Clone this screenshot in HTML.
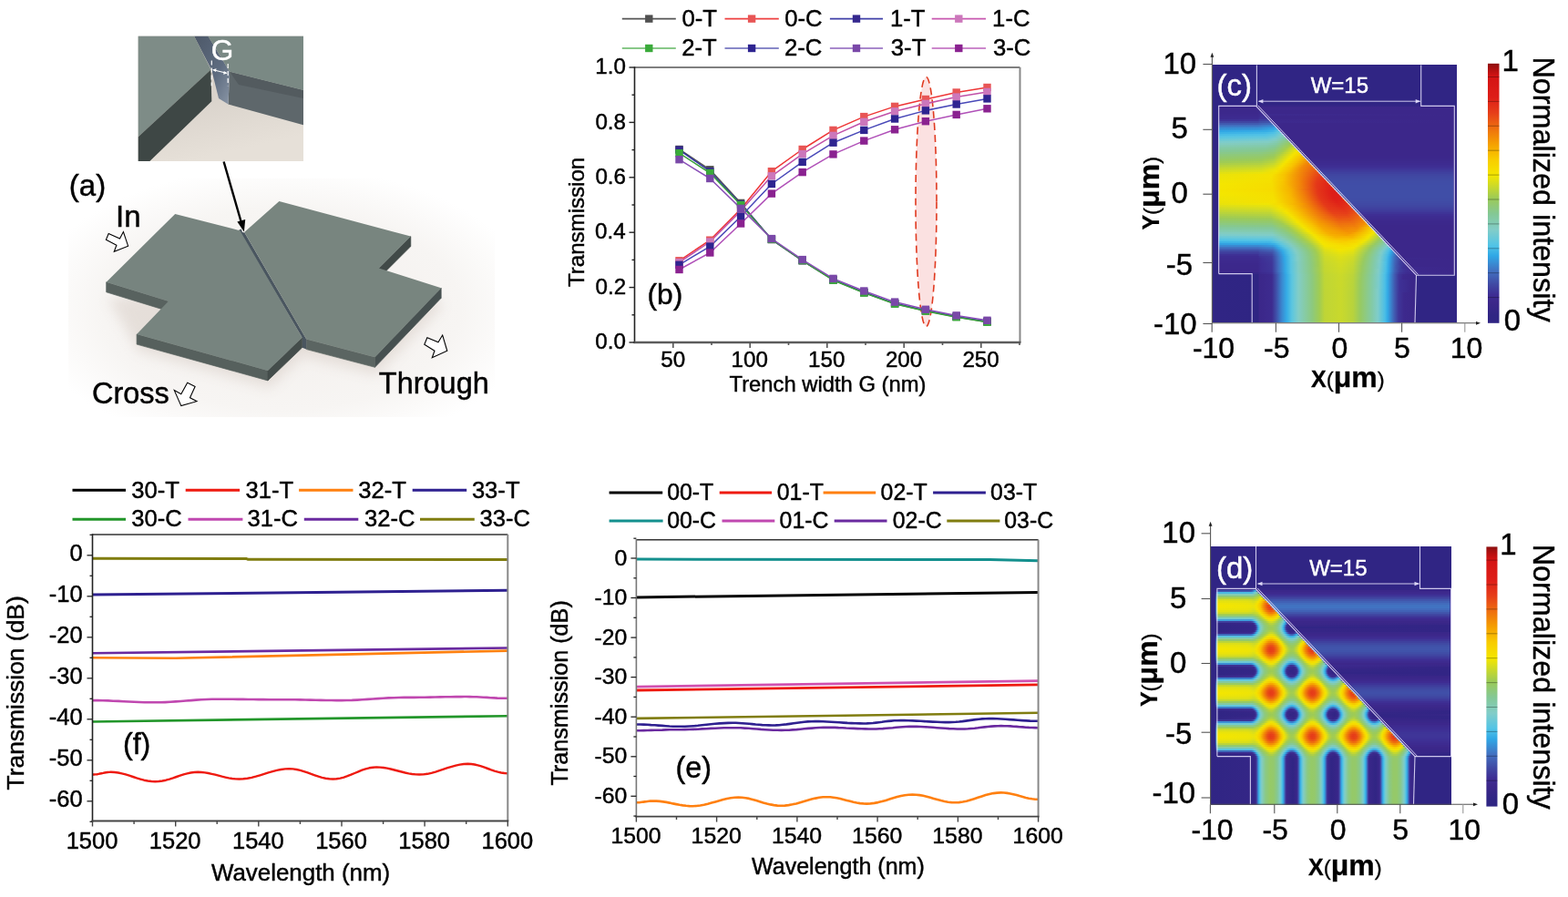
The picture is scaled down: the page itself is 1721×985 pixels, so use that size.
<!DOCTYPE html>
<html><head><meta charset="utf-8"><title>Figure</title>
<style>
html,body{margin:0;padding:0;background:#fff}
#fig{position:relative;width:1721px;height:985px;overflow:hidden;background:#fff;font-family:"Liberation Sans",Arial,sans-serif}
.fm{position:absolute;display:flex;flex-direction:column;overflow:hidden}
.fm i{display:block;flex:none;width:100%}
svg{position:absolute;left:0;top:0}
</style></head><body>
<div id="fig">
<div class="fm" style="left:1330.7px;top:71.4px;width:268px;height:283px"><i style="height:2px;background:#302584"></i><i style="height:2px;background:#302584"></i><i style="height:2px;background:#302584"></i><i style="height:2px;background:#302584"></i><i style="height:2px;background:#302584"></i><i style="height:2px;background:#302584"></i><i style="height:2px;background:#302584"></i><i style="height:2px;background:#302584"></i><i style="height:2px;background:#302584"></i><i style="height:2px;background:#302584"></i><i style="height:2px;background:#302584"></i><i style="height:2px;background:#302584"></i><i style="height:2px;background:#302584"></i><i style="height:2px;background:#302584"></i><i style="height:2px;background:#302584"></i><i style="height:2px;background:#302584"></i><i style="height:2px;background:#302584"></i><i style="height:2px;background:#302584"></i><i style="height:2px;background:#302584"></i><i style="height:2px;background:#302584"></i><i style="height:2px;background:#302584"></i><i style="height:2px;background:#302584"></i><i style="height:2px;background:linear-gradient(90deg,#302584 0px,#302584 6px,#362687 11px,#322585 265px,#302584 267px)"></i><i style="height:2px;background:linear-gradient(90deg,#302584 0px,#302584 6px,#3c278a 7px,#3c278a 264px,#302584 267px)"></i><i style="height:2px;background:linear-gradient(90deg,#302584 0px,#302584 6px,#3c288b 7px,#3c288b 52px,#3c278a 264px,#302584 267px)"></i><i style="height:2px;background:linear-gradient(90deg,#302584 0px,#302584 6px,#3c288b 7px,#3c288b 50px,#3e2d93 52px,#3c278a 56px,#3c278a 264px,#302584 267px)"></i><i style="height:2px;background:linear-gradient(90deg,#302584 0px,#302584 6px,#3c288c 7px,#3c288c 50px,#3e2d93 53px,#3c278a 59px,#3c278a 264px,#302584 267px)"></i><i style="height:2px;background:linear-gradient(90deg,#302584 0px,#302584 6px,#3d298d 7px,#3d298d 50px,#3e2f94 53px,#3d2a8e 57px,#3c278a 264px,#302584 267px)"></i><i style="height:2px;background:linear-gradient(90deg,#302584 0px,#302584 6px,#3d2a8f 7px,#3d2a8f 50px,#3e3196 54px,#3e3095 58px,#3c278a 61px,#3c278a 264px,#302584 267px)"></i><i style="height:2px;background:linear-gradient(90deg,#302584 0px,#302584 6px,#3d2b90 7px,#3d2c91 50px,#3e3497 52px,#3e3397 60px,#3c278a 63px,#3c278a 264px,#302584 267px)"></i><i style="height:2px;background:linear-gradient(90deg,#302584 0px,#302584 6px,#3e3397 7px,#3e3497 50px,#3f3f9d 51px,#3f42a0 61px,#3d298d 63px,#3c278a 264px,#302584 267px)"></i><i style="height:2px;background:linear-gradient(90deg,#302584 0px,#302584 6px,#4045a1 7px,#4046a2 50px,#404fa7 52px,#4154ab 63px,#3d2a8e 65px,#3c278a 264px,#302584 267px)"></i><i style="height:2px;background:linear-gradient(90deg,#302584 0px,#302584 6px,#4159af 7px,#415ab0 50px,#4162b5 53px,#4269bb 65px,#4050aa 66px,#3d2b8f 67px,#3c278a 78px,#3c278a 264px,#302584 267px)"></i><i style="height:2px;background:linear-gradient(90deg,#302584 0px,#302584 6px,#416fbf 7px,#4170c0 50px,#4077c5 54px,#3c83cd 66px,#3a88d0 67px,#3b63b7 68px,#3d2e91 69px,#3c278a 72px,#3c278a 264px,#302584 267px)"></i><i style="height:2px;background:linear-gradient(90deg,#302584 0px,#302584 6px,#3b85ce 7px,#3b87d0 50px,#388fd5 56px,#3599dc 66px,#32a7e5 69px,#3c74c0 70px,#3c278a 71px,#3c278a 264px,#302584 267px)"></i><i style="height:2px;background:linear-gradient(90deg,#302584 0px,#302584 6px,#3695d9 7px,#3597db 50px,#34abe6 67px,#42b7e6 70px,#42a7de 71px,#3860b3 72px,#3c278a 73px,#3c278a 264px,#302584 267px)"></i><i style="height:2px;background:linear-gradient(90deg,#302584 0px,#302584 6px,#31a5e4 7px,#36ade6 59px,#41b6e6 67px,#5ac6e1 72px,#4ab6df 73px,#3869b8 74px,#3c278a 75px,#3c278a 264px,#302584 267px)"></i><i style="height:2px;background:linear-gradient(90deg,#302584 0px,#302584 6px,#3bb1e6 7px,#43b8e6 57px,#4fc1e6 67px,#70cad4 74px,#59bedb 75px,#406fb8 76px,#3c278a 77px,#3c278a 264px,#302584 267px)"></i><i style="height:2px;background:linear-gradient(90deg,#302584 0px,#302584 6px,#48bce6 7px,#50c2e6 58px,#5ec6de 68px,#81cdc8 76px,#67c5d4 77px,#4776b8 78px,#3c278a 79px,#3c278a 264px,#302584 267px)"></i><i style="height:2px;background:linear-gradient(90deg,#302584 0px,#302584 6px,#55c4e4 7px,#5dc6df 59px,#6ac9d7 68px,#82ccc1 75px,#83cbb4 78px,#6ec8c7 79px,#3e3c9a 80px,#3c278a 81px,#3c278a 264px,#302584 267px)"></i><i style="height:2px;background:linear-gradient(90deg,#302584 0px,#302584 6px,#62c7dc 7px,#6bc9d6 60px,#7bcccc 69px,#84c9a0 80px,#628ea2 81px,#3e3e9b 82px,#3c278a 83px,#3c278a 264px,#302584 267px)"></i><i style="height:2px;background:linear-gradient(90deg,#302584 0px,#302584 6px,#6fcad4 7px,#79cbce 60px,#82ccc2 69px,#89c889 82px,#679097 83px,#3e419d 84px,#3c278a 85px,#3c278a 264px,#302584 267px)"></i><i style="height:2px;background:linear-gradient(90deg,#302584 0px,#302584 6px,#7ccccc 7px,#82cdc3 61px,#83cbb0 70px,#91c974 83px,#93c96e 84px,#6c938b 85px,#3f439f 86px,#3c278a 87px,#3c278a 264px,#302584 267px)"></i><i style="height:2px;background:linear-gradient(90deg,#302584 0px,#302584 6px,#82ccc2 7px,#83cbb8 59px,#83caa8 69px,#98ca60 84px,#9fcb54 86px,#759880 87px,#3f46a1 88px,#3c278a 89px,#3c278a 264px,#302584 267px)"></i><i style="height:2px;background:linear-gradient(90deg,#302584 0px,#302584 6px,#83cbb6 7px,#83caad 58px,#84c99c 69px,#a1cc52 84px,#b9d43b 88px,#607894 89px,#3c278a 90px,#3c278a 264px,#302584 267px)"></i><i style="height:2px;background:linear-gradient(90deg,#302584 0px,#302584 6px,#83caaa 7px,#84c9a1 58px,#85c892 68px,#a5cd4f 82px,#cdda28 89px,#add25b 90px,#62788c 91px,#3c278a 92px,#3c278a 264px,#302584 267px)"></i><i style="height:2px;background:linear-gradient(90deg,#302584 0px,#302584 6px,#84c9a0 7px,#84c896 57px,#8ac985 68px,#a3cd50 79px,#e4e110 91px,#bcd645 92px,#657882 93px,#3c278a 94px,#3c278a 264px,#302584 267px)"></i><i style="height:2px;background:linear-gradient(90deg,#302584 0px,#302584 6px,#84c896 7px,#87c88d 54px,#8ec97c 67px,#a5cd4e 77px,#f4e500 92px,#f5e200 93px,#c4d438 94px,#697878 95px,#3c278a 96px,#3c278a 264px,#302584 267px)"></i><i style="height:2px;background:linear-gradient(90deg,#302584 0px,#302584 6px,#88c88b 7px,#8cc981 53px,#92c96f 67px,#a8ce4b 75px,#f4e400 90px,#f6d800 95px,#c8cf2f 96px,#6d796f 97px,#3c278a 98px,#3c278a 264px,#302584 267px)"></i><i style="height:2px;background:linear-gradient(90deg,#302584 0px,#302584 6px,#8cc97f 7px,#90c976 53px,#97ca63 67px,#abcf49 73px,#f4e400 88px,#f8ce00 97px,#9aa466 98px,#3c56ac 99px,#3c278a 100px,#3c278a 264px,#302584 267px)"></i><i style="height:2px;background:linear-gradient(90deg,#302584 0px,#302584 6px,#90c975 7px,#94c96b 53px,#9cca58 67px,#f4e500 86px,#f7bc00 99px,#989e68 100px,#3b59ae 101px,#3c278b 102px,#3c278b 264px,#302584 267px)"></i><i style="height:2px;background:linear-gradient(90deg,#302584 0px,#302584 6px,#94c96b 7px,#98ca61 53px,#a5cd4e 67px,#f4e500 84px,#f7bb00 97px,#f6aa00 101px,#97986a 102px,#3a5db1 103px,#3c288b 104px,#3c288b 264px,#302584 267px)"></i><i style="height:2px;background:linear-gradient(90deg,#302584 0px,#302584 6px,#98ca60 7px,#9dcb57 53px,#b0d144 67px,#f4e500 82px,#f7bf00 94px,#f49603 103px,#949270 104px,#3861b4 105px,#3c298c 106px,#3c298c 264px,#302584 267px)"></i><i style="height:2px;background:linear-gradient(90deg,#302584 0px,#302584 6px,#9ecb56 7px,#a7ce4d 53px,#bad43a 67px,#f4e500 80px,#f7c000 92px,#f18608 105px,#929074 106px,#3d2a8e 107px,#3d2a8e 264px,#302584 267px)"></i><i style="height:2px;background:linear-gradient(90deg,#302584 0px,#302584 6px,#a9ce4b 7px,#b2d142 53px,#c6d82f 67px,#f4e400 78px,#f7c000 90px,#f18608 103px,#f07e0b 106px,#f2af06 107px,#998648 108px,#3d2b90 109px,#3d2b90 264px,#302584 267px)"></i><i style="height:2px;background:linear-gradient(90deg,#302584 0px,#302584 6px,#b4d240 7px,#bed537 53px,#d1db23 67px,#f4e400 76px,#f8c600 87px,#f28907 100px,#ef740e 108px,#f2a808 109px,#998549 110px,#3e2d92 111px,#3e2d92 264px,#302584 266px,#302584 267px)"></i><i style="height:2px;background:linear-gradient(90deg,#302584 0px,#302584 6px,#c0d635 7px,#c9d92c 53px,#dddf18 67px,#f4e300 74px,#f7c200 86px,#f28a07 98px,#ed6910 110px,#f1a009 111px,#9a834a 112px,#3e3095 113px,#3e3095 264px,#302584 266px,#302584 267px)"></i><i style="height:2px;background:linear-gradient(90deg,#302584 0px,#302584 6px,#cbd92a 7px,#d4dc21 53px,#ebe309 68px,#f5de00 74px,#f7c300 84px,#f28d06 96px,#eb5e13 112px,#f1980a 113px,#9b844c 114px,#3f3699 115px,#3f3699 264px,#3a2789 265px,#302584 266px,#302584 267px)"></i><i style="height:2px;background:linear-gradient(90deg,#302584 0px,#302584 6px,#d6dd1f 7px,#dfe015 53px,#f5e200 70px,#f7c000 83px,#f28b07 96px,#e95315 114px,#f0900b 115px,#477ec1 116px,#3f3c9c 117px,#3f3c9c 264px,#3b2789 265px,#302584 266px,#302584 267px)"></i><i style="height:2px;background:linear-gradient(90deg,#302584 0px,#302584 6px,#e1e013 7px,#ebe309 54px,#f5df00 69px,#f7c000 81px,#ef7a0c 100px,#e84817 116px,#9d847f 117px,#4b82c1 118px,#3f419f 119px,#3f419f 264px,#3c278a 265px,#302584 266px,#302584 267px)"></i><i style="height:2px;background:linear-gradient(90deg,#302584 0px,#302584 6px,#eae30a 7px,#f5e100 65px,#f7c200 79px,#f18708 96px,#e64019 117px,#e63e19 118px,#9f807d 119px,#4e85c0 120px,#4045a1 121px,#4045a1 264px,#3c278a 265px,#302584 266px,#302584 267px)"></i><i style="height:2px;background:linear-gradient(90deg,#302584 0px,#302584 6px,#ece408 7px,#f5e100 64px,#f7c500 78px,#f18508 96px,#e63e19 116px,#e43719 120px,#a17e7c 121px,#5087c0 122px,#4048a3 123px,#4048a3 264px,#3c288b 265px,#302584 266px,#302584 267px)"></i><i style="height:2px;background:linear-gradient(90deg,#302584 0px,#302584 6px,#eee406 7px,#f5e000 64px,#f7c400 78px,#f28807 95px,#e63c19 115px,#e33119 122px,#a37b7a 123px,#5289bf 124px,#404aa4 125px,#404aa4 264px,#3c288c 265px,#302584 266px,#302584 267px)"></i><i style="height:2px;background:linear-gradient(90deg,#302584 0px,#302584 6px,#f0e504 7px,#f5e000 63px,#f8c700 77px,#f18808 95px,#e53a19 115px,#e12c18 124px,#9b7c53 125px,#404ca5 126px,#404ca5 264px,#3c288c 265px,#302584 266px,#302584 267px)"></i><i style="height:2px;background:linear-gradient(90deg,#302584 0px,#302584 6px,#f2e502 7px,#f5df00 64px,#f7c200 78px,#f28807 95px,#e53a19 114px,#e12818 125px,#eb680c 126px,#9b7a53 127px,#404da6 128px,#404da6 264px,#3c298c 265px,#302584 266px,#302584 267px)"></i><i style="height:2px;background:linear-gradient(90deg,#302584 0px,#302584 6px,#f4e600 7px,#f5dd00 65px,#f7c200 78px,#f28907 95px,#e53819 114px,#e02418 127px,#ea640c 128px,#9b7853 129px,#404da7 130px,#404da7 264px,#3c298c 265px,#302584 266px,#302584 267px)"></i><i style="height:2px;background:linear-gradient(90deg,#302584 0px,#302584 6px,#f4e500 7px,#f5dd00 65px,#f7ba00 81px,#f0810a 97px,#e43819 114px,#df2118 129px,#ea600c 130px,#9b7753 131px,#404ea7 132px,#404ea7 264px,#3c298c 265px,#302584 266px,#302584 267px)"></i><i style="height:2px;background:linear-gradient(90deg,#302584 0px,#302584 6px,#f4e500 7px,#f6dc00 65px,#f6b600 83px,#f07e0b 98px,#e43819 114px,#de1f18 130px,#de1e18 131px,#e95e0c 132px,#9a7654 133px,#404ea7 134px,#404ea7 264px,#3c298c 265px,#302584 266px,#302584 267px)"></i><i style="height:2px;background:linear-gradient(90deg,#302584 0px,#302584 6px,#f4e400 7px,#f6db00 66px,#f6af00 86px,#ea5a13 106px,#e33319 116px,#de1e18 131px,#de1e18 133px,#a67376 134px,#578cbe 135px,#404ea7 136px,#404ea7 264px,#3c298c 265px,#302584 266px,#302584 267px)"></i><i style="height:2px;background:linear-gradient(90deg,#302584 0px,#302584 6px,#f4e500 7px,#f6dc00 66px,#f6b400 85px,#ef750e 101px,#e43619 115px,#de1e18 130px,#dd1d18 135px,#a67376 136px,#578cbe 137px,#404ea7 138px,#404ea7 264px,#3c298c 265px,#302584 266px,#302584 267px)"></i><i style="height:2px;background:linear-gradient(90deg,#302584 0px,#302584 6px,#f4e600 7px,#f5de00 66px,#f6b600 85px,#f07c0b 100px,#e43819 115px,#de1e18 130px,#dd1d18 137px,#a67376 138px,#578bbe 139px,#404ea7 140px,#404ea7 264px,#3c298c 265px,#302584 266px,#302584 267px)"></i><i style="height:2px;background:linear-gradient(90deg,#302584 0px,#302584 6px,#f3e601 7px,#f5df00 66px,#f7b800 85px,#f07f0a 100px,#e43719 116px,#de1e18 131px,#de1e18 139px,#a67376 140px,#578bbe 141px,#404ea7 142px,#404ea7 264px,#3c298c 265px,#302584 266px,#302584 267px)"></i><i style="height:2px;background:linear-gradient(90deg,#302584 0px,#302584 6px,#f1e503 7px,#f5e000 66px,#f7ba00 85px,#f18309 100px,#e43719 117px,#de1e18 132px,#de1f18 141px,#a57477 142px,#404ea7 143px,#404ea7 264px,#3c298c 265px,#302584 266px,#302584 267px)"></i><i style="height:2px;background:linear-gradient(90deg,#302584 0px,#302584 6px,#efe505 7px,#f5e000 67px,#f7b700 87px,#f07e0b 102px,#e43719 118px,#de1e18 133px,#df2118 142px,#ea620c 143px,#9b7953 144px,#404da6 145px,#404da6 264px,#3c298c 265px,#302584 266px,#302584 267px)"></i><i style="height:2px;background:linear-gradient(90deg,#302584 0px,#302584 6px,#eee407 7px,#f5e000 68px,#f6b600 88px,#f07e0a 103px,#e43819 119px,#de1f18 135px,#e02418 144px,#eb660c 145px,#9b7b53 146px,#404da6 147px,#404da6 264px,#3c298c 265px,#302584 266px,#302584 267px)"></i><i style="height:2px;background:linear-gradient(90deg,#302584 0px,#302584 6px,#ece308 7px,#f5e100 68px,#f6b600 89px,#f07b0c 105px,#e43719 121px,#df2218 136px,#e12818 146px,#eb6b0c 147px,#9b7d53 148px,#404ba5 149px,#404ba5 264px,#3c288c 265px,#302584 266px,#302584 267px)"></i><i style="height:2px;background:linear-gradient(90deg,#302584 0px,#302584 6px,#e8e20c 7px,#f0e504 61px,#f6d900 75px,#f59d01 98px,#e53919 122px,#e02518 138px,#e22d18 148px,#ec700c 149px,#9b7f52 150px,#4049a4 151px,#4049a4 264px,#3c288c 265px,#302584 266px,#302584 267px)"></i><i style="height:2px;background:linear-gradient(90deg,#302584 0px,#302584 6px,#dfdf16 7px,#e6e20e 61px,#f5e000 73px,#f7bf00 88px,#f18608 105px,#e53919 124px,#e12818 139px,#e33319 150px,#ed760c 151px,#4f87c1 152px,#4047a2 153px,#4047a2 264px,#3c288b 265px,#302584 266px,#302584 267px)"></i><i style="height:2px;background:linear-gradient(90deg,#302584 0px,#302584 6px,#d5dc20 7px,#dddf18 62px,#f5e200 75px,#f7c300 88px,#f18808 106px,#e53a19 126px,#e22d18 142px,#e53919 152px,#a0807d 153px,#4c85c1 154px,#4043a0 155px,#4043a0 264px,#3c278a 265px,#302584 266px,#302584 267px)"></i><i style="height:2px;background:linear-gradient(90deg,#302584 0px,#302584 6px,#cbd92a 7px,#d3dc22 63px,#ece408 73px,#f6dc00 81px,#f59d01 102px,#e53b19 128px,#e33219 144px,#e64019 154px,#9e847e 155px,#4882c2 156px,#3f3f9e 157px,#3f3f9e 264px,#3b278a 265px,#302584 266px,#302584 267px)"></i><i style="height:2px;background:linear-gradient(90deg,#302584 0px,#302584 6px,#c1d634 7px,#c9d92c 63px,#e2e013 73px,#f5e300 80px,#f7c300 92px,#f18509 110px,#e63e19 130px,#e43819 146px,#e84b16 156px,#9b887e 157px,#447cc1 158px,#3f3a9b 159px,#3f3a9b 264px,#3a2789 265px,#302584 266px,#302584 267px)"></i><i style="height:2px;background:linear-gradient(90deg,#302584 0px,#302584 6px,#b7d33d 7px,#bed536 63px,#d7dd1d 73px,#f4e400 82px,#f7c300 94px,#f18409 112px,#e74218 132px,#e63d19 147px,#ea5614 158px,#988a7d 159px,#4076bf 160px,#3e3497 161px,#3e3497 264px,#392789 265px,#302584 267px)"></i><i style="height:2px;background:linear-gradient(90deg,#302584 0px,#302584 6px,#add047 7px,#b5d23f 64px,#dbde1a 77px,#f5e200 85px,#f7be00 97px,#f07d0b 116px,#e84817 134px,#e74418 147px,#ec6112 160px,#9a854a 161px,#3e2f94 162px,#3e2f94 264px,#302584 266px,#302584 267px)"></i><i style="height:2px;background:linear-gradient(90deg,#302584 0px,#302584 6px,#a3cd50 7px,#aacf49 64px,#d0db25 77px,#f5e300 87px,#f7bf00 99px,#f07b0c 119px,#e94e16 136px,#e94e16 149px,#ed6910 161px,#f2a508 162px,#998649 163px,#3d2c91 164px,#3d2c91 264px,#302584 266px,#302584 267px)"></i><i style="height:2px;background:linear-gradient(90deg,#302584 0px,#302584 6px,#9aca5b 7px,#9fcb54 64px,#c5d82f 77px,#f4e300 89px,#f7bf00 101px,#ef760d 123px,#ea5514 139px,#eb5c13 153px,#ef740e 163px,#f2ac06 164px,#998748 165px,#3d2b8f 166px,#3d2b8f 264px,#302584 267px)"></i><i style="height:2px;background:linear-gradient(90deg,#302584 0px,#302584 6px,#95ca67 7px,#98ca61 64px,#a7ce4c 72px,#e4e110 87px,#f5e200 92px,#f7c100 103px,#f39105 117px,#eb6012 137px,#eb6012 151px,#f07e0b 165px,#f2b405 166px,#968749 167px,#3d298d 168px,#3d298d 264px,#302584 267px)"></i><i style="height:2px;background:linear-gradient(90deg,#302584 0px,#302584 6px,#90c974 7px,#93c96e 64px,#a2cc51 74px,#dddf18 88px,#f4e500 93px,#f7bf00 106px,#f39603 118px,#ed6811 139px,#ed6c10 154px,#f28907 167px,#eeba08 168px,#8d8451 169px,#3c288c 170px,#3c288c 264px,#302584 267px)"></i><i style="height:2px;background:linear-gradient(90deg,#302584 0px,#302584 6px,#8cc981 7px,#8ec97b 64px,#a0cc53 77px,#e5e10f 92px,#f4e300 96px,#f7c100 108px,#f5a000 117px,#ee710f 139px,#ef750d 155px,#f38f05 166px,#f59f01 169px,#979c6b 170px,#3b5aaf 171px,#3c288b 172px,#3c288b 264px,#302584 267px)"></i><i style="height:2px;background:linear-gradient(90deg,#302584 0px,#302584 6px,#87c88f 7px,#89c887 65px,#a3cd50 81px,#f4e400 98px,#f7c200 110px,#f5a400 118px,#ef790c 140px,#f07d0b 156px,#f39105 164px,#f6b400 171px,#98a268 172px,#3c56ac 173px,#3c278a 174px,#3c278a 264px,#302584 267px)"></i><i style="height:2px;background:linear-gradient(90deg,#302584 0px,#302584 6px,#84c99c 7px,#85c896 65px,#9ecb55 83px,#f3e501 100px,#f7c400 112px,#f5a600 120px,#f0810a 142px,#f28907 159px,#f8c900 173px,#9aa866 174px,#3d52aa 175px,#3c278a 176px,#3c278a 264px,#302584 267px)"></i><i style="height:2px;background:linear-gradient(90deg,#302584 0px,#302584 6px,#83caa8 7px,#84c9a2 65px,#8ec97b 77px,#a0cc53 86px,#f4e400 103px,#f7c100 115px,#f6a800 122px,#f28807 144px,#f39005 158px,#f6d700 175px,#9aab64 176px,#3e4fa7 177px,#3c278a 178px,#3c278a 264px,#302584 267px)"></i><i style="height:2px;background:linear-gradient(90deg,#302584 0px,#302584 6px,#83cbb4 7px,#83caae 65px,#8cc980 79px,#a3cd50 89px,#f3e501 105px,#f7c200 117px,#f6ab00 124px,#f38f05 147px,#f39503 156px,#f6da00 174px,#f5e200 177px,#9aad62 178px,#3c278a 179px,#3c278a 264px,#302584 267px)"></i><i style="height:2px;background:linear-gradient(90deg,#302584 0px,#302584 6px,#82ccc1 7px,#83ccbb 65px,#8bc982 82px,#a6cd4e 92px,#f4e400 108px,#f7bf00 120px,#f5a700 130px,#f49703 151px,#f6b500 161px,#f3e501 176px,#e8e20c 178px,#b4d44e 179px,#61788d 180px,#3c278a 181px,#3c278a 264px,#302584 267px)"></i><i style="height:2px;background:linear-gradient(90deg,#302584 0px,#302584 6px,#7bcccc 7px,#81cdc6 66px,#8ac986 84px,#a3cd50 94px,#f4e300 111px,#f6b100 129px,#f5a100 147px,#f6ac00 155px,#f4e400 173px,#ccda29 180px,#a3cf66 181px,#607897 182px,#3c278a 183px,#3c278a 264px,#302584 267px)"></i><i style="height:2px;background:linear-gradient(90deg,#302584 0px,#302584 6px,#6ec9d5 7px,#74cad1 65px,#83cbb9 74px,#89c889 86px,#a6ce4d 97px,#f4e400 113px,#f6b200 135px,#f6b100 153px,#f4e400 171px,#b1d143 182px,#95cc7d 183px,#5f799f 184px,#3c278a 185px,#3c278a 264px,#302584 267px)"></i><i style="height:2px;background:linear-gradient(90deg,#302584 0px,#302584 6px,#5fc6de 7px,#65c8da 65px,#82ccbf 76px,#8ac986 89px,#a3cd50 99px,#f4e400 115px,#f7be00 135px,#f7be00 153px,#efe405 170px,#98ca60 184px,#8bcb95 185px,#5f7aa9 186px,#3c278a 187px,#3c278a 264px,#302584 267px)"></i><i style="height:2px;background:linear-gradient(90deg,#302584 0px,#302584 6px,#4fc1e6 7px,#55c4e4 64px,#7acbcd 75px,#83cbb1 83px,#8fc977 94px,#a6cd4e 102px,#f4e500 117px,#f8d000 130px,#f8c600 146px,#f7d500 158px,#f1e503 167px,#98ca61 182px,#8dc97f 186px,#81caac 187px,#3e3f9c 188px,#3c278a 189px,#3c278a 264px,#302584 267px)"></i><i style="height:2px;background:linear-gradient(90deg,#302584 0px,#302584 6px,#3db3e6 7px,#43b8e6 63px,#5ac6e1 71px,#82ccc2 82px,#8dc97f 95px,#a8ce4c 105px,#f4e500 119px,#f8cf00 140px,#f6d700 156px,#f1e503 164px,#97ca63 180px,#84c99c 188px,#628ea9 189px,#3e3c99 190px,#3c278a 191px,#3c278a 264px,#302584 267px)"></i><i style="height:2px;background:linear-gradient(90deg,#302584 0px,#302584 6px,#33a0e0 7px,#33a6e4 60px,#3bb1e6 68px,#5ec6df 75px,#82ccc0 85px,#8cc982 97px,#a5cd4e 107px,#f4e501 121px,#f7d600 145px,#f5e100 158px,#e8e20c 163px,#96ca64 178px,#83caaa 188px,#83cbb8 190px,#618db4 191px,#3e3897 192px,#3c278a 193px,#3c278a 264px,#302584 267px)"></i><i style="height:2px;background:linear-gradient(90deg,#302584 0px,#302584 6px,#3a89d1 7px,#3a89d1 50px,#3890d6 57px,#3598db 66px,#34abe6 70px,#59c5e2 77px,#82ccc1 87px,#8dc97d 100px,#a4cd4f 109px,#f3e501 123px,#f6dc00 149px,#f1e503 158px,#99ca5e 175px,#83caaa 186px,#7eccca 191px,#78cbce 192px,#5788bc 193px,#3e3595 194px,#3c278a 195px,#3c278a 264px,#302584 267px)"></i><i style="height:2px;background:linear-gradient(90deg,#302584 0px,#302584 6px,#4171c0 7px,#4171c1 50px,#4078c5 54px,#3c82cc 66px,#33a7e4 72px,#5ac5e1 80px,#82ccc1 89px,#8dc97e 102px,#a5cd4f 111px,#eae30b 123px,#f5e000 137px,#f2e502 155px,#99ca5e 173px,#83caaa 184px,#7fccca 189px,#5bc6e0 194px,#4882c2 195px,#3e3293 196px,#3c278a 197px,#3c278a 264px,#302584 267px)"></i><i style="height:2px;background:linear-gradient(90deg,#302584 0px,#302584 6px,#415bb1 7px,#415bb1 50px,#4162b6 53px,#426cbd 66px,#33aae6 75px,#5dc6df 83px,#82cdc5 90px,#8bc983 103px,#a1cc52 112px,#e0e014 123px,#f4e500 140px,#ece309 154px,#96ca64 172px,#83caa7 182px,#7bcccd 188px,#4ec0e6 194px,#3db3e6 196px,#3d53aa 197px,#3c278a 198px,#3c278a 264px,#302584 267px)"></i><i style="height:2px;background:linear-gradient(90deg,#302584 0px,#302584 6px,#4048a3 7px,#4048a3 50px,#4050a9 52px,#415cb1 66px,#3a88d0 72px,#33abe6 77px,#5bc6e0 84px,#82cdc7 91px,#8cc980 105px,#a0cc53 113px,#d9de1c 123px,#eee406 140px,#e2e112 154px,#95c968 171px,#83caaa 181px,#7fccca 186px,#4cbfe6 193px,#32a8e5 196px,#339fe0 197px,#3c82cc 198px,#3f48a2 199px,#3c278a 200px,#3c278a 264px,#302584 267px)"></i><i style="height:2px;background:linear-gradient(90deg,#302584 0px,#302584 6px,#3f3c9c 7px,#3f3c9c 50px,#4045a1 52px,#404da6 65px,#4075c3 71px,#31a5e4 77px,#56c5e3 84px,#82cdc6 92px,#8cc980 106px,#a1cc52 114px,#d4dc21 123px,#e8e20d 141px,#dcdf19 154px,#97ca62 169px,#83caa9 180px,#80cdc9 185px,#4dc0e6 192px,#32aae6 195px,#3c81cc 199px,#416abb 200px,#3e3f9b 201px,#3c278a 202px,#3c278a 264px,#302584 267px)"></i><i style="height:2px;background:linear-gradient(90deg,#302584 0px,#302584 6px,#3e3195 7px,#3e3195 50px,#3f3b9c 51px,#4044a0 65px,#3f78c5 72px,#31a6e5 78px,#58c5e2 85px,#82cdc3 93px,#8bc983 106px,#a3cd50 115px,#d0db25 123px,#e2e112 141px,#d6dd1f 154px,#97ca62 168px,#83caa8 179px,#7bcccc 185px,#48bce6 192px,#31a4e3 195px,#4166b8 201px,#4155ac 202px,#3e3796 203px,#3c278a 204px,#3c278a 264px,#302584 267px)"></i><i style="height:2px;background:linear-gradient(90deg,#302584 0px,#302584 6px,#3d2c91 7px,#3d2c91 50px,#3e3497 52px,#3f3d9c 65px,#4173c2 72px,#31a9e6 79px,#5cc6e0 86px,#82cdc6 93px,#8cc981 107px,#a0cc53 115px,#ccda29 123px,#dedf17 141px,#d1db24 154px,#98ca61 167px,#83caa6 178px,#7eccca 184px,#4cbfe6 191px,#31a9e6 194px,#4160b4 201px,#4047a2 204px,#3e3293 205px,#3c278a 206px,#3c278a 264px,#302584 267px)"></i><i style="height:2px;background:linear-gradient(90deg,#302584 0px,#302584 6px,#3d2b8f 7px,#3d2b8f 50px,#3e3296 54px,#3f3b9b 65px,#4271c1 72px,#30a8e6 79px,#5bc6e0 86px,#82cdc6 93px,#8bc982 107px,#a4cd4f 116px,#cad92b 123px,#dbde1a 141px,#ceda27 154px,#98ca5f 166px,#83caa8 178px,#7dcccb 184px,#4abde6 191px,#30a7e5 194px,#4267ba 200px,#4047a2 205px,#3c298c 207px,#3c278a 264px,#302584 267px)"></i><i style="height:2px;background:linear-gradient(90deg,#302584 0px,#302584 6px,#3d2a8e 7px,#3d2a8e 50px,#3e3095 54px,#3f399a 65px,#4270c0 72px,#30a7e5 79px,#5bc6e1 86px,#82cdc7 93px,#8bc983 107px,#a3cd50 116px,#c9d92c 123px,#d8dd1c 141px,#cbd92a 154px,#97ca62 166px,#83caaa 178px,#81cdc8 183px,#48bce6 191px,#31a5e4 194px,#4166b8 200px,#4045a1 205px,#3e3194 208px,#3c278a 210px,#3c278a 264px,#302584 267px)"></i><i style="height:2px;background:linear-gradient(90deg,#302584 0px,#302584 6px,#3d298d 7px,#3d298d 50px,#3e2e94 53px,#3f3799 65px,#426fbf 72px,#31a6e5 79px,#5ac6e1 86px,#82ccc2 94px,#8cc97f 108px,#a2cc52 116px,#c7d82e 123px,#d6dd1f 141px,#c8d82d 154px,#98ca60 165px,#83caa6 177px,#80cdc9 183px,#4fc2e6 190px,#31a4e3 194px,#4164b7 200px,#3f43a0 205px,#3e2f93 210px,#3c278a 214px,#3c278a 264px,#302584 267px)"></i><i style="height:2px;background:linear-gradient(90deg,#302584 0px,#302584 6px,#3c288c 7px,#3c288c 50px,#3e2d93 53px,#3f3699 65px,#426fbf 72px,#34abe6 80px,#5ac5e1 86px,#82ccc2 94px,#8cc980 108px,#a1cc52 116px,#c6d82f 123px,#d4dc21 141px,#c6d82f 154px,#97ca62 165px,#83caa8 177px,#7eccca 183px,#4ec1e6 190px,#32a2e2 194px,#4163b6 200px,#3f419f 205px,#3d2d91 212px,#3c278a 218px,#3c278a 264px,#302584 267px)"></i><i style="height:2px;background:linear-gradient(90deg,#302584 0px,#302584 6px,#3c288b 7px,#3c288b 50px,#3e2d93 53px,#3f3698 65px,#426ebf 72px,#34abe6 80px,#59c5e1 86px,#82ccc3 94px,#8cc980 108px,#a0cc53 116px,#c5d730 123px,#d3dc22 141px,#c4d731 154px,#98ca5f 164px,#83caa9 177px,#7dcccb 183px,#4dc0e6 190px,#34abe6 193px,#4159af 201px,#3e3598 208px,#3d2c91 214px,#3c278a 218px,#3c278a 264px,#302584 267px)"></i><i style="height:2px;background:linear-gradient(90deg,#302584 0px,#302584 6px,#3c288b 7px,#3c288b 50px,#3e2d93 53px,#3f3598 65px,#426ebf 72px,#33abe6 80px,#59c5e1 86px,#82ccc3 94px,#8cc981 108px,#a5cd4e 117px,#c4d730 123px,#d1db24 141px,#c2d732 154px,#98ca61 164px,#83caaa 177px,#7ccccb 183px,#4cbfe6 190px,#33aae6 193px,#4158ae 201px,#3e3497 208px,#3d298e 216px,#3c278a 264px,#302584 267px)"></i><i style="height:2px;background:linear-gradient(90deg,#302584 0px,#302584 6px,#3c278b 7px,#3c278b 50px,#3e2d92 53px,#3e3598 65px,#426ebe 72px,#33abe6 80px,#59c5e2 86px,#82ccc3 94px,#8cc981 108px,#a5cd4f 117px,#c4d731 123px,#d0db25 141px,#c1d633 154px,#97ca62 164px,#83caa5 176px,#82cdc8 182px,#4bbfe6 190px,#32aae6 193px,#4161b5 200px,#3f409e 205px,#3e3196 211px,#3d298d 218px,#3c278a 264px,#302584 267px)"></i><i style="height:2px;background:linear-gradient(90deg,#302584 0px,#302584 6px,#3c278a 7px,#3c278a 50px,#3e2d92 53px,#3e3498 65px,#426ebe 72px,#33aae6 80px,#59c5e2 86px,#82cdc3 94px,#8cc981 108px,#a4cd4f 117px,#c3d731 123px,#cfdb26 141px,#c0d635 154px,#97ca63 164px,#83caa6 176px,#81cdc8 182px,#4bbee6 190px,#32a9e6 193px,#4160b4 200px,#3f3f9e 205px,#3e3095 211px,#3d298d 220px,#3c278a 264px,#302584 267px)"></i><i style="height:2px;background:linear-gradient(90deg,#302584 0px,#302584 6px,#362687 11px,#362687 50px,#3c2a8e 53px,#3e3094 65px,#4160b4 71px,#32a8e5 80px,#57c5e3 86px,#82cdc5 94px,#8bc983 108px,#a3cc51 117px,#c1d633 123px,#cdda28 141px,#bed537 154px,#98ca61 163px,#83caa8 176px,#7fccca 182px,#50c2e6 189px,#31a6e4 193px,#415bb1 200px,#3f389a 205px,#3d2b90 213px,#3c278a 264px,#302584 267px)"></i><i style="height:2px;background:linear-gradient(90deg,#302584 0px,#2f2583 50px,#3b2789 51px,#3d2b8f 65px,#4051a9 70px,#3a88d0 76px,#34abe6 81px,#5bc6e0 87px,#82cdc7 94px,#8cc980 109px,#a1cc52 117px,#c0d635 123px,#cbda29 141px,#bcd439 154px,#97ca63 163px,#83c9a5 175px,#7dcccb 182px,#4dc0e6 189px,#32a3e2 193px,#4161b5 199px,#3f3799 204px,#3d2a8e 209px,#3b2789 222px,#302584 223px,#362687 236px,#322585 265px,#302584 267px)"></i><i style="height:2px;background:linear-gradient(90deg,#302584 0px,#2f2583 50px,#3b2789 51px,#3d2b8f 65px,#4051a9 70px,#3a88d0 76px,#34abe6 81px,#5bc6e0 87px,#82cdc7 94px,#8cc980 109px,#a1cc52 117px,#c0d635 123px,#cbd92a 141px,#bbd439 154px,#97ca64 163px,#83caa5 175px,#7ccccc 182px,#4dc0e6 189px,#32a2e2 193px,#4161b5 199px,#3f3799 204px,#3d298e 209px,#3b2789 222px,#302584 223px,#302584 267px)"></i><i style="height:2px;background:linear-gradient(90deg,#302584 0px,#2f2583 50px,#3b2789 51px,#3d2b8f 65px,#4051a9 70px,#3a88d0 76px,#34abe6 81px,#5bc6e0 87px,#82cdc7 94px,#8cc980 109px,#a1cc53 117px,#bfd635 123px,#cbd92a 141px,#bad43a 154px,#96ca65 163px,#83caa6 175px,#7ccccc 182px,#4dc0e6 189px,#32a2e2 193px,#4161b5 199px,#3f3799 204px,#3d298d 209px,#3b2789 222px,#302584 223px,#302584 267px)"></i><i style="height:2px;background:linear-gradient(90deg,#302584 0px,#2f2583 50px,#3b2789 51px,#3d2b8f 65px,#4051a9 70px,#3a88d0 76px,#34abe6 81px,#5bc6e0 87px,#82cdc7 94px,#8cc980 109px,#a1cc53 117px,#bfd635 123px,#cad92b 141px,#bad43a 154px,#98ca60 162px,#83caa6 175px,#7ccccc 182px,#4cbfe6 189px,#33abe6 192px,#4156ad 200px,#3e3196 205px,#3b278a 218px,#3b2789 222px,#302584 223px,#302584 267px)"></i><i style="height:2px;background:linear-gradient(90deg,#302584 0px,#2f2583 50px,#3b2789 51px,#3d2b8f 65px,#4051a9 70px,#3a88d0 76px,#34abe6 81px,#5bc6e0 87px,#82cdc7 94px,#8cc980 109px,#a0cc53 117px,#bfd635 123px,#cad92b 141px,#bad43b 154px,#98ca60 162px,#83caa7 175px,#7bcccc 182px,#4cbfe6 189px,#33abe6 192px,#4156ad 200px,#3e3196 205px,#3b278a 218px,#3b2789 222px,#302584 223px,#302584 267px)"></i><i style="height:2px;background:linear-gradient(90deg,#302584 0px,#2f2583 50px,#3b2789 51px,#3d2b8f 65px,#4051a9 70px,#3a88d0 76px,#34abe6 81px,#5bc6e0 87px,#82cdc7 94px,#8cc980 109px,#a0cc53 117px,#bfd635 123px,#cad92b 141px,#b9d43b 154px,#98ca61 162px,#83caa7 175px,#7bcccc 182px,#4cbfe6 189px,#33aae6 192px,#4156ad 200px,#3e3196 205px,#3b278a 218px,#3b2789 222px,#302584 223px,#302584 267px)"></i><i style="height:2px;background:linear-gradient(90deg,#302584 0px,#2f2583 50px,#3b2789 51px,#3d2b8f 65px,#4051a9 70px,#3a88d0 76px,#34abe6 81px,#5bc6e0 87px,#82cdc7 94px,#8cc980 109px,#a0cc53 117px,#bfd635 123px,#cad92b 141px,#b9d43b 154px,#98ca61 162px,#83caa7 175px,#7bcccc 182px,#4cbfe6 189px,#33aae6 192px,#4156ad 200px,#3e3196 205px,#3b278a 218px,#3b2789 222px,#302584 223px,#302584 267px)"></i><i style="height:2px;background:linear-gradient(90deg,#302584 0px,#2f2583 50px,#3b2789 51px,#3d2b8f 65px,#4051a9 70px,#3a88d0 76px,#34abe6 81px,#5bc6e0 87px,#82cdc7 94px,#8cc980 109px,#a0cc53 117px,#bfd635 123px,#c9d92b 141px,#b9d43b 154px,#98ca61 162px,#83caa7 175px,#7bcccd 182px,#4cbfe6 189px,#33aae6 192px,#4156ad 200px,#3e3196 205px,#3b278a 218px,#3b2789 222px,#302584 223px,#302584 267px)"></i><i style="height:2px;background:linear-gradient(90deg,#302584 0px,#2f2583 50px,#3b2789 51px,#3d2b8f 65px,#4051a9 70px,#3a88d0 76px,#34abe6 81px,#5bc6e0 87px,#82cdc7 94px,#8cc980 109px,#a0cc53 117px,#bfd536 123px,#c9d92c 141px,#b9d33c 154px,#97ca61 162px,#83caa7 175px,#80cdc9 181px,#4bbfe6 189px,#33aae6 192px,#4156ad 200px,#3e3196 205px,#3b278a 218px,#3b2789 222px,#302584 223px,#302584 267px)"></i><i style="height:2px;background:linear-gradient(90deg,#302584 0px,#2f2583 50px,#3b2789 51px,#3d2b8f 65px,#4051a9 70px,#3a88d0 76px,#34abe6 81px,#5bc6e0 87px,#82cdc7 94px,#8cc980 109px,#a0cc53 117px,#bfd536 123px,#c9d92c 141px,#b8d33c 154px,#97ca62 162px,#83caa8 175px,#80cdc9 181px,#4bbfe6 189px,#33aae6 192px,#4156ad 200px,#3e3196 205px,#3b278a 218px,#3b2789 222px,#302584 223px,#302584 267px)"></i><i style="height:2px;background:linear-gradient(90deg,#302584 0px,#2f2583 50px,#3b2789 51px,#3d2b8f 65px,#4051a9 70px,#3a88d0 76px,#34abe6 81px,#5bc6e0 87px,#82cdc7 94px,#8cc980 109px,#a0cc53 117px,#bfd536 123px,#c9d92c 141px,#b8d33c 154px,#97ca62 162px,#83caa8 175px,#80cdc9 181px,#4bbee6 189px,#32aae6 192px,#4160b4 199px,#3f3699 204px,#3d298d 210px,#3b2789 222px,#302584 223px,#302584 267px)"></i><i style="height:2px;background:linear-gradient(90deg,#302584 0px,#2f2583 50px,#3b2789 51px,#3d2b8f 65px,#4051a9 70px,#3a88d0 76px,#34abe6 81px,#5bc6e0 87px,#82cdc7 94px,#8cc980 109px,#a0cc53 117px,#bfd536 123px,#c9d92c 141px,#b8d33c 154px,#97ca62 162px,#83caa8 175px,#80cdc9 181px,#4bbee6 189px,#32aae6 192px,#4160b4 199px,#3f3699 204px,#3d298d 210px,#3b2789 222px,#302584 223px,#302584 267px)"></i><i style="height:2px;background:linear-gradient(90deg,#302584 0px,#2f2583 50px,#3b2789 51px,#3d2b8f 65px,#4051a9 70px,#3a88d0 76px,#34abe6 81px,#5bc6e0 87px,#82cdc7 94px,#8cc980 109px,#a0cc53 117px,#bfd536 123px,#c9d92c 141px,#b8d33c 154px,#97ca62 162px,#83caa8 175px,#80cdc9 181px,#4bbee6 189px,#32aae6 192px,#4160b4 199px,#3f3699 204px,#3d298d 210px,#3b2789 222px,#302584 223px,#302584 267px)"></i><i style="height:2px;background:linear-gradient(90deg,#302584 0px,#2f2583 50px,#3b2789 51px,#3d2b8f 65px,#4051a9 70px,#3a88d0 76px,#34abe6 81px,#5bc6e0 87px,#82cdc7 94px,#8cc980 109px,#a0cc53 117px,#bfd536 123px,#c9d92c 141px,#b8d33c 154px,#97ca62 162px,#83caa8 175px,#80cdc9 181px,#4bbee6 189px,#32aae6 192px,#4160b4 199px,#3f3699 204px,#3d298d 210px,#3b2789 222px,#302584 223px,#302584 267px)"></i><i style="height:2px;background:linear-gradient(90deg,#302584 0px,#2f2583 50px,#3b2789 51px,#3d2b8f 65px,#4051a9 70px,#3a88d0 76px,#34abe6 81px,#5bc6e0 87px,#82cdc7 94px,#8cc980 109px,#a0cc53 117px,#bfd536 123px,#c9d92c 141px,#b8d33c 154px,#97ca62 162px,#83caa8 175px,#80cdc9 181px,#4bbee6 189px,#32aae6 192px,#4160b4 199px,#3f3699 204px,#3d298d 210px,#3b2789 222px,#302584 223px,#302584 267px)"></i><i style="height:2px;background:linear-gradient(90deg,#302584 0px,#2f2583 50px,#3b2789 51px,#3d2b8f 65px,#4051a9 70px,#3a88d0 76px,#34abe6 81px,#5bc6e0 87px,#82cdc7 94px,#8cc980 109px,#a0cc53 117px,#bfd536 123px,#c9d92c 141px,#b8d33c 154px,#97ca62 162px,#83caa8 175px,#80cdc9 181px,#4bbee6 189px,#32aae6 192px,#4160b4 199px,#3f3699 204px,#3d298d 210px,#3b2789 222px,#302584 223px,#302584 267px)"></i><i style="height:2px;background:linear-gradient(90deg,#302584 0px,#2f2583 50px,#3b2789 51px,#3d2b8f 65px,#4051a9 70px,#3a88d0 76px,#34abe6 81px,#5bc6e0 87px,#82cdc7 94px,#8cc980 109px,#a0cc53 117px,#bfd536 123px,#c9d92c 141px,#b8d33c 154px,#97ca62 162px,#83caa8 175px,#80cdc9 181px,#4bbee6 189px,#32aae6 192px,#4160b4 199px,#3f3699 204px,#3d298d 210px,#3b2789 222px,#302584 223px,#302584 267px)"></i><i style="height:2px;background:linear-gradient(90deg,#302584 0px,#2f2583 50px,#3b2789 51px,#3d2b8f 65px,#4051a9 70px,#3a88d0 76px,#34abe6 81px,#5bc6e0 87px,#82cdc7 94px,#8cc980 109px,#a0cc53 117px,#bfd536 123px,#c9d92c 141px,#b8d33c 154px,#97ca62 162px,#83caa8 175px,#80cdc9 181px,#4bbee6 189px,#32aae6 192px,#4160b4 199px,#3f3699 204px,#3d298d 210px,#3b2789 222px,#302584 223px,#302584 267px)"></i><i style="height:2px;background:linear-gradient(90deg,#302584 0px,#2f2583 50px,#3b2789 51px,#3d2b8f 65px,#4051a9 70px,#3a88d0 76px,#34abe6 81px,#5bc6e0 87px,#82cdc7 94px,#8cc980 109px,#a0cc53 117px,#bfd536 123px,#c9d92c 141px,#b8d33c 154px,#97ca62 162px,#83caa8 175px,#80cdc9 181px,#4bbee6 189px,#32aae6 192px,#4160b4 199px,#3f3699 204px,#3d298d 210px,#3b2789 222px,#302584 223px,#302584 267px)"></i><i style="height:2px;background:linear-gradient(90deg,#302584 0px,#2f2583 50px,#3b2789 51px,#3d2b8f 65px,#4051a9 70px,#3a88d0 76px,#34abe6 81px,#5bc6e0 87px,#82cdc7 94px,#8cc980 109px,#a0cc53 117px,#bfd536 123px,#c9d92c 141px,#b8d33c 154px,#97ca62 162px,#83caa8 175px,#80cdc9 181px,#4bbee6 189px,#32aae6 192px,#4160b4 199px,#3f3699 204px,#3d298d 210px,#3b2789 222px,#302584 223px,#302584 267px)"></i><i style="height:2px;background:linear-gradient(90deg,#302584 0px,#2f2583 50px,#3b2789 51px,#3d2b8f 65px,#4051a9 70px,#3a88d0 76px,#34abe6 81px,#5bc6e0 87px,#82cdc7 94px,#8cc980 109px,#a0cc53 117px,#bfd536 123px,#c9d92c 141px,#b8d33c 154px,#97ca62 162px,#83caa8 175px,#80cdc9 181px,#4bbee6 189px,#32aae6 192px,#4160b4 199px,#3f3699 204px,#3d298d 210px,#3b2789 222px,#302584 223px,#302584 267px)"></i><i style="height:2px;background:linear-gradient(90deg,#302584 0px,#2f2583 50px,#3b2789 51px,#3d2b8f 65px,#4051a9 70px,#3a88d0 76px,#34abe6 81px,#5bc6e0 87px,#82cdc7 94px,#8cc980 109px,#a0cc53 117px,#bfd536 123px,#c9d92c 141px,#b8d33c 154px,#97ca62 162px,#83caa8 175px,#80cdc9 181px,#4bbee6 189px,#32aae6 192px,#4160b4 199px,#3f3699 204px,#3d298d 210px,#3b2789 222px,#302584 223px,#302584 267px)"></i><i style="height:2px;background:linear-gradient(90deg,#302584 0px,#2f2583 50px,#3b2789 51px,#3d2b8f 65px,#4051a9 70px,#3a88d0 76px,#34abe6 81px,#5bc6e0 87px,#82cdc7 94px,#8cc980 109px,#a0cc53 117px,#bfd536 123px,#c9d92c 141px,#b8d33c 154px,#97ca62 162px,#83caa8 175px,#80cdc9 181px,#4bbee6 189px,#32aae6 192px,#4160b4 199px,#3f3699 204px,#3d298d 210px,#3b2789 222px,#302584 223px,#302584 267px)"></i><i style="height:2px;background:linear-gradient(90deg,#302584 0px,#2f2583 50px,#3b2789 51px,#3d2b8f 65px,#4051a9 70px,#3a88d0 76px,#34abe6 81px,#5bc6e0 87px,#82cdc7 94px,#8cc980 109px,#a0cc53 117px,#bfd536 123px,#c9d92c 141px,#b8d33c 154px,#97ca62 162px,#83caa8 175px,#80cdc9 181px,#4bbee6 189px,#32aae6 192px,#4160b4 199px,#3f3699 204px,#3d298d 210px,#3b2789 222px,#302584 223px,#302584 267px)"></i><i style="height:2px;background:linear-gradient(90deg,#302584 0px,#2f2583 50px,#3b2789 51px,#3d2b8f 65px,#4051a9 70px,#3a88d0 76px,#34abe6 81px,#5bc6e0 87px,#82cdc7 94px,#8cc980 109px,#a0cc53 117px,#bfd536 123px,#c9d92c 141px,#b8d33c 154px,#97ca62 162px,#83caa8 175px,#80cdc9 181px,#4bbee6 189px,#32aae6 192px,#4160b4 199px,#3f3699 204px,#3d298d 210px,#3b2789 222px,#302584 223px,#302584 267px)"></i><i style="height:2px;background:linear-gradient(90deg,#302584 0px,#2f2583 50px,#3b2789 51px,#3d2b8f 65px,#4051a9 70px,#3a88d0 76px,#34abe6 81px,#5bc6e0 87px,#82cdc7 94px,#8cc980 109px,#a0cc53 117px,#bfd536 123px,#c9d92c 141px,#b8d33c 154px,#97ca62 162px,#83caa8 175px,#80cdc9 181px,#4bbee6 189px,#32aae6 192px,#4160b4 199px,#3f3699 204px,#3d298d 210px,#3b2789 222px,#302584 223px,#302584 267px)"></i><i style="height:1px;background:linear-gradient(90deg,#302584 0px,#2f2583 50px,#3b2789 51px,#3d2b8f 65px,#4051a9 70px,#3a88d0 76px,#34abe6 81px,#5bc6e0 87px,#82cdc7 94px,#8cc980 109px,#a0cc53 117px,#bfd536 123px,#c9d92c 141px,#b8d33c 154px,#97ca62 162px,#83caa8 175px,#80cdc9 181px,#4bbee6 189px,#32aae6 192px,#4160b4 199px,#3f3699 204px,#3d298d 210px,#3b2789 222px,#302584 223px,#302584 267px)"></i></div>
<div class="fm" style="left:1329.2px;top:599.6px;width:264px;height:284px"><i style="height:2px;background:#302584"></i><i style="height:2px;background:#302584"></i><i style="height:2px;background:#302584"></i><i style="height:2px;background:#302584"></i><i style="height:2px;background:#302584"></i><i style="height:2px;background:#302584"></i><i style="height:2px;background:#302584"></i><i style="height:2px;background:#302584"></i><i style="height:2px;background:#302584"></i><i style="height:2px;background:#302584"></i><i style="height:2px;background:#302584"></i><i style="height:2px;background:#302584"></i><i style="height:2px;background:#302584"></i><i style="height:2px;background:#302584"></i><i style="height:2px;background:#302584"></i><i style="height:2px;background:#302584"></i><i style="height:2px;background:#302584"></i><i style="height:2px;background:#302584"></i><i style="height:2px;background:#302584"></i><i style="height:2px;background:#302584"></i><i style="height:2px;background:#302584"></i><i style="height:2px;background:#302584"></i><i style="height:2px;background:#302584"></i><i style="height:2px;background:linear-gradient(90deg,#302584 0px,#372788 45px,#3a3594 47px,#39459e 48px,#37298c 49px,#342686 57px,#322585 263px)"></i><i style="height:2px;background:linear-gradient(90deg,#302584 0px,#302584 5px,#3d2a8f 6px,#4157ae 7px,#4157ae 44px,#3d72c1 46px,#3da7e0 48px,#4bbce4 49px,#5783b8 50px,#3d3997 51px,#3b278a 52px,#3b278a 262px,#342686 263px)"></i><i style="height:2px;background:linear-gradient(90deg,#302584 0px,#302584 5px,#404ea8 6px,#4abae2 7px,#4cbbe3 45px,#71cad2 48px,#83cbb4 50px,#83c9a4 51px,#65909b 52px,#3f46a1 53px,#3d298d 54px,#3d298d 262px,#362687 263px)"></i><i style="height:2px;background:linear-gradient(90deg,#302584 0px,#302584 5px,#4073c2 6px,#83cbb4 7px,#81cbb9 43px,#83cbb3 46px,#8ac986 50px,#9ccb59 53px,#759e84 54px,#3e52ac 55px,#3e2e93 56px,#3e2e93 262px,#382688 263px)"></i><i style="height:2px;background:linear-gradient(90deg,#302584 0px,#302584 5px,#3792d7 6px,#91c973 7px,#8fc979 42px,#8ec97c 46px,#add047 52px,#cdda27 55px,#65a8a4 56px,#3f399a 57px,#3f399a 262px,#3a2789 263px)"></i><i style="height:2px;background:linear-gradient(90deg,#302584 0px,#302584 5px,#34a9e5 6px,#b4d240 7px,#b1d143 41px,#aacf4a 46px,#c7d82e 52px,#eee306 55px,#f5e100 56px,#c9d02d 57px,#7b8b6f 58px,#4047a2 59px,#4047a2 262px,#3c288b 263px)"></i><i style="height:2px;background:linear-gradient(90deg,#302584 0px,#302584 5px,#42b7e6 6px,#dade1b 7px,#d6dd1e 41px,#c8d82d 48px,#d8dd1d 51px,#f5e100 54px,#f7ba00 58px,#e5c110 59px,#999b55 60px,#4155ac 61px,#4155ac 262px,#3d2a8e 263px)"></i><i style="height:2px;background:linear-gradient(90deg,#302584 0px,#302584 5px,#48bce6 6px,#e7e20d 7px,#e4e111 41px,#d6dd1f 47px,#e5e10f 50px,#f5e300 52px,#f7c200 56px,#f18409 60px,#f2a607 61px,#9c985a 62px,#4161b5 63px,#4161b5 262px,#3d2c91 263px)"></i><i style="height:2px;background:linear-gradient(90deg,#302584 0px,#302584 5px,#4cbfe6 6px,#f0e505 7px,#eae30a 42px,#e2e013 47px,#f5e100 51px,#f7c200 55px,#f18209 59px,#ea5714 62px,#f0890b 63px,#9c935d 64px,#426bbc 65px,#426bbc 262px,#3e2d93 263px)"></i><i style="height:2px;background:linear-gradient(90deg,#302584 0px,#302584 5px,#4ec0e6 6px,#f4e600 7px,#eee406 42px,#e9e30c 47px,#f5e200 50px,#f8c900 54px,#f28a07 58px,#e94f16 62px,#e63e19 64px,#ee780c 65px,#619ec5 66px,#4172c1 67px,#4172c1 262px,#3e2f94 263px)"></i><i style="height:2px;background:linear-gradient(90deg,#302584 0px,#302584 5px,#4dc0e6 6px,#f3e601 7px,#ede407 42px,#e7e20d 47px,#f4e300 50px,#f8cb00 54px,#f28c06 58px,#e95115 62px,#e53c19 65px,#e53a19 66px,#b38471 67px,#5fa0c7 68px,#4173c2 69px,#4173c2 262px,#3e2f95 263px)"></i><i style="height:2px;background:linear-gradient(90deg,#302584 0px,#302584 5px,#4bbee6 6px,#ede407 7px,#eae30a 41px,#dedf17 47px,#f4e300 51px,#f8c600 55px,#f18608 59px,#e95215 63px,#e74418 66px,#e84917 68px,#b09072 69px,#599cc9 70px,#426cbd 71px,#426cbd 262px,#3e2d93 263px)"></i><i style="height:2px;background:linear-gradient(90deg,#302584 0px,#302584 5px,#47bbe6 6px,#e3e111 7px,#e0e014 41px,#d2dc22 48px,#f5e000 53px,#f8c800 56px,#f07d0b 61px,#eb5b13 65px,#eb5e13 68px,#ee6e0f 70px,#aca472 71px,#4f95cc 72px,#4162b6 73px,#4162b6 262px,#3d2c91 263px)"></i><i style="height:2px;background:linear-gradient(90deg,#302584 0px,#302584 5px,#3fb4e6 6px,#d1db23 7px,#ceda27 41px,#c1d633 47px,#cfdb26 51px,#f2e303 54px,#f7c300 58px,#f18409 63px,#ef760d 66px,#f1820a 69px,#f5a301 72px,#a3bd73 73px,#4187ca 74px,#4155ac 75px,#4155ac 262px,#3d2a8e 263px)"></i><i style="height:2px;background:linear-gradient(90deg,#302584 0px,#302584 5px,#32a3e2 6px,#a5cd4f 7px,#a3cd53 41px,#9dcb5c 45px,#bed537 52px,#f1e304 56px,#f7c500 60px,#f49e02 64px,#f49902 67px,#f6b600 71px,#f6d600 74px,#65baa5 75px,#4047a2 76px,#4047a2 262px,#3c288b 263px)"></i><i style="height:2px;background:linear-gradient(90deg,#302584 0px,#302584 5px,#3a8ad1 6px,#8ac986 7px,#89c98b 42px,#88c98d 46px,#92c971 49px,#a5cd4f 52px,#c2d633 55px,#eee307 58px,#f7cd00 62px,#f7bb00 66px,#f7d200 71px,#ede307 74px,#dedf17 75px,#a5cf5d 76px,#6183a0 77px,#3f399a 78px,#3f399a 262px,#3a2789 263px)"></i><i style="height:2px;background:linear-gradient(90deg,#302584 0px,#302584 5px,#4166b9 6px,#77cac8 7px,#76cacb 45px,#83c9a3 49px,#9ccb59 54px,#bbd439 57px,#e8e20c 60px,#f6db00 63px,#f6d700 68px,#ebe30a 72px,#98ca60 77px,#89ca99 78px,#5d7db0 79px,#3e2d93 80px,#3e2d93 262px,#382688 263px)"></i><i style="height:2px;background:linear-gradient(90deg,#302584 0px,#302584 5px,#3f419f 6px,#41a1db 7px,#3f9eda 44px,#41b2e4 46px,#5dc5de 48px,#7dcbc2 50px,#94c96b 55px,#a8ce4c 58px,#e6e20e 63px,#efe305 67px,#dfe015 70px,#99ca5e 75px,#83c9a3 79px,#71c9cf 80px,#4071ba 81px,#3d298d 82px,#3d298d 262px,#362687 263px)"></i><i style="height:2px;background:linear-gradient(90deg,#302584 0px,#302584 5px,#39278a 6px,#3f3c9b 7px,#3f3c9b 44px,#4051ab 46px,#398dd4 48px,#3dade3 49px,#51c0e2 50px,#7dccc5 52px,#93c96f 57px,#a4cd4f 60px,#cdda27 64px,#d3dc22 67px,#bfd635 70px,#95c968 74px,#84c99b 77px,#80ccc4 79px,#5ac5e0 81px,#37a3e0 82px,#3f4ca5 83px,#3b2789 84px,#3b2789 262px,#342686 263px)"></i><i style="height:2px;background:linear-gradient(90deg,#302584 0px,#362687 27px,#392789 46px,#3c2a8e 47px,#3f3d9d 48px,#4163b6 49px,#3793d8 50px,#41b6e6 51px,#5cc6e0 52px,#76cbcf 53px,#82ccbd 54px,#8fc978 58px,#a2cc51 62px,#b8d33c 65px,#b5d23f 68px,#93c96f 73px,#84c9a0 76px,#7fccc8 78px,#51c1e4 80px,#38aee6 81px,#3792d7 82px,#4066b9 83px,#3f399a 84px,#3a2789 85px,#382688 262px,#332585 263px)"></i><i style="height:2px;background:linear-gradient(90deg,#302584 0px,#362687 47px,#3a2789 48px,#3e3396 49px,#415bb1 50px,#3791d7 51px,#40b5e6 52px,#5cc6df 53px,#77cbcf 54px,#82ccbd 55px,#8ec97b 59px,#a2cc51 64px,#a7ce4c 67px,#96ca65 71px,#88c88a 74px,#81cdc6 77px,#55c4e4 79px,#3ab0e6 80px,#3793d8 81px,#4161b5 82px,#3f389a 83px,#3b288b 84px,#372687 96px,#322585 263px)"></i><i style="height:2px;background:linear-gradient(90deg,#302584 0px,#342686 47px,#3c288b 49px,#4045a1 50px,#4077c5 51px,#34abe6 52px,#51c3e6 53px,#82cdc5 55px,#8cc980 59px,#9cca57 64px,#9dcb56 68px,#90c976 72px,#83caa6 75px,#7ccccc 77px,#4abee6 79px,#30a7e5 80px,#3d7fca 81px,#404da6 82px,#3d2b90 83px,#312585 87px,#322585 263px)"></i><i style="height:2px;background:linear-gradient(90deg,#302584 0px,#352687 47px,#3d2a8f 49px,#404ca6 50px,#3d80cb 51px,#38aee6 52px,#55c5e4 53px,#82ccc3 55px,#8dc97e 59px,#9ecb56 64px,#9fcb54 68px,#91c974 72px,#83c9a3 75px,#7eccca 77px,#4ec1e6 79px,#33aae6 80px,#3b86cf 81px,#4154ab 82px,#3e2e93 83px,#362687 85px,#362687 91px,#322585 263px)"></i><i style="height:2px;background:linear-gradient(90deg,#302584 0px,#392688 47px,#3d2a8f 48px,#4046a2 49px,#36a5e2 51px,#4cbfe6 52px,#7fccc8 54px,#8cc980 58px,#a9cf4a 64px,#afd045 67px,#94c96a 72px,#85c896 75px,#82ccbf 77px,#76cbcf 78px,#44b9e6 80px,#32a1e1 81px,#3e77c5 82px,#404ba6 83px,#3d2e92 84px,#372687 86px,#322585 263px)"></i><i style="height:2px;background:linear-gradient(90deg,#302584 0px,#352686 6px,#3a288b 13px,#3b2a8e 45px,#3f409f 47px,#4060b4 48px,#3a8ad2 49px,#3bafe5 50px,#54c2e2 51px,#80ccc3 53px,#8ec97a 57px,#a3cd50 61px,#c4d731 65px,#c1d634 68px,#96ca66 73px,#86c894 76px,#82ccbe 78px,#78cbce 79px,#48bce6 81px,#36a7e3 82px,#3f42a0 85px,#3b2a8e 87px,#3c2c90 91px,#3e3798 92px,#404ea8 93px,#3c57ae 94px,#392789 95px,#392789 262px,#332686 263px)"></i><i style="height:2px;background:linear-gradient(90deg,#302584 0px,#302584 5px,#3e3093 6px,#3d6abb 7px,#3e6abb 44px,#3a84ce 46px,#3fb4e6 48px,#6bc9d6 50px,#7ccbc5 51px,#93c96d 56px,#a5cd4e 59px,#dddf18 64px,#e2e112 67px,#cfda26 70px,#9aca5d 74px,#84c9a0 78px,#7eccc7 80px,#58c4e1 82px,#38a6e2 84px,#3f69ba 87px,#415bb1 89px,#3e70bf 91px,#369adc 93px,#3aaee5 94px,#48a8da 95px,#396ab8 96px,#3c278a 97px,#3c278a 262px,#352686 263px)"></i><i style="height:2px;background:linear-gradient(90deg,#302584 0px,#302584 5px,#4155ac 6px,#59c2de 7px,#58c2df 45px,#77caca 48px,#83caac 50px,#95c968 54px,#aacf49 57px,#ede308 62px,#f5de00 67px,#eee306 70px,#c8d82c 73px,#98ca5f 76px,#7dccc8 82px,#50bfe3 85px,#3cb1e5 87px,#3baee4 90px,#49bbe5 92px,#77cbcf 95px,#80ccc2 96px,#6dc7c5 97px,#577aaf 98px,#3d2a8e 99px,#3d2a8e 262px,#362687 263px)"></i><i style="height:2px;background:linear-gradient(90deg,#302584 0px,#302584 5px,#3f79c6 6px,#83caa7 7px,#83caab 42px,#83caae 45px,#88c88b 49px,#a0cc54 53px,#bed536 56px,#ece309 59px,#f6d700 62px,#f7cb00 67px,#f5e100 72px,#dddf18 74px,#a3cd51 77px,#87c891 81px,#81ccc0 84px,#68c8d8 88px,#6fc9d4 91px,#83ccbb 94px,#8ec97a 98px,#8dcb93 99px,#607ba0 100px,#3e2e93 101px,#3e2e93 262px,#382688 263px)"></i><i style="height:2px;background:linear-gradient(90deg,#302584 0px,#302584 5px,#3697da 6px,#94c96a 7px,#93c96d 41px,#90c976 45px,#98ca63 48px,#c5d730 54px,#efe305 57px,#f6b600 63px,#f6aa00 66px,#f7bc00 70px,#f5df00 74px,#eee307 75px,#a2cc52 79px,#85c999 84px,#83cbb5 87px,#83cbb7 90px,#84c9a1 93px,#9bca5c 98px,#bdd538 100px,#b0d357 101px,#687f85 102px,#3f3799 103px,#3f3799 262px,#3a2789 263px)"></i><i style="height:2px;background:linear-gradient(90deg,#302584 0px,#302584 5px,#36ade6 6px,#bdd537 7px,#bad43b 41px,#b2d142 46px,#c3d732 51px,#f1e303 55px,#f7c300 59px,#f39404 63px,#f18708 66px,#f39204 69px,#f5e000 76px,#ece308 77px,#a0cc54 81px,#89c88a 86px,#86c994 89px,#8dc97e 93px,#9aca5c 96px,#b9d43b 98px,#f1e303 101px,#f6dc00 102px,#cdce29 103px,#6184a6 104px,#3f419f 105px,#3f419f 262px,#3c278a 263px)"></i><i style="height:2px;background:linear-gradient(90deg,#302584 0px,#302584 5px,#44b8e6 6px,#dddf18 7px,#dade1b 41px,#cbd92a 48px,#dddf18 51px,#f2e303 53px,#f7c500 57px,#f07f0a 62px,#ed6910 65px,#ed6c10 68px,#f39504 72px,#f7d100 76px,#f3e301 78px,#9fcb55 83px,#90c975 87px,#91c973 91px,#a4cd50 95px,#ede407 99px,#f8cc00 102px,#f6ad00 104px,#9aa675 105px,#4683c4 106px,#4049a3 107px,#4049a3 262px,#3c288b 263px)"></i><i style="height:2px;background:linear-gradient(90deg,#302584 0px,#302584 5px,#49bce6 6px,#e9e30b 7px,#e6e20f 41px,#d8dd1d 47px,#f5e100 52px,#f7bf00 56px,#ec6611 62px,#e95015 65px,#e95315 68px,#f07c0b 72px,#f7c000 76px,#f5e200 79px,#d7dd1e 81px,#9ecb56 85px,#96ca65 89px,#a1cc52 93px,#dfdf16 97px,#f0e404 98px,#f8ca00 101px,#f18508 105px,#ef760d 106px,#a1947b 107px,#4f8ac3 108px,#4050a8 109px,#4050a8 262px,#3d298d 263px)"></i><i style="height:2px;background:linear-gradient(90deg,#302584 0px,#302584 5px,#4cbfe6 6px,#f1e504 7px,#ebe309 42px,#e3e111 47px,#f5e000 51px,#f7c100 55px,#f0800a 59px,#e84b16 63px,#e63e19 66px,#e84917 69px,#f07c0b 73px,#f6b100 76px,#f6da00 79px,#f4e300 80px,#add047 85px,#9cca58 88px,#a0cc53 91px,#cdda28 95px,#efe505 97px,#f8cd00 100px,#f18508 104px,#e94e16 108px,#a5857a 109px,#538dc2 110px,#4154ab 111px,#4154ab 262px,#3d2a8e 263px)"></i><i style="height:2px;background:linear-gradient(90deg,#302584 0px,#302584 5px,#4ec0e6 6px,#f4e600 7px,#eee406 42px,#e9e30b 47px,#f5e200 50px,#f8c900 54px,#f28a07 58px,#e94e16 62px,#e53a19 65px,#e74218 69px,#ef750d 73px,#f7bd00 77px,#f6d700 79px,#eee406 81px,#b4d240 85px,#a0cc53 88px,#a7ce4d 91px,#d4dc21 95px,#f4e500 97px,#f8c800 100px,#f39005 103px,#e95215 107px,#e53b19 110px,#a68178 111px,#548ec2 112px,#4155ac 113px,#4155ac 262px,#3d2a8e 263px)"></i><i style="height:2px;background:linear-gradient(90deg,#302584 0px,#302584 5px,#4dc0e6 6px,#f2e502 7px,#ede407 42px,#e6e20e 47px,#f5df00 51px,#f8cc00 54px,#f28d06 58px,#e95215 62px,#e63d19 65px,#e74518 69px,#ef780c 73px,#f7c000 77px,#f5e200 80px,#b0d144 85px,#9ecb55 88px,#a3cd50 91px,#d0db25 95px,#f2e502 97px,#f8cb00 100px,#f18209 104px,#e84b16 108px,#e53b19 111px,#e53c19 112px,#a68479 113px,#4053aa 114px,#4053aa 262px,#3d298e 263px)"></i><i style="height:2px;background:linear-gradient(90deg,#302584 0px,#302584 5px,#4abee6 6px,#ece308 7px,#e9e30c 41px,#dcdf19 47px,#f4e400 51px,#f8c800 55px,#f28907 59px,#ea5514 63px,#e84717 66px,#e95315 69px,#f18508 73px,#f8cb00 77px,#f0e404 80px,#aed045 84px,#99ca5d 87px,#9aca5b 91px,#b4d240 94px,#f4e400 98px,#f7c500 101px,#f07f0a 105px,#e95015 109px,#e84817 112px,#e84b16 113px,#f1900a 114px,#9c9154 115px,#404ea7 116px,#404ea7 262px,#3d298d 263px)"></i><i style="height:2px;background:linear-gradient(90deg,#302584 0px,#302584 5px,#46bae6 6px,#e1e013 7px,#dedf17 41px,#d0db25 48px,#e4e110 51px,#f5e200 53px,#f7bd00 57px,#ef760d 62px,#eb6012 65px,#ec6312 68px,#f28c06 72px,#f6d600 77px,#ede407 79px,#a6cd4e 83px,#95c969 86px,#92c970 90px,#9fcb55 94px,#f2e302 99px,#f8c600 102px,#ef790c 107px,#ec6112 110px,#ec6212 113px,#ee700f 115px,#f3ae05 116px,#9a9852 117px,#4048a3 118px,#4048a3 262px,#3c288b 263px)"></i><i style="height:2px;background:linear-gradient(90deg,#302584 0px,#302584 5px,#3cb2e6 6px,#cbd929 7px,#c8d82d 41px,#bed537 47px,#cbd92a 51px,#f5e100 55px,#f7ba00 59px,#f28907 63px,#f07c0b 66px,#f18708 69px,#f7b700 73px,#f6db00 76px,#f3e302 77px,#9ccb59 82px,#8cc980 86px,#89c887 90px,#94c96c 94px,#a0cc54 96px,#ece308 100px,#f6d700 102px,#f28c06 108px,#f07c0b 111px,#f18508 114px,#f5a401 117px,#e8cc0e 118px,#7c8b6d 119px,#3f3f9e 120px,#3f3f9e 262px,#3b278a 263px)"></i><i style="height:2px;background:linear-gradient(90deg,#302584 0px,#302584 5px,#339fe0 6px,#9fcc58 7px,#9bcb5e 42px,#99ca62 46px,#c3d732 53px,#ede307 56px,#f7d300 59px,#f5a401 64px,#f59f02 67px,#f7bc00 71px,#f5e200 75px,#d5dc20 77px,#9dcb59 80px,#84c9a2 86px,#83caad 89px,#84c99e 92px,#97ca61 97px,#b4d240 99px,#eee306 102px,#f7c300 106px,#f5a101 110px,#f5a101 113px,#f6d700 119px,#c7d72d 120px,#66818a 121px,#3f3698 122px,#3f3698 262px,#3a2789 263px)"></i><i style="height:2px;background:linear-gradient(90deg,#302584 0px,#302584 5px,#3b84ce 6px,#88c991 7px,#87c996 42px,#86c996 46px,#8ec97a 49px,#a1cc53 52px,#bbd439 55px,#eae30a 58px,#f6d700 61px,#f7c100 66px,#f6dc00 72px,#eae30b 74px,#9ecb57 78px,#83caa6 83px,#7dccc7 86px,#78cbce 90px,#83ccbb 93px,#8dc97f 97px,#a4cd50 100px,#eee207 104px,#f7cd00 108px,#f7c100 112px,#f5e100 118px,#dcdf18 120px,#c9d92c 121px,#97cc72 122px,#4576bd 123px,#3e2d93 124px,#3e2d93 262px,#382688 263px)"></i><i style="height:2px;background:linear-gradient(90deg,#302584 0px,#302584 5px,#4160b4 6px,#70cad3 7px,#6ec9d4 45px,#82cbba 48px,#8ec97b 52px,#9fcb55 55px,#ede308 61px,#f6d800 66px,#efe206 71px,#c3d732 74px,#9fcc55 76px,#83caac 81px,#7bcbca 83px,#54c1e1 86px,#46bae6 89px,#59c3e0 92px,#7eccc5 95px,#99ca5f 101px,#eae30a 106px,#f6da00 110px,#f1e204 116px,#d9de1b 118px,#98ca61 122px,#92c971 123px,#6596a0 124px,#3f429f 125px,#3d2a8e 126px,#3d2a8e 262px,#362687 263px)"></i><i style="height:2px;background:linear-gradient(90deg,#302584 0px,#302584 5px,#3f3a9b 6px,#3c8ed3 7px,#3b8dd3 44px,#3ea3dd 46px,#41b5e6 47px,#67c8d9 49px,#83cbb9 51px,#92c971 55px,#a3cc51 58px,#e0e014 63px,#ede308 66px,#e3e112 69px,#b0d144 73px,#97ca63 75px,#83caaa 79px,#79cbcd 81px,#3fb4e6 84px,#3694d9 86px,#3c7cc8 88px,#3b7fca 90px,#3aace4 93px,#5ac4e0 95px,#7eccc7 97px,#94c96b 102px,#a6ce4d 104px,#dedf17 108px,#ede308 111px,#e5e110 114px,#b5d23f 118px,#99ca5e 120px,#83c9a3 124px,#83cbb8 125px,#5b8cbb 126px,#3e3495 127px,#3c278a 128px,#3c278a 262px,#352686 263px)"></i><i style="height:2px;background:linear-gradient(90deg,#302584 0px,#302584 5px,#382688 6px,#3d3293 7px,#3d3394 44px,#3f42a1 46px,#415ab0 47px,#3aa2de 49px,#49bce5 50px,#7acbcb 52px,#83caa7 54px,#91c972 57px,#a0cc54 60px,#c8d82c 64px,#ceda27 67px,#bad43a 70px,#98ca5f 73px,#84c9a0 77px,#7eccc8 79px,#54c2e3 81px,#3cb2e6 82px,#349bdd 83px,#415ab0 85px,#3f42a0 86px,#3d3092 88px,#3f3a9a 91px,#404ba6 92px,#37a6e2 95px,#46bae6 96px,#75cbd0 98px,#82ccc1 99px,#90c975 103px,#a7ce4d 106px,#ccda29 110px,#cbd929 113px,#a5cd4e 117px,#8ac986 121px,#81ccc3 124px,#5bc6e0 126px,#43b8e6 127px,#3a67ba 128px,#3c298d 129px,#392789 262px,#332686 263px)"></i><i style="height:2px;background:linear-gradient(90deg,#302584 0px,#3b288b 47px,#3e3697 48px,#4157ae 49px,#3b87d0 50px,#3ab0e6 51px,#56c4e2 52px,#82ccc1 54px,#8ec97b 58px,#a8ce4b 63px,#b6d33e 66px,#abcf49 69px,#8cc97f 74px,#7dcccb 78px,#4cbfe6 80px,#36aae4 81px,#3a89d1 82px,#3f399a 84px,#3c298d 85px,#372688 91px,#3d2d91 93px,#4046a2 94px,#3f6ebe 95px,#3599dc 96px,#3db3e6 97px,#57c5e2 98px,#81ccc4 100px,#8fc979 104px,#aed046 109px,#b6d33e 112px,#9ccb58 116px,#88c88a 120px,#80ccc6 123px,#54c3e3 125px,#3ab0e6 126px,#3695d9 127px,#4068ba 128px,#3f42a0 129px,#3b278a 130px,#332585 263px)"></i><i style="height:2px;background:linear-gradient(90deg,#302584 0px,#362687 47px,#3e2e93 49px,#4155ac 50px,#398bd2 51px,#3db3e6 52px,#59c5e1 53px,#74cad1 54px,#82ccbf 55px,#8ec97c 59px,#a0cc53 64px,#a5cd4e 67px,#95ca67 71px,#88c88c 74px,#80cdc8 77px,#52c3e5 79px,#37aee6 80px,#388ed4 81px,#415cb1 82px,#3e3497 83px,#3a2789 84px,#332686 91px,#3c298d 94px,#3f43a0 95px,#4070c0 96px,#339fe0 97px,#42b7e6 98px,#5dc6df 99px,#76cbd0 100px,#82ccc0 101px,#8fc978 105px,#9fcb55 109px,#a6cd4e 112px,#97ca64 116px,#8ac887 119px,#82ccc2 122px,#5ac5e1 124px,#3fb4e6 125px,#349add 126px,#4169bb 127px,#3f3e9d 128px,#3c288c 129px,#362687 134px,#322585 263px)"></i><i style="height:2px;background:linear-gradient(90deg,#302584 0px,#342686 47px,#3c288b 49px,#4044a1 50px,#4076c4 51px,#33abe6 52px,#50c3e6 53px,#82cdc6 55px,#8cc981 59px,#9bca58 64px,#9dcb56 68px,#90c976 72px,#83caa6 75px,#7ccccc 77px,#4abde6 79px,#30a7e5 80px,#3e7ec9 81px,#404ca5 82px,#3d2b8f 83px,#312585 87px,#3a2789 94px,#3e3498 95px,#415fb4 96px,#3793d7 97px,#3ab0e6 98px,#55c5e4 99px,#82cdc6 101px,#8dc97d 105px,#9bca59 109px,#9ecb55 113px,#91c973 117px,#84c9a0 120px,#82cdc8 122px,#52c4e6 124px,#37aee6 125px,#398dd4 126px,#4159af 127px,#3e2f95 128px,#392789 129px,#342686 134px,#322585 263px)"></i><i style="height:2px;background:linear-gradient(90deg,#302584 0px,#352687 47px,#3d2c90 49px,#4051a9 50px,#3b86cf 51px,#3ab0e6 52px,#57c5e3 53px,#72cad2 54px,#82ccc1 55px,#8dc97d 59px,#9fcb54 64px,#a4cd50 67px,#95c968 71px,#87c88e 74px,#80cdc9 77px,#50c2e6 79px,#35ace6 80px,#3a8ad2 81px,#4158ae 82px,#3e3195 83px,#3a2789 84px,#332585 91px,#3c288c 94px,#3f3f9e 95px,#416bbc 96px,#349cde 97px,#40b5e6 98px,#5bc6e0 99px,#74cad1 100px,#82ccc1 101px,#8fc97a 105px,#9dcb56 109px,#a4cd4f 112px,#96ca65 116px,#89c888 119px,#82cdc4 122px,#58c5e2 124px,#3db3e6 125px,#3597db 126px,#4165b8 127px,#3f3a9b 128px,#3b278a 129px,#322585 135px,#322585 263px)"></i><i style="height:2px;background:linear-gradient(90deg,#302584 0px,#3a2789 47px,#3e3093 48px,#404fa8 49px,#38abe4 51px,#51c1e4 52px,#81ccc4 54px,#8dc97d 58px,#add047 64px,#b2d142 67px,#99ca5d 71px,#86c893 75px,#7acbcd 78px,#48bce6 80px,#34a6e3 81px,#4054ab 83px,#3e3496 84px,#3b288b 85px,#392688 92px,#3c2a8e 93px,#3f3e9d 94px,#4165b8 95px,#3793d8 96px,#39b0e6 97px,#53c3e4 98px,#80ccc7 100px,#8ec97c 104px,#abcf49 109px,#b3d241 112px,#9bca5a 116px,#87c88d 120px,#7fccc9 123px,#50c1e5 125px,#36ade6 126px,#388ed4 127px,#4160b4 128px,#3f3a9b 129px,#3c298d 130px,#382688 137px,#322585 263px)"></i><i style="height:2px;background:linear-gradient(90deg,#302584 0px,#302584 5px,#3c2c8f 8px,#3d3092 45px,#3e3a99 46px,#404ea8 47px,#3897da 49px,#42b7e6 50px,#75cbd0 52px,#82ccbe 53px,#90c976 57px,#a7ce4c 61px,#c9d92c 65px,#c6d82f 68px,#9ecb56 72px,#87c88f 76px,#7ccccb 79px,#4ebfe4 81px,#38ade5 82px,#3793d7 83px,#404fa9 85px,#3f3a9a 86px,#3c2b8f 88px,#3e3394 91px,#3f409f 92px,#3c7ec9 94px,#35a0df 95px,#40b6e6 96px,#70cad3 98px,#80ccc4 99px,#8fc978 103px,#a3cc51 106px,#c8d82d 110px,#c7d82e 113px,#a1cc52 117px,#89c88a 121px,#7fccc6 124px,#55c3e2 126px,#3eb3e6 127px,#349cde 128px,#4157ae 130px,#3f3e9d 131px,#3c2c8f 133px,#3d3092 136px,#3f3b9b 137px,#3d68ba 139px,#3c50a7 140px,#392688 141px,#392688 262px,#332686 263px)"></i><i style="height:2px;background:linear-gradient(90deg,#302584 0px,#302584 5px,#3e3597 6px,#3a7fca 7px,#3a7ec9 44px,#3c95d7 46px,#4abbe4 48px,#74cad1 50px,#81ccbf 51px,#95c969 56px,#abcf49 59px,#dbde19 63px,#e9e30b 66px,#dedf17 69px,#abcf49 73px,#90c976 76px,#81ccc2 80px,#5fc7de 82px,#3aaee5 84px,#3c79c5 87px,#3e6dbd 89px,#3c7fca 91px,#38a4e1 93px,#40b5e6 94px,#68c8d8 96px,#7bcccb 97px,#92c96f 102px,#a2cc52 104px,#d9de1c 108px,#e9e30b 111px,#e0e015 114px,#b0d144 118px,#97ca62 120px,#83caa9 124px,#7acbcd 126px,#51c0e3 128px,#3db3e6 129px,#388ed5 131px,#3d71c0 133px,#3d70bf 135px,#398bd2 137px,#3bb0e6 139px,#4dbee4 140px,#50b3da 141px,#4171b8 142px,#3b278a 143px,#3b278a 262px,#342686 263px)"></i><i style="height:2px;background:linear-gradient(90deg,#302584 0px,#302584 5px,#415bb0 6px,#65c8da 7px,#64c7db 45px,#7dcbc1 48px,#97ca62 54px,#b0d144 57px,#e9e30b 61px,#f5de00 64px,#f2e203 70px,#dfdf16 72px,#9ccb5a 76px,#83cbb1 81px,#77cbcf 83px,#4dbde4 86px,#3eb4e6 89px,#51c0e2 92px,#7bcbca 95px,#97ca63 101px,#b2d142 103px,#e5e110 106px,#f5df00 109px,#f5df00 114px,#e3e112 117px,#a0cc55 121px,#83caac 126px,#7acbcb 128px,#50bfe3 131px,#3eb3e6 134px,#4ebee3 137px,#79cbce 140px,#83cbaf 142px,#638f9f 143px,#3f44a0 144px,#3d298d 145px,#3d298d 262px,#362687 263px)"></i><i style="height:2px;background:linear-gradient(90deg,#302584 0px,#302584 5px,#3d7fca 6px,#86c99b 7px,#85c99f 42px,#84c9a3 45px,#8bc982 49px,#9ecb58 52px,#b6d33e 55px,#efe205 59px,#f7c600 66px,#f0e204 73px,#bdd537 76px,#9bca5c 78px,#83caac 83px,#7acbcc 86px,#6fc9d4 89px,#81ccc0 93px,#90c975 98px,#a0cc55 100px,#ebe30a 104px,#f6db00 106px,#f7c600 111px,#f7d600 116px,#f3e202 118px,#d7dd1e 120px,#9ecb57 123px,#83caa7 128px,#7bcbca 131px,#71cad3 135px,#7fccc3 138px,#94c96a 144px,#719b87 145px,#3f50aa 146px,#3e2c92 147px,#3e2c92 262px,#382688 263px)"></i><i style="height:2px;background:linear-gradient(90deg,#302584 0px,#302584 5px,#349bdd 6px,#9acb60 7px,#96ca66 42px,#95c969 46px,#bed536 53px,#f3e202 57px,#f5a501 65px,#f6a800 68px,#f1e203 75px,#9aca5d 80px,#83caa8 86px,#83cbb3 89px,#83c9a4 92px,#96ca66 97px,#afd045 99px,#ebe309 102px,#f6d900 104px,#f5a600 110px,#f5a700 113px,#f5e200 120px,#eae30b 121px,#9dcb59 125px,#83caa5 131px,#83cbb3 134px,#83caa7 137px,#9bca5b 143px,#d2db23 146px,#96b469 147px,#3b61b6 148px,#3e3397 149px,#3e3397 262px,#392789 263px)"></i><i style="height:2px;background:linear-gradient(90deg,#302584 0px,#302584 5px,#3ab0e6 6px,#c5d82f 7px,#c2d633 41px,#b8d33c 46px,#c7d82e 51px,#f4e300 55px,#f7be00 59px,#f28e06 63px,#f0810a 66px,#f28c06 69px,#f5dd00 76px,#f0e305 77px,#a4cd4f 81px,#91c974 84px,#87c88e 88px,#8cc981 92px,#9dcb58 96px,#f4e200 101px,#f6b500 105px,#f28907 109px,#f1810a 112px,#f39204 115px,#f6da00 121px,#f3e202 122px,#9ccb59 127px,#89c888 132px,#87c88d 135px,#95c968 140px,#a6ce4d 142px,#f1e303 146px,#f7d300 148px,#95b170 149px,#3a73c0 150px,#3f3c9c 151px,#3f3c9c 262px,#3b2789 263px)"></i><i style="height:2px;background:linear-gradient(90deg,#302584 0px,#302584 5px,#45b9e6 6px,#dfe015 7px,#dcdf19 41px,#cdda27 48px,#e1e014 51px,#f4e300 53px,#f7c100 57px,#ef7a0c 62px,#ec6411 65px,#ed6711 68px,#f39005 72px,#f6d800 77px,#f5e200 78px,#d6dd1f 80px,#a2cc51 83px,#92c971 87px,#92c96f 91px,#9dcb58 94px,#dedf17 98px,#f0e305 99px,#f8c900 102px,#f07d0b 107px,#ec6511 110px,#ec6611 113px,#f28c06 117px,#f7d600 122px,#eee406 124px,#a6ce4d 128px,#94c96a 131px,#91c974 135px,#9bca5b 139px,#c5d82f 142px,#ece408 144px,#f6d700 146px,#f49d01 150px,#999f77 151px,#4580c3 152px,#4044a0 153px,#4044a0 262px,#3c278a 263px)"></i><i style="height:2px;background:linear-gradient(90deg,#302584 0px,#302584 5px,#4abde6 6px,#eae30a 7px,#e7e20d 41px,#dade1b 47px,#f5e000 52px,#f8ca00 55px,#f28c06 59px,#ea5814 63px,#e84a17 66px,#ea5614 69px,#f28807 73px,#f8cd00 77px,#ede407 80px,#abcf48 84px,#98ca5f 87px,#99ca5d 91px,#b1d143 94px,#f3e402 98px,#f8c700 101px,#f1810a 105px,#e95315 109px,#e84b16 112px,#eb5c13 115px,#f39404 119px,#f7d400 123px,#f1e403 125px,#afd144 129px,#99ca5e 132px,#99ca5e 136px,#add047 139px,#efe405 143px,#f8cb00 146px,#f18608 150px,#ef770d 151px,#f19f09 152px,#9c8d52 153px,#404aa4 154px,#404aa4 262px,#3c288c 263px)"></i><i style="height:2px;background:linear-gradient(90deg,#302584 0px,#302584 5px,#4dc0e6 6px,#f1e503 7px,#ece408 42px,#e5e10f 47px,#f5e000 51px,#f8cc00 54px,#f28e05 58px,#e95315 62px,#e63e19 65px,#e64019 68px,#ed6a10 72px,#f6af00 76px,#f6d900 79px,#f5e200 80px,#afd045 85px,#9dcb56 88px,#a2cc51 91px,#cfdb26 95px,#f1e503 97px,#f8cc00 100px,#f18309 104px,#e84c16 108px,#e63c19 111px,#e74518 114px,#ef750d 118px,#f7bc00 122px,#f6d700 124px,#efe405 126px,#b2d142 130px,#9dcb56 133px,#a0cc53 136px,#bcd538 139px,#ece309 142px,#f6d800 144px,#f7bf00 146px,#eb5a13 152px,#e94f16 153px,#ef860c 154px,#9c8753 155px,#404ea7 156px,#404ea7 262px,#3d298d 263px)"></i><i style="height:2px;background:linear-gradient(90deg,#302584 0px,#302584 5px,#4ec0e6 6px,#f4e600 7px,#eee406 42px,#e9e30b 47px,#f5e200 50px,#f8c900 54px,#f28a07 58px,#e94e16 62px,#e53a19 65px,#e74218 69px,#ef750d 73px,#f7bd00 77px,#f6d700 79px,#eee406 81px,#b4d240 85px,#a1cc53 88px,#a7ce4d 91px,#d4dc21 95px,#f4e500 97px,#f8c800 100px,#f39005 103px,#e95215 107px,#e53b19 110px,#e64019 114px,#ee700f 118px,#f7b800 122px,#f7d400 124px,#f4e600 126px,#b7d33d 130px,#a1cc52 133px,#a5cd4e 136px,#cfdb26 140px,#f1e503 142px,#f8cd00 145px,#f18409 149px,#e84a17 153px,#e53c19 155px,#ee7b0c 156px,#9c8554 157px,#404fa8 158px,#404fa8 262px,#3d298d 263px)"></i><i style="height:2px;background:linear-gradient(90deg,#302584 0px,#302584 5px,#4dc0e6 6px,#f1e503 7px,#ece408 42px,#e5e110 47px,#f5e000 51px,#f8cd00 54px,#f28f05 58px,#e95415 62px,#e63e19 65px,#e64018 68px,#ed6a10 72px,#f6af00 76px,#f6d900 79px,#f5e200 80px,#afd045 85px,#9dcb57 88px,#a2cc52 91px,#cfda26 95px,#f1e503 97px,#f8cc00 100px,#f18409 104px,#e84c16 108px,#e63d19 111px,#e74518 114px,#ef750d 118px,#f7bc00 122px,#f6d700 124px,#efe405 126px,#b2d142 130px,#9dcb56 133px,#a6ce4d 137px,#dade1b 141px,#f5e100 143px,#f7c000 146px,#ef780d 150px,#e74617 154px,#e63c19 157px,#ef800c 158px,#9c8a53 159px,#404da6 160px,#404da6 262px,#3c298c 263px)"></i><i style="height:2px;background:linear-gradient(90deg,#302584 0px,#302584 5px,#4abde6 6px,#eae30a 7px,#e7e20d 41px,#dade1b 47px,#f5e000 52px,#f8cb00 55px,#f28c06 59px,#ea5914 63px,#e84b16 66px,#ea5614 69px,#f28907 73px,#f8cd00 77px,#ede407 80px,#abcf49 84px,#98ca5f 87px,#99ca5d 91px,#b1d143 94px,#f2e402 98px,#f8c700 101px,#f18209 105px,#e95315 109px,#e84b16 112px,#eb5d13 115px,#f39404 119px,#f7d400 123px,#f1e403 125px,#afd045 129px,#99ca5e 132px,#99ca5f 136px,#add047 139px,#efe405 143px,#f8cc00 146px,#f18708 150px,#ea5514 154px,#e84b16 157px,#e95215 159px,#f19709 160px,#9b9052 161px,#4048a3 162px,#4048a3 262px,#3c288b 263px)"></i><i style="height:2px;background:linear-gradient(90deg,#302584 0px,#302584 5px,#45b9e6 6px,#dfe016 7px,#dcdf19 41px,#cdda28 48px,#e0e014 51px,#f4e300 53px,#f7c100 57px,#f07b0c 62px,#ec6511 65px,#ed6811 68px,#f39005 72px,#f8cf00 76px,#f5e200 78px,#d5dc20 80px,#a2cc52 83px,#92c972 87px,#92c970 91px,#9ccb59 94px,#cad92b 97px,#efe305 99px,#f8ca00 102px,#f07e0b 107px,#ec6611 110px,#ec6611 113px,#f28c06 117px,#f7d600 122px,#eee406 124px,#a6cd4e 128px,#94c96b 131px,#91c974 135px,#9aca5c 139px,#b3d241 141px,#ebe309 144px,#f6d700 146px,#f1810a 152px,#ed6711 155px,#ec6511 158px,#f07c0b 161px,#9da576 162px,#3e7ac3 163px,#3f419f 164px,#3f419f 262px,#3c278a 263px)"></i><i style="height:2px;background:linear-gradient(90deg,#302584 0px,#302584 5px,#39afe6 6px,#c4d730 7px,#c1d634 41px,#b7d33d 46px,#c6d82e 51px,#f4e301 55px,#f7bf00 59px,#f38f05 63px,#f18209 66px,#f28d06 69px,#f5dd00 76px,#efe305 77px,#a4cd50 81px,#90c975 84px,#87c88e 88px,#89c888 91px,#9dcb58 96px,#f4e201 101px,#f6b600 105px,#f28a07 109px,#f18209 112px,#f39304 115px,#f6db00 121px,#f3e202 122px,#9ccb5a 127px,#89c889 132px,#87c88e 135px,#95c969 140px,#a6cd4e 142px,#f1e304 146px,#f7c900 149px,#f28c06 154px,#f18209 157px,#f39005 160px,#f6b300 163px,#94b973 164px,#3a6abc 165px,#3f389a 166px,#3f389a 262px,#3a2789 263px)"></i><i style="height:2px;background:linear-gradient(90deg,#302584 0px,#302584 5px,#349add 6px,#99ca62 7px,#95ca67 42px,#94c96b 46px,#bdd537 53px,#f2e202 57px,#f5a600 65px,#f6a900 68px,#f1e204 75px,#99ca5e 80px,#83caa9 86px,#83cbb4 89px,#83caa5 92px,#96ca66 97px,#aed046 99px,#ebe309 102px,#f6d900 104px,#f5a700 110px,#f5a800 113px,#f4e201 120px,#d4dc20 122px,#9ccb59 125px,#83caa6 131px,#83cbb4 134px,#83caa8 137px,#9bca5c 143px,#d1db24 146px,#f2e202 148px,#f6a800 155px,#f5a600 158px,#f5e000 165px,#8fb771 166px,#3e57b0 167px,#3e2f94 168px,#3e2f94 262px,#392688 263px)"></i><i style="height:2px;background:linear-gradient(90deg,#302584 0px,#302584 5px,#3d7eca 6px,#86c99d 7px,#84c9a1 42px,#83c9a5 45px,#8bc983 49px,#9dcb59 52px,#b6d23f 55px,#efe206 59px,#f7c600 66px,#f0e205 73px,#bcd538 76px,#9aca5d 78px,#83caad 83px,#79cbcc 86px,#6ec9d4 89px,#80ccc1 93px,#90c975 98px,#9fcc56 100px,#eae30a 104px,#f6dc00 106px,#f7c700 111px,#f6d700 116px,#f2e202 118px,#d6dd1f 120px,#9ecb58 123px,#83caa8 128px,#7bcbca 131px,#6ec9d4 134px,#7fccc4 138px,#8ec97a 143px,#9ccb5b 145px,#e5e10f 149px,#f5de00 151px,#f7c700 157px,#f5e100 163px,#dbde19 165px,#b4d240 167px,#6e9d8d 168px,#3f49a5 169px,#3d2b90 170px,#3d2b90 262px,#372687 263px)"></i><i style="height:2px;background:linear-gradient(90deg,#302584 0px,#302584 5px,#415ab0 6px,#64c7db 7px,#62c7dc 45px,#7ccbc2 48px,#97ca63 54px,#afd045 57px,#e8e20c 61px,#f5de00 64px,#f1e203 70px,#dedf17 72px,#9bcb5b 76px,#83cbb2 81px,#76cbd0 83px,#4bbde4 86px,#3db2e6 89px,#50bfe3 92px,#7bcbcb 95px,#97ca64 101px,#b1d143 103px,#e4e111 106px,#f5df00 109px,#f5df00 114px,#ede307 116px,#9fcc56 121px,#83caad 126px,#7acbcc 128px,#4fbee3 131px,#3db2e6 134px,#4dbde4 137px,#78cbce 140px,#9dcb59 147px,#ece308 152px,#f6dc00 156px,#efe206 161px,#c7d82e 164px,#98ca61 167px,#8cc981 169px,#6293a7 170px,#3e3d9b 171px,#3c288c 172px,#3c288c 262px,#352687 263px)"></i><i style="height:2px;background:linear-gradient(90deg,#302584 0px,#302584 5px,#3e3597 6px,#3b7cc8 7px,#3b7bc7 44px,#3b93d6 46px,#48bae4 48px,#73cad1 50px,#80ccc0 51px,#94c96a 56px,#aacf4a 59px,#dade1a 63px,#e8e20c 66px,#dddf18 69px,#aacf4a 73px,#90c976 76px,#80ccc3 80px,#4abce5 83px,#3aade4 84px,#3d76c4 87px,#3e6abb 89px,#3c7cc8 91px,#37a3e0 93px,#3fb4e6 94px,#67c8d9 96px,#7bcbcc 97px,#92c970 102px,#a1cc52 104px,#d8dd1d 108px,#e8e20c 111px,#dfe016 114px,#afd045 118px,#97ca63 120px,#83caa9 124px,#79cbce 126px,#50bfe3 128px,#3cb2e6 129px,#398cd3 131px,#3e6fbf 133px,#3e6ebe 135px,#3a89d1 137px,#3bafe5 139px,#61c7dd 141px,#82ccc1 143px,#90c974 147px,#accf48 150px,#dedf17 154px,#e8e20c 157px,#d9de1b 160px,#99ca5f 165px,#83c9a3 169px,#7cccc9 171px,#3666b7 172px,#3b2789 173px,#3b2789 262px,#342686 263px)"></i><i style="height:2px;background:linear-gradient(90deg,#302584 0px,#302584 5px,#3b2b8e 8px,#3d2f91 45px,#3e3898 46px,#404ca7 47px,#3896d9 49px,#40b6e6 50px,#74cad1 52px,#82ccbe 53px,#90c976 57px,#a7ce4d 61px,#c8d82d 65px,#c5d730 68px,#9ecb56 72px,#86c890 76px,#7ccccc 79px,#4dbfe5 81px,#38ace5 82px,#3791d7 83px,#404da7 85px,#3e3999 86px,#3b2a8e 88px,#3e3293 91px,#3f3f9e 92px,#3d7cc8 94px,#349edf 95px,#3fb5e6 96px,#6fcad4 98px,#80ccc5 99px,#8fc978 103px,#a2cc51 106px,#c7d82e 110px,#c6d82e 113px,#a1cc53 117px,#88c88a 121px,#7fccc7 124px,#55c2e2 126px,#3db2e6 127px,#349bdd 128px,#4155ad 130px,#3f3d9c 131px,#3c2b8f 133px,#3d2f92 136px,#3f3a9a 137px,#4050aa 138px,#3695d9 140px,#39afe6 141px,#69c8d8 143px,#7dccca 144px,#8dc97d 148px,#abcf49 152px,#c6d82f 155px,#c8d82d 158px,#a4cd4f 162px,#8ac985 166px,#82ccc2 169px,#5cc6e0 171px,#44b8e6 172px,#398cd3 173px,#3d3e9a 174px,#382688 175px,#382688 262px,#332686 263px)"></i><i style="height:2px;background:linear-gradient(90deg,#302584 0px,#3a2789 47px,#3d2f92 48px,#404da7 49px,#37aae4 51px,#51c1e4 52px,#81ccc5 54px,#8dc97d 58px,#accf48 64px,#b2d142 67px,#99ca5d 71px,#85c893 75px,#82ccbc 77px,#79cbcd 78px,#48bce6 80px,#34a5e3 81px,#4053ab 83px,#3e3395 84px,#372688 86px,#3c2a8e 93px,#3f3d9d 94px,#4164b7 95px,#3792d7 96px,#39afe6 97px,#53c2e4 98px,#80ccc7 100px,#8ec97c 104px,#aacf49 109px,#b2d142 112px,#9aca5b 116px,#87c88d 120px,#7eccc9 123px,#4fc1e5 125px,#36ace6 126px,#398dd4 127px,#415fb3 128px,#3f399a 129px,#3c298d 130px,#382688 137px,#3b288b 138px,#3e3597 139px,#4157ae 140px,#3b85ce 141px,#35a8e4 142px,#4bbee6 143px,#7ccccc 145px,#8cc980 149px,#a8ce4b 154px,#b3d241 157px,#9ccb58 161px,#89c888 165px,#81ccc4 168px,#57c5e2 170px,#3db3e6 171px,#3599dc 172px,#406cbd 173px,#3f43a1 174px,#3c298d 175px,#372687 189px,#322585 263px)"></i><i style="height:2px;background:linear-gradient(90deg,#302584 0px,#352687 47px,#3d2b90 49px,#4050a8 50px,#3b85ce 51px,#3ab0e6 52px,#57c5e3 53px,#72cad2 54px,#82ccc1 55px,#8dc97d 59px,#9fcb55 64px,#a3cd50 67px,#95c968 71px,#87c88e 74px,#80cdc9 77px,#4fc2e6 79px,#35ace6 80px,#3a8ad1 81px,#4157ae 82px,#3e3095 83px,#392789 84px,#332585 91px,#3c288b 94px,#3f3e9d 95px,#426abc 96px,#349bde 97px,#40b5e6 98px,#5bc6e1 99px,#74cad1 100px,#82ccc2 101px,#8ec97a 105px,#9dcb56 109px,#a4cd4f 112px,#96ca65 116px,#89c889 119px,#82cdc4 122px,#57c5e3 124px,#3cb2e6 125px,#3697da 126px,#4165b8 127px,#3f3a9b 128px,#3b278a 129px,#322585 136px,#3a2789 139px,#3e3397 140px,#415db2 141px,#388fd5 142px,#38aee6 143px,#53c3e5 144px,#81cdc7 146px,#8dc97d 150px,#9cca58 154px,#a2cc51 158px,#93c96c 162px,#84c896 165px,#82ccbe 167px,#77cbcf 168px,#44b9e6 170px,#32a1e1 171px,#4074c2 172px,#4045a1 173px,#3d298d 174px,#342686 178px,#322585 263px)"></i><i style="height:2px;background:linear-gradient(90deg,#302584 0px,#342686 47px,#3c288b 49px,#4044a1 50px,#4076c4 51px,#33abe6 52px,#50c3e6 53px,#82cdc6 55px,#8cc981 59px,#9bca58 64px,#9dcb56 68px,#90c976 72px,#83caa6 75px,#7ccccc 77px,#4abde6 79px,#30a7e5 80px,#3e7ec9 81px,#404ca5 82px,#3d2b8f 83px,#312585 87px,#3a2789 94px,#3e3498 95px,#415fb4 96px,#3793d8 97px,#3ab0e6 98px,#55c5e4 99px,#82cdc6 101px,#8dc97d 105px,#9bca59 109px,#9ecb55 113px,#91c973 117px,#84c9a0 120px,#82cdc8 122px,#52c4e6 124px,#37aee6 125px,#398dd4 126px,#4159af 127px,#3e2f95 128px,#392789 129px,#312585 136px,#382688 139px,#3e2c92 140px,#4051a9 141px,#3b85ce 142px,#32aae6 143px,#4dc0e6 144px,#7eccca 146px,#8cc981 150px,#9aca5b 154px,#9fcb55 158px,#92c970 162px,#84c89a 165px,#82ccc2 167px,#73cad1 168px,#5ac5e1 169px,#3fb4e6 170px,#349add 171px,#4267ba 172px,#3f3b9b 173px,#3b278a 174px,#312584 179px,#362687 262px,#322585 263px)"></i><i style="height:2px;background:linear-gradient(90deg,#302584 0px,#362687 47px,#3e2f93 49px,#4156ad 50px,#398cd3 51px,#3db3e6 52px,#5ac5e1 53px,#75cbd0 54px,#82ccbf 55px,#8ec97c 59px,#a0cc53 64px,#a6cd4e 67px,#96ca67 71px,#88c88c 74px,#81cdc8 77px,#52c3e5 79px,#37aee6 80px,#388fd5 81px,#415db2 82px,#3e3497 83px,#3b2789 84px,#332686 91px,#3d298d 94px,#4044a0 95px,#4071c0 96px,#339fe0 97px,#43b7e6 98px,#5dc6df 99px,#76cbd0 100px,#82ccc0 101px,#8fc978 105px,#9fcb54 109px,#a6ce4d 112px,#97ca64 116px,#8ac887 119px,#82ccc2 122px,#5ac5e1 124px,#3fb5e6 125px,#349bdd 126px,#416abc 127px,#3f3f9e 128px,#3c288c 129px,#332585 136px,#3b278a 139px,#3f389a 140px,#4162b6 141px,#3694d8 142px,#3bb1e6 143px,#55c5e4 144px,#82cdc6 146px,#8ec97c 150px,#9dcb56 154px,#a6ce4d 157px,#98ca61 161px,#85c894 165px,#82ccbc 167px,#7acbcd 168px,#47bbe6 170px,#32a4e3 171px,#3f7ac7 172px,#404ba5 173px,#3d2b90 174px,#322585 178px,#322585 263px)"></i><i style="height:2px;background:linear-gradient(90deg,#302584 0px,#3b298c 47px,#3e3798 48px,#4159af 49px,#3a89d1 50px,#3bb1e6 51px,#57c4e2 52px,#72cad2 53px,#82ccc1 54px,#8ec97a 58px,#a9ce4b 63px,#b7d33d 66px,#abcf49 69px,#8dc97f 74px,#7dcccb 78px,#4dbfe5 80px,#36aae5 81px,#3a8ad2 82px,#3f3a9a 84px,#3c2a8d 85px,#372688 91px,#3d2e91 93px,#4047a3 94px,#3f70bf 95px,#349add 96px,#3eb4e6 97px,#58c5e2 98px,#81ccc4 100px,#8fc979 104px,#aed046 109px,#b6d33e 112px,#9dcb58 116px,#89c88a 120px,#80ccc6 123px,#55c3e3 125px,#3bb1e6 126px,#3696da 127px,#406abb 128px,#3f43a0 129px,#3d2c90 130px,#362687 134px,#3c2a8e 138px,#3f3d9d 139px,#4162b6 140px,#388fd5 141px,#37ade6 142px,#50c1e4 143px,#7eccc9 145px,#8dc97d 149px,#accf48 154px,#b7d33e 157px,#9fcb55 161px,#8ac985 165px,#82ccc1 168px,#75cad0 169px,#5cc6e0 170px,#42b7e6 171px,#33a0e0 172px,#404ea7 174px,#3e3194 175px,#382688 177px,#322585 263px)"></i><i style="height:2px;background:linear-gradient(90deg,#302584 0px,#302584 5px,#382688 6px,#3e3494 7px,#3e3494 44px,#3f44a2 46px,#405db2 47px,#3ba4df 49px,#4abce5 50px,#7acbca 52px,#91c972 57px,#a0cc53 60px,#c9d92c 64px,#ceda26 67px,#bbd43a 70px,#99ca5e 73px,#84c99f 77px,#7eccc7 79px,#55c2e2 81px,#3db3e6 82px,#359dde 83px,#415bb1 85px,#3f44a1 86px,#3d3193 88px,#3f3b9b 91px,#404da7 92px,#37a7e2 95px,#47bbe6 96px,#76cbd0 98px,#82ccc0 99px,#91c974 103px,#a7ce4c 106px,#c7d82e 109px,#cfdb26 112px,#bed537 115px,#95c968 119px,#85c999 122px,#81ccc2 124px,#5cc6e0 126px,#44b9e6 127px,#36a4e1 128px,#404aa6 131px,#3e3394 133px,#3e3898 136px,#4046a3 137px,#3c80cb 139px,#35a0df 140px,#40b5e6 141px,#6fc9d4 143px,#80ccc5 144px,#8fc978 148px,#a3cd50 151px,#cbd92a 155px,#cdda28 158px,#b6d33e 161px,#97ca64 164px,#86c893 167px,#82ccbd 169px,#79cbce 170px,#4bbde5 172px,#38abe4 173px,#3e6fbe 175px,#4051aa 176px,#3f3d9d 177px,#3d3193 180px,#3f409f 182px,#3d76c4 184px,#3769bb 185px,#3b2e90 186px,#382688 188px,#382688 262px,#332686 263px)"></i><i style="height:2px;background:linear-gradient(90deg,#302584 0px,#302584 5px,#3f3b9b 6px,#3d91d4 7px,#3c90d4 44px,#3fa5de 46px,#42b7e6 47px,#68c8d8 49px,#83cbb8 51px,#92c970 55px,#a3cd50 58px,#e1e013 63px,#ede307 66px,#e3e111 69px,#b1d143 73px,#97ca62 75px,#83caa9 79px,#7acbcd 81px,#40b5e6 84px,#3696da 86px,#3b7ec9 88px,#3b81cc 90px,#3aade4 93px,#5bc5e0 95px,#7eccc6 97px,#94c96b 102px,#a7ce4c 104px,#dedf16 108px,#ede307 111px,#e6e20f 114px,#b6d33e 118px,#99ca5e 120px,#83c9a3 124px,#7dccc8 126px,#46bae6 129px,#369bdc 131px,#3b80cb 133px,#3b7fca 135px,#39a8e2 138px,#55c2e2 140px,#7bcccb 142px,#98ca60 148px,#dcde19 153px,#ede307 156px,#e8e20d 159px,#bad43a 163px,#9ccb59 165px,#84c99c 169px,#80ccc3 171px,#4bbde5 174px,#3bafe5 175px,#3b83cd 178px,#3c7dc9 180px,#38a4e0 183px,#3db3e6 184px,#63c7db 186px,#6087b4 187px,#3d3997 188px,#3a2789 189px,#3a2789 262px,#342686 263px)"></i><i style="height:2px;background:linear-gradient(90deg,#302584 0px,#302584 5px,#4161b5 6px,#71cad1 7px,#70cad3 45px,#83caaa 49px,#99ca5d 54px,#b6d33e 57px,#ede307 61px,#f6d800 66px,#efe205 71px,#c4d731 74px,#a0cc55 76px,#83caab 81px,#7bcbca 83px,#55c2e1 86px,#47bae5 89px,#5ac4e0 92px,#7fccc4 95px,#99ca5e 101px,#ebe309 106px,#f6d900 110px,#f1e203 116px,#dade1a 118px,#98ca60 122px,#7eccc6 128px,#59c3e0 131px,#47bae5 134px,#57c2e1 137px,#7cccc8 140px,#97ca63 146px,#b3d241 148px,#e7e20d 151px,#f6dc00 154px,#f6db00 159px,#ece308 162px,#9bca5b 167px,#84c9a0 171px,#78cbcf 174px,#51c0e2 177px,#48bbe5 180px,#5fc6de 183px,#82ccbf 186px,#85c99b 188px,#668f96 189px,#3e439e 190px,#3c278b 191px,#3c278b 262px,#352686 263px)"></i><i style="height:2px;background:linear-gradient(90deg,#302584 0px,#302584 5px,#3b85ce 6px,#88c98f 7px,#87c994 42px,#86c995 46px,#8fc979 49px,#a1cc53 52px,#bcd538 55px,#ebe30a 58px,#f6d600 61px,#f7c000 66px,#f6db00 72px,#eae30a 74px,#9fcb56 78px,#83caa5 83px,#7eccc6 86px,#79cbcd 90px,#83ccba 93px,#92c96f 98px,#a4cd4f 100px,#eee206 104px,#f7c700 109px,#f7c300 113px,#f5e000 118px,#dddf17 120px,#a2cc51 123px,#84c9a1 128px,#7fccc4 131px,#78cbce 135px,#82ccbd 138px,#91c974 143px,#a0cc54 145px,#ece309 149px,#f6da00 151px,#f7c100 156px,#f7cb00 160px,#f0e204 164px,#bcd439 167px,#9aca5d 169px,#83caab 174px,#7ccbc8 177px,#79cbcc 181px,#83cbb5 184px,#95c969 189px,#9dcb59 190px,#607999 191px,#3d2a8e 192px,#3d2a8e 262px,#362687 263px)"></i><i style="height:2px;background:linear-gradient(90deg,#302584 0px,#302584 5px,#339fe0 6px,#a0cc57 7px,#9ccb5d 42px,#99ca60 46px,#c3d731 53px,#eee307 56px,#f7d200 59px,#f5a301 64px,#f49e02 67px,#f7bb00 71px,#f5e100 75px,#eae30a 76px,#9ecb58 80px,#84c9a1 86px,#83caac 89px,#84c99d 92px,#98ca61 97px,#b5d23f 99px,#efe306 102px,#f6b600 107px,#f49d02 111px,#f5a600 114px,#f5df00 120px,#eee307 121px,#a1cc53 125px,#86c994 130px,#83caaa 133px,#83caa7 136px,#91c972 141px,#9fcc56 143px,#ece309 147px,#f6d800 149px,#f5a101 155px,#f59f01 158px,#f7c000 162px,#f1e204 166px,#a5cd4e 170px,#8fc979 173px,#83c9a4 177px,#83caac 180px,#85c999 183px,#9ccb5b 188px,#d2dc22 191px,#bdd746 192px,#697a7b 193px,#3d2c91 194px,#3d2c91 262px,#372688 263px)"></i><i style="height:2px;background:linear-gradient(90deg,#302584 0px,#302584 5px,#3cb2e6 6px,#ccda28 7px,#c9d92c 41px,#bed536 47px,#cbd929 51px,#efe305 54px,#f8c700 58px,#f28907 63px,#f07b0c 66px,#f18608 69px,#f6b600 73px,#f6da00 76px,#f3e202 77px,#9dcb59 82px,#8cc97f 86px,#8ac887 90px,#94c96b 94px,#a1cc53 96px,#ece308 100px,#f6d700 102px,#f28b06 108px,#f07b0b 111px,#f18409 114px,#f6b200 118px,#f6d800 121px,#ebe309 123px,#a0cc55 127px,#8dc97d 131px,#89c888 135px,#93c96e 139px,#9ecb57 141px,#f4e200 146px,#f7c400 149px,#f28e06 153px,#f07c0b 156px,#f18209 159px,#f6ad00 163px,#f5de00 167px,#eee306 168px,#a3cd50 172px,#8ec97b 176px,#89c888 180px,#92c971 184px,#a7ce4d 187px,#f1e303 191px,#f7d300 193px,#d1c824 194px,#84835f 195px,#3e2e93 196px,#3e2e93 262px,#382688 263px)"></i><i style="height:2px;background:linear-gradient(90deg,#302584 0px,#302584 5px,#46bae6 6px,#e2e013 7px,#dedf16 41px,#d0db25 48px,#f5e200 53px,#f7bd00 57px,#ef750d 62px,#eb5f12 65px,#ec6212 68px,#f28b07 72px,#f7d600 77px,#eee406 79px,#a6ce4d 83px,#95c968 86px,#92c96f 90px,#a0cc54 94px,#f2e302 99px,#f8c600 102px,#ef790c 107px,#ec6012 110px,#ec6112 113px,#f18708 117px,#f7d300 122px,#f1e303 124px,#9fcb56 129px,#92c970 133px,#95c968 137px,#a8ce4b 140px,#efe405 144px,#f8ca00 147px,#f07c0b 152px,#ec6212 155px,#eb6012 158px,#f18309 162px,#f7d100 167px,#f4e300 169px,#a1cc52 174px,#93c96f 178px,#95c969 182px,#a4cd4f 185px,#ebe30a 189px,#f6d800 191px,#f49d01 195px,#ecb50b 196px,#99884b 197px,#3e3196 198px,#3e3196 262px,#392688 263px)"></i><i style="height:2px;background:linear-gradient(90deg,#302584 0px,#302584 5px,#4abee6 6px,#ece408 7px,#e9e30b 41px,#dcdf19 47px,#f4e400 51px,#f8c800 55px,#f28907 59px,#ea5514 63px,#e74717 66px,#e95315 69px,#f18508 73px,#f8cb00 77px,#f0e404 80px,#afd045 84px,#99ca5c 87px,#9aca5b 91px,#b4d240 94px,#f4e400 98px,#f7c400 101px,#f07e0b 105px,#e94f16 109px,#e84717 112px,#ea5914 115px,#f39105 119px,#f7d300 123px,#f3e401 125px,#a6ce4d 130px,#99ca5e 133px,#9dcb57 137px,#bfd536 140px,#f1e403 143px,#f8c900 146px,#f18309 150px,#e95215 154px,#e74717 157px,#ea5614 160px,#f28c06 164px,#f8d000 168px,#f5e200 170px,#aacf4a 175px,#99ca5e 178px,#9cca58 182px,#bad43a 185px,#ede407 188px,#f8cd00 191px,#f18808 195px,#ed6a10 197px,#f0990a 198px,#9b824c 199px,#3e3497 200px,#3e3497 262px,#392789 263px)"></i><i style="height:2px;background:linear-gradient(90deg,#302584 0px,#302584 5px,#4dc0e6 6px,#f2e502 7px,#ede407 42px,#e6e20e 47px,#f5df00 51px,#f8cc00 54px,#f28d06 58px,#e95215 62px,#e63c19 65px,#e74518 69px,#ef780c 73px,#f7c000 77px,#f5e100 80px,#dade1b 82px,#a7ce4c 86px,#9dcb56 89px,#abcf49 92px,#e1e014 96px,#f2e502 97px,#f8ca00 100px,#f18209 104px,#e84a17 108px,#e53b19 111px,#e74318 114px,#ee730e 118px,#f7bb00 122px,#f7d600 124px,#f1e503 126px,#b4d240 130px,#9fcb55 133px,#a2cc52 136px,#ccda29 140px,#ede407 142px,#f8ce00 145px,#f18708 149px,#e84d16 153px,#e53c19 156px,#e64118 159px,#ee6f0f 163px,#f6b500 167px,#f7d300 169px,#f4e500 171px,#b7d33d 175px,#9fcb54 178px,#a0cc53 181px,#bad43a 184px,#f4e300 188px,#f7c300 191px,#f28c06 194px,#e95015 198px,#e74717 199px,#bd8442 200px,#467bbf 201px,#3f3598 202px,#3f3598 262px,#3a2789 263px)"></i><i style="height:2px;background:linear-gradient(90deg,#302584 0px,#302584 5px,#4ec0e6 6px,#f4e600 7px,#eee406 42px,#e9e30b 47px,#f5e200 50px,#f8c900 54px,#f28a07 58px,#e94e16 62px,#e53a19 65px,#e74218 69px,#ef750d 73px,#f7bd00 77px,#f6d700 79px,#eee406 81px,#b4d240 85px,#a0cc53 88px,#a6ce4d 91px,#d4dc21 95px,#f4e500 97px,#f8c800 100px,#f39005 103px,#e95215 107px,#e53b19 110px,#e64019 114px,#ee700f 118px,#f7b800 122px,#f7d400 124px,#f4e600 126px,#b7d33d 130px,#a1cc52 133px,#a5cd4f 136px,#cfdb26 140px,#f1e503 142px,#f8cd00 145px,#f18409 149px,#e84a17 153px,#e53a19 156px,#e74518 160px,#f07c0b 164px,#f6b200 167px,#f6db00 170px,#f4e400 171px,#b0d144 176px,#a0cc53 179px,#a9cf4a 182px,#dade1b 186px,#f5e200 188px,#f7c100 191px,#ef780d 195px,#e74318 199px,#e53a19 201px,#997d7f 202px,#467bbf 203px,#3f3598 204px,#3f3598 262px,#3a2789 263px)"></i><i style="height:2px;background:linear-gradient(90deg,#302584 0px,#302584 5px,#4cbfe6 6px,#f0e504 7px,#ebe309 42px,#e3e111 47px,#f5e000 51px,#f7c100 55px,#f0800a 59px,#e84b16 63px,#e63e19 66px,#e84917 69px,#f07c0b 73px,#f6b100 76px,#f6da00 79px,#f4e300 80px,#add047 85px,#9cca58 88px,#a0cc53 91px,#bed537 94px,#efe405 97px,#f8cd00 100px,#f18608 104px,#e94e16 108px,#e63e19 111px,#e74717 114px,#ef770d 118px,#f7be00 122px,#f5e100 125px,#ede408 126px,#b0d144 130px,#9cca57 133px,#a5cd4f 137px,#d8dd1d 141px,#f5e200 143px,#f7c100 146px,#ef7a0c 150px,#e84817 154px,#e63e19 157px,#e84d16 160px,#f18309 164px,#f8cb00 168px,#f2e502 171px,#b3d241 175px,#9dcb57 178px,#a2cc51 182px,#d3dc22 186px,#f4e500 188px,#f8c700 191px,#f39005 194px,#ea5415 198px,#e63f19 201px,#e63f19 203px,#99827f 204px,#4277bf 205px,#3e3397 206px,#3e3397 262px,#392789 263px)"></i><i style="height:2px;background:linear-gradient(90deg,#302584 0px,#302584 5px,#49bce6 6px,#e9e20c 7px,#e5e20f 41px,#d7dd1d 47px,#f5e200 52px,#f7c000 56px,#ec6611 62px,#e95015 65px,#e95315 68px,#f07d0b 72px,#f7c000 76px,#f5e200 79px,#a8ce4c 84px,#97ca62 87px,#98ca60 91px,#add047 94px,#f0e404 98px,#f8ca00 101px,#f18508 105px,#ea5714 109px,#e94f16 112px,#eb6012 115px,#f49803 119px,#f8cc00 122px,#efe405 125px,#abcf48 129px,#98ca61 132px,#97ca61 136px,#a9ce4b 139px,#ece309 143px,#f6d800 145px,#f6ac00 148px,#ec6212 153px,#e94f16 156px,#ea5614 159px,#f18309 163px,#f8c700 167px,#f2e402 170px,#a3cd50 175px,#96ca65 179px,#9dcb57 183px,#c2d732 186px,#f4e300 189px,#f7c300 192px,#ee710e 197px,#ea5415 200px,#e95015 203px,#eb5b13 205px,#968f7b 206px,#3b70be 207px,#3e3095 208px,#3e3095 262px,#392688 263px)"></i><i style="height:2px;background:linear-gradient(90deg,#302584 0px,#302584 5px,#44b8e6 6px,#dddf18 7px,#d9de1b 41px,#cad92b 48px,#dcdf19 51px,#f1e403 53px,#f7c500 57px,#f07f0a 62px,#ed6a10 65px,#ed6d0f 68px,#f39503 72px,#f7d200 76px,#f3e302 78px,#9ecb56 83px,#90c975 87px,#91c974 91px,#a3cd50 95px,#ece408 99px,#f6d700 101px,#f18309 107px,#ed6b10 110px,#ed6b10 113px,#f39105 117px,#f6d800 122px,#f5e100 123px,#d6dd1f 125px,#a1cc52 128px,#91c974 132px,#90c975 136px,#a0cc54 140px,#f4e300 145px,#f7c300 148px,#f07b0c 153px,#ed6910 156px,#ee6f0f 159px,#f49b02 163px,#f7d500 167px,#eee306 169px,#a5cd4e 173px,#93c96d 176px,#8fc978 180px,#97ca62 184px,#a9ce4b 186px,#f1e303 190px,#f8c800 193px,#f07e0b 198px,#ed6910 201px,#ee6d0f 204px,#f28907 207px,#93a273 208px,#3964b8 209px,#3e2d92 210px,#3e2d92 262px,#382688 263px)"></i><i style="height:2px;background:linear-gradient(90deg,#302584 0px,#302584 5px,#35ace6 6px,#bcd439 7px,#b9d33c 41px,#b1d143 46px,#c2d633 51px,#f1e304 55px,#f7c400 59px,#f39503 63px,#f18808 66px,#f39304 69px,#f5e000 76px,#ece308 77px,#a0cc55 81px,#88c88a 86px,#86c995 89px,#8dc97f 93px,#9aca5d 96px,#b8d33c 98px,#f0e304 101px,#f7bb00 105px,#f39005 109px,#f18808 112px,#f5a301 116px,#f5dd00 121px,#efe305 122px,#a3cd50 126px,#8cc980 130px,#86c995 134px,#8cc981 138px,#a1cc53 142px,#ede307 146px,#f7cc00 149px,#f39204 154px,#f18808 157px,#f49603 160px,#f6db00 166px,#f2e202 167px,#9bcb5b 172px,#87c88d 177px,#86c994 180px,#8ec97b 184px,#9ecb57 187px,#e9e30b 191px,#f5e200 192px,#f6b600 196px,#f28d06 200px,#f28907 203px,#f6a800 207px,#f7c300 209px,#6cad94 210px,#3d2b90 211px,#3d2b90 262px,#372687 263px)"></i><i style="height:2px;background:linear-gradient(90deg,#302584 0px,#302584 5px,#3696da 6px,#94c96b 7px,#93c96e 41px,#8fc977 45px,#97ca64 48px,#c4d731 54px,#efe306 57px,#f7b700 63px,#f6aa00 66px,#f7bd00 70px,#f5df00 74px,#ede307 75px,#a1cc53 79px,#85c99a 84px,#83cbb6 87px,#83cbb8 90px,#84c9a2 93px,#9aca5d 98px,#d0db24 101px,#f2e203 103px,#f6ad00 110px,#f6ae00 113px,#f0e204 120px,#99ca5f 125px,#83c9a3 130px,#83cbb9 133px,#83cbb5 136px,#88c88b 140px,#a3cc51 144px,#efe206 148px,#f7c600 152px,#f6ab00 156px,#f6b100 159px,#f3e201 165px,#d4dc21 167px,#9ccb5a 170px,#84c9a0 175px,#83cbb8 178px,#83cbb7 181px,#84c99d 184px,#9fcc56 189px,#ebe309 193px,#f6d900 195px,#f6ac00 201px,#f6af00 204px,#f5e000 210px,#bad542 211px,#617991 212px,#3d298d 213px,#3d298d 262px,#362687 263px)"></i><i style="height:2px;background:linear-gradient(90deg,#302584 0px,#302584 5px,#3f78c5 6px,#83caa9 7px,#83caad 42px,#83cbaf 45px,#88c98c 49px,#9fcb55 53px,#bdd537 56px,#ebe309 59px,#f6d800 62px,#f7cc00 67px,#f5e200 72px,#dcdf19 74px,#a2cc51 77px,#83c9a4 82px,#7acbcb 85px,#66c8d9 89px,#7dccc7 93px,#88c88b 97px,#9bcb5b 100px,#e3e111 104px,#f5df00 106px,#f7cb00 112px,#f5e000 117px,#e1e013 119px,#9aca5d 123px,#83cbaf 128px,#75cbd0 131px,#66c8d9 134px,#7bcbc9 138px,#84c9a2 141px,#98ca60 145px,#b8d33c 147px,#ede307 150px,#f7d600 153px,#f7cc00 158px,#f1e203 163px,#d4dc20 165px,#9dcb59 168px,#83caab 173px,#78cbce 176px,#66c8d9 179px,#71cad2 182px,#83cbb6 185px,#96ca65 190px,#b2d142 192px,#eae30a 195px,#f6dc00 197px,#f7cb00 202px,#f4e201 208px,#dade1b 210px,#b3d241 212px,#8eca85 213px,#5f7aa7 214px,#3c278a 215px,#3c278a 262px,#352686 263px)"></i><i style="height:2px;background:linear-gradient(90deg,#302584 0px,#302584 5px,#4154ab 6px,#57c1df 7px,#56c1df 45px,#77cacb 48px,#83caad 50px,#95c969 54px,#a9cf4a 57px,#ece308 62px,#f5df00 67px,#eee307 70px,#c7d82d 73px,#98ca60 76px,#7cccc8 82px,#4fbee3 85px,#3cb0e5 87px,#3bade4 90px,#47bbe5 92px,#76cbd0 95px,#83cbb1 97px,#9ccb59 102px,#eae30a 107px,#f5de00 111px,#efe205 115px,#dbde19 117px,#9bca5b 121px,#83cbb3 126px,#73cad1 128px,#46bae6 131px,#3aace4 133px,#3cb1e5 136px,#60c7dd 139px,#7dccc7 141px,#99ca5e 147px,#e7e20e 152px,#f5e000 155px,#f1e204 160px,#e0e015 162px,#9ecb57 166px,#83caae 171px,#78cbce 173px,#49bce5 176px,#3bade4 178px,#3bafe5 181px,#4cbde4 183px,#7bcbcb 186px,#97ca63 192px,#c4d730 195px,#ede307 198px,#f5df00 203px,#ede307 206px,#c5d82f 209px,#97ca62 212px,#8cc981 214px,#7ccab7 215px,#4a76b6 216px,#3a2789 217px,#3a2789 262px,#342686 263px)"></i><i style="height:2px;background:linear-gradient(90deg,#302584 0px,#302584 5px,#3d2f92 6px,#3e68b9 7px,#3e67b9 44px,#3a82cc 46px,#3fb2e5 48px,#6ac8d7 50px,#7ccbc6 51px,#93c96e 56px,#a5cd4f 59px,#dcdf19 64px,#e1e013 67px,#ceda27 70px,#99ca5d 74px,#84c9a1 78px,#7eccc7 80px,#57c3e1 82px,#42b7e6 83px,#37a5e1 84px,#3f66b9 87px,#4159b0 89px,#3e6dbd 91px,#3599db 93px,#3aade4 94px,#60c7dd 96px,#82ccc1 98px,#90c974 102px,#abcf49 105px,#dade1b 109px,#e2e013 112px,#d1db24 115px,#95ca67 120px,#83cbaf 124px,#80ccc3 125px,#5dc6df 127px,#39abe4 129px,#3e6bbc 132px,#4159b0 134px,#3f68ba 136px,#38a7e2 139px,#5ac5e0 141px,#7fccc5 143px,#94c96a 148px,#b6d33e 151px,#d8dd1d 154px,#e2e112 157px,#d4dc21 160px,#97ca63 165px,#83caa9 169px,#79cbce 171px,#4ebfe4 173px,#3bb0e6 174px,#369ddd 175px,#4061b5 178px,#415ab1 180px,#3d75c3 182px,#37a2e0 184px,#3eb4e6 185px,#69c8d8 187px,#7cccca 188px,#93c96e 193px,#a2cc51 195px,#d6dd1f 199px,#e2e112 202px,#d6dd1f 205px,#99ca5f 210px,#83c9a3 214px,#7cccc9 216px,#4ebce2 217px,#385baf 218px,#392688 219px,#392688 262px,#332686 263px)"></i><i style="height:2px;background:linear-gradient(90deg,#302584 0px,#342686 6px,#3a288b 13px,#3b298d 45px,#3f3f9e 47px,#415eb2 48px,#3baee4 50px,#53c1e2 51px,#80ccc3 53px,#8ec97a 57px,#a2cc51 61px,#c3d731 65px,#c0d634 68px,#96ca66 73px,#85c895 76px,#82ccbe 78px,#77cbcf 79px,#47bbe6 81px,#36a6e2 82px,#3f419f 85px,#3b2a8d 87px,#3c2b8f 91px,#3e3697 92px,#404da7 93px,#3695d9 95px,#39b0e6 96px,#52c1e3 97px,#7eccc9 99px,#8ec97c 103px,#aacf4a 107px,#c2d732 110px,#c2d633 113px,#9ecb57 117px,#87c88f 121px,#7ccccb 124px,#4ebfe4 126px,#38ade5 127px,#3791d6 128px,#4049a5 130px,#3e3596 131px,#3a288b 133px,#3b2a8e 136px,#3f44a2 138px,#37a9e4 141px,#4abde6 142px,#7acbcd 144px,#91c972 149px,#a6ce4d 152px,#c1d634 155px,#c3d732 158px,#a0cc53 162px,#89c889 166px,#80ccc6 169px,#56c3e2 171px,#3db3e6 172px,#349bdd 173px,#4052ab 175px,#3f3999 176px,#3b298c 178px,#3d2f91 182px,#3f3d9c 183px,#3c7fca 185px,#35a2e0 186px,#43b8e6 187px,#73cad1 189px,#82ccc2 190px,#90c976 194px,#a3cd50 197px,#c4d731 201px,#c0d635 204px,#95c968 209px,#85c897 212px,#82ccc1 214px,#5dc6df 216px,#44b9e6 217px,#35a3e1 218px,#426dbe 219px,#3a2789 220px,#322585 263px)"></i><i style="height:2px;background:linear-gradient(90deg,#302584 0px,#382688 47px,#3c2a8e 48px,#4044a1 49px,#35a4e1 51px,#4cbfe6 52px,#7fccc8 54px,#8cc980 58px,#a9ce4b 64px,#aed045 67px,#94c96b 72px,#85c896 75px,#82ccbf 77px,#76cbd0 78px,#43b8e6 80px,#32a1e1 81px,#3f76c4 82px,#404aa5 83px,#3d2d91 84px,#352686 87px,#3b288b 93px,#3e3698 94px,#415bb1 95px,#398bd2 96px,#35abe5 97px,#4fc0e5 98px,#7eccca 100px,#8dc97e 104px,#a7ce4c 109px,#afd045 112px,#99ca5d 116px,#86c890 120px,#7ccccc 123px,#4bbee6 125px,#34a8e4 126px,#3b85ce 127px,#4156ad 128px,#3e3496 129px,#3b278a 130px,#372687 137px,#3e3093 139px,#404fa8 140px,#33a4e3 142px,#47bbe6 143px,#79cbce 145px,#83caa8 147px,#90c975 150px,#abcf48 155px,#add047 158px,#92c96f 163px,#84c99f 166px,#80ccc7 168px,#53c3e4 170px,#39afe6 171px,#3792d7 172px,#4163b6 173px,#3f3b9c 174px,#3c298d 175px,#362687 182px,#3d2a8f 184px,#4044a1 185px,#406ebe 186px,#349bdd 187px,#3fb4e6 188px,#59c5e2 189px,#82ccc3 191px,#8fc979 195px,#aacf4a 200px,#aed046 203px,#94c96c 208px,#84c899 211px,#82ccc2 213px,#74cad1 214px,#5bc6e1 215px,#41b6e6 216px,#349dde 217px,#3f71c0 218px,#4046a2 219px,#3d2b8f 220px,#362687 223px,#322585 263px)"></i><i style="height:2px;background:linear-gradient(90deg,#302584 0px,#352686 47px,#3c298d 49px,#3f44a1 50px,#38a5e1 52px,#4cbee4 53px,#7bcbc9 55px,#8dc97d 60px,#9ccb5b 65px,#97ca63 69px,#89c889 73px,#82ccbf 76px,#77cbcf 77px,#46bae6 79px,#35a3e1 80px,#404ba6 82px,#3d2b90 83px,#322585 87px,#3a278a 94px,#3e3698 95px,#415db2 96px,#388ed4 97px,#38aee5 98px,#51c0e3 99px,#7cccc8 101px,#8bc983 105px,#99ca60 109px,#9bcb5d 113px,#8fc979 117px,#83caa6 120px,#7bcbca 122px,#4ebfe4 124px,#37abe4 125px,#3a88d0 126px,#4158ae 127px,#3e3395 128px,#3a2789 129px,#322585 136px,#392688 139px,#3d2e92 140px,#4050a9 141px,#36a6e3 143px,#49bde6 144px,#79cbcd 146px,#83caaa 148px,#8ec97b 151px,#9bcb5d 155px,#99ca60 159px,#8cc981 163px,#7eccc5 167px,#56c3e2 169px,#3cb2e6 170px,#3695d9 171px,#4166b8 172px,#3f3b9b 173px,#3b288b 174px,#322585 181px,#3c2a8e 185px,#4044a1 186px,#349ddf 188px,#42b7e6 189px,#5cc6e0 190px,#73cad1 191px,#80ccc2 192px,#8dc97e 196px,#9aca5e 200px,#9aca5e 204px,#8dc97d 208px,#81ccc1 212px,#75cad0 213px,#43b8e6 215px,#349fe0 216px,#4047a3 218px,#3d2a8e 219px,#332685 225px,#312584 263px)"></i><i style="height:2px;background:linear-gradient(90deg,#302584 0px,#342686 47px,#3a2789 49px,#3f3799 50px,#4162b6 51px,#3598db 52px,#42b6e6 53px,#5cc6e0 54px,#74cad1 55px,#82ccc3 56px,#8ac986 60px,#96ca66 65px,#93c96d 69px,#85c894 73px,#81cdc8 76px,#56c5e4 78px,#3db2e6 79px,#359adc 80px,#4269bb 81px,#3f3e9d 82px,#3c278b 83px,#302584 90px,#392688 94px,#3d2c91 95px,#404fa8 96px,#31a6e5 98px,#47bbe6 99px,#77cbcf 101px,#82ccc1 102px,#8cc981 106px,#95ca67 110px,#94c96c 114px,#87c88f 118px,#82cdc3 121px,#5dc6df 123px,#44b8e6 124px,#32a2e2 125px,#3f78c5 126px,#404aa4 127px,#3d2b8f 128px,#312585 132px,#382688 139px,#3c298c 140px,#4043a0 141px,#426fbf 142px,#339edf 143px,#40b5e6 144px,#59c5e2 145px,#82cdc7 147px,#8bc984 151px,#95c968 155px,#94c96a 159px,#88c88b 163px,#7acbcd 167px,#4cbfe6 169px,#32aae6 170px,#3a88d1 171px,#4157ad 172px,#3e2f95 173px,#392789 174px,#312584 181px,#3b278a 185px,#3f389a 186px,#4161b5 187px,#3792d7 188px,#38afe6 189px,#52c4e6 190px,#7eccca 192px,#89c888 196px,#95c969 200px,#95c969 204px,#8ac887 208px,#7fccca 212px,#53c4e5 214px,#3ab0e6 215px,#3695d9 216px,#4164b7 217px,#3f3a9b 218px,#3c278a 219px,#302584 225px,#302584 263px)"></i><i style="height:2px;background:linear-gradient(90deg,#302584 0px,#342686 47px,#3a2789 49px,#3f3799 50px,#4162b6 51px,#3598db 52px,#42b6e6 53px,#5cc6e0 54px,#74cad1 55px,#82ccc3 56px,#8ac986 60px,#96ca66 65px,#93c96d 69px,#85c894 73px,#81cdc8 76px,#56c5e4 78px,#3db2e6 79px,#359adc 80px,#4269bb 81px,#3f3e9d 82px,#3c278b 83px,#302584 90px,#392688 94px,#3d2c91 95px,#404fa8 96px,#31a6e5 98px,#47bbe6 99px,#77cbcf 101px,#82ccc1 102px,#8cc981 106px,#95ca67 110px,#94c96c 114px,#87c88f 118px,#82cdc3 121px,#5dc6df 123px,#44b8e6 124px,#32a2e2 125px,#3f78c5 126px,#404aa4 127px,#3d2b8f 128px,#312585 132px,#382688 139px,#3c298c 140px,#4043a0 141px,#426fbf 142px,#339edf 143px,#40b5e6 144px,#59c5e2 145px,#82cdc7 147px,#8bc984 151px,#95c968 155px,#94c96a 159px,#88c88b 163px,#7acbcd 167px,#4cbfe6 169px,#32aae6 170px,#3a88d1 171px,#4157ad 172px,#3e2f95 173px,#392789 174px,#312584 181px,#3b278a 185px,#3f389a 186px,#4161b5 187px,#3792d7 188px,#38afe6 189px,#52c4e6 190px,#7eccca 192px,#89c888 196px,#95c969 200px,#95c969 204px,#8ac887 208px,#7fccca 212px,#53c4e5 214px,#3ab0e6 215px,#3695d9 216px,#4164b7 217px,#3f3a9b 218px,#3c278a 219px,#302584 225px,#302584 263px)"></i><i style="height:2px;background:linear-gradient(90deg,#302584 0px,#342686 47px,#3a2789 49px,#3f3799 50px,#4162b6 51px,#3598db 52px,#42b6e6 53px,#5cc6e0 54px,#74cad1 55px,#82ccc3 56px,#8ac986 60px,#96ca66 65px,#93c96d 69px,#85c894 73px,#81cdc8 76px,#56c5e4 78px,#3db2e6 79px,#359adc 80px,#4269bb 81px,#3f3e9d 82px,#3c278b 83px,#302584 90px,#392688 94px,#3d2c91 95px,#404fa8 96px,#31a6e5 98px,#47bbe6 99px,#77cbcf 101px,#82ccc1 102px,#8cc981 106px,#95ca67 110px,#94c96c 114px,#87c88f 118px,#82cdc3 121px,#5dc6df 123px,#44b8e6 124px,#32a2e2 125px,#3f78c5 126px,#404aa4 127px,#3d2b8f 128px,#312585 132px,#382688 139px,#3c298c 140px,#4043a0 141px,#426fbf 142px,#339edf 143px,#40b5e6 144px,#59c5e2 145px,#82cdc7 147px,#8bc984 151px,#95c968 155px,#94c96a 159px,#88c88b 163px,#7acbcd 167px,#4cbfe6 169px,#32aae6 170px,#3a88d1 171px,#4157ad 172px,#3e2f95 173px,#392789 174px,#312584 181px,#3b278a 185px,#3f389a 186px,#4161b5 187px,#3792d7 188px,#38afe6 189px,#52c4e6 190px,#7eccca 192px,#89c888 196px,#95c969 200px,#95c969 204px,#8ac887 208px,#7fccca 212px,#53c4e5 214px,#3ab0e6 215px,#3695d9 216px,#4164b7 217px,#3f3a9b 218px,#3c278a 219px,#302584 225px,#302584 263px)"></i><i style="height:2px;background:linear-gradient(90deg,#302584 0px,#342686 47px,#3a2789 49px,#3f3799 50px,#4162b6 51px,#3598db 52px,#42b6e6 53px,#5cc6e0 54px,#74cad1 55px,#82ccc3 56px,#8ac986 60px,#96ca66 65px,#93c96d 69px,#85c894 73px,#81cdc8 76px,#56c5e4 78px,#3db2e6 79px,#359adc 80px,#4269bb 81px,#3f3e9d 82px,#3c278b 83px,#302584 90px,#392688 94px,#3d2c91 95px,#404fa8 96px,#31a6e5 98px,#47bbe6 99px,#77cbcf 101px,#82ccc1 102px,#8cc981 106px,#95ca67 110px,#94c96c 114px,#87c88f 118px,#82cdc3 121px,#5dc6df 123px,#44b8e6 124px,#32a2e2 125px,#3f78c5 126px,#404aa4 127px,#3d2b8f 128px,#312585 132px,#382688 139px,#3c298c 140px,#4043a0 141px,#426fbf 142px,#339edf 143px,#40b5e6 144px,#59c5e2 145px,#82cdc7 147px,#8bc984 151px,#95c968 155px,#94c96a 159px,#88c88b 163px,#7acbcd 167px,#4cbfe6 169px,#32aae6 170px,#3a88d1 171px,#4157ad 172px,#3e2f95 173px,#392789 174px,#312584 181px,#3b278a 185px,#3f389a 186px,#4161b5 187px,#3792d7 188px,#38afe6 189px,#52c4e6 190px,#7eccca 192px,#89c888 196px,#95c969 200px,#95c969 204px,#8ac887 208px,#7fccca 212px,#53c4e5 214px,#3ab0e6 215px,#3695d9 216px,#4164b7 217px,#3f3a9b 218px,#3c278a 219px,#302584 225px,#302584 263px)"></i><i style="height:2px;background:linear-gradient(90deg,#302584 0px,#342686 47px,#3a2789 49px,#3f3799 50px,#4162b6 51px,#3598db 52px,#42b6e6 53px,#5cc6e0 54px,#74cad1 55px,#82ccc3 56px,#8ac986 60px,#96ca66 65px,#93c96d 69px,#85c894 73px,#81cdc8 76px,#56c5e4 78px,#3db2e6 79px,#359adc 80px,#4269bb 81px,#3f3e9d 82px,#3c278b 83px,#302584 90px,#392688 94px,#3d2c91 95px,#404fa8 96px,#31a6e5 98px,#47bbe6 99px,#77cbcf 101px,#82ccc1 102px,#8cc981 106px,#95ca67 110px,#94c96c 114px,#87c88f 118px,#82cdc3 121px,#5dc6df 123px,#44b8e6 124px,#32a2e2 125px,#3f78c5 126px,#404aa4 127px,#3d2b8f 128px,#312585 132px,#382688 139px,#3c298c 140px,#4043a0 141px,#426fbf 142px,#339edf 143px,#40b5e6 144px,#59c5e2 145px,#82cdc7 147px,#8bc984 151px,#95c968 155px,#94c96a 159px,#88c88b 163px,#7acbcd 167px,#4cbfe6 169px,#32aae6 170px,#3a88d1 171px,#4157ad 172px,#3e2f95 173px,#392789 174px,#312584 181px,#3b278a 185px,#3f389a 186px,#4161b5 187px,#3792d7 188px,#38afe6 189px,#52c4e6 190px,#7eccca 192px,#89c888 196px,#95c969 200px,#95c969 204px,#8ac887 208px,#7fccca 212px,#53c4e5 214px,#3ab0e6 215px,#3695d9 216px,#4164b7 217px,#3f3a9b 218px,#3c278a 219px,#302584 225px,#302584 263px)"></i><i style="height:2px;background:linear-gradient(90deg,#302584 0px,#342686 47px,#3a2789 49px,#3f3799 50px,#4162b6 51px,#3598db 52px,#42b6e6 53px,#5cc6e0 54px,#74cad1 55px,#82ccc3 56px,#8ac986 60px,#96ca66 65px,#93c96d 69px,#85c894 73px,#81cdc8 76px,#56c5e4 78px,#3db2e6 79px,#359adc 80px,#4269bb 81px,#3f3e9d 82px,#3c278b 83px,#302584 90px,#392688 94px,#3d2c91 95px,#404fa8 96px,#31a6e5 98px,#47bbe6 99px,#77cbcf 101px,#82ccc1 102px,#8cc981 106px,#95ca67 110px,#94c96c 114px,#87c88f 118px,#82cdc3 121px,#5dc6df 123px,#44b8e6 124px,#32a2e2 125px,#3f78c5 126px,#404aa4 127px,#3d2b8f 128px,#312585 132px,#382688 139px,#3c298c 140px,#4043a0 141px,#426fbf 142px,#339edf 143px,#40b5e6 144px,#59c5e2 145px,#82cdc7 147px,#8bc984 151px,#95c968 155px,#94c96a 159px,#88c88b 163px,#7acbcd 167px,#4cbfe6 169px,#32aae6 170px,#3a88d1 171px,#4157ad 172px,#3e2f95 173px,#392789 174px,#312584 181px,#3b278a 185px,#3f389a 186px,#4161b5 187px,#3792d7 188px,#38afe6 189px,#52c4e6 190px,#7eccca 192px,#89c888 196px,#95c969 200px,#95c969 204px,#8ac887 208px,#7fccca 212px,#53c4e5 214px,#3ab0e6 215px,#3695d9 216px,#4164b7 217px,#3f3a9b 218px,#3c278a 219px,#302584 225px,#302584 263px)"></i><i style="height:2px;background:linear-gradient(90deg,#302584 0px,#342686 47px,#3a2789 49px,#3f3799 50px,#4162b6 51px,#3598db 52px,#42b6e6 53px,#5cc6e0 54px,#74cad1 55px,#82ccc3 56px,#8ac986 60px,#96ca66 65px,#93c96d 69px,#85c894 73px,#81cdc8 76px,#56c5e4 78px,#3db2e6 79px,#359adc 80px,#4269bb 81px,#3f3e9d 82px,#3c278b 83px,#302584 90px,#392688 94px,#3d2c91 95px,#404fa8 96px,#31a6e5 98px,#47bbe6 99px,#77cbcf 101px,#82ccc1 102px,#8cc981 106px,#95ca67 110px,#94c96c 114px,#87c88f 118px,#82cdc3 121px,#5dc6df 123px,#44b8e6 124px,#32a2e2 125px,#3f78c5 126px,#404aa4 127px,#3d2b8f 128px,#312585 132px,#382688 139px,#3c298c 140px,#4043a0 141px,#426fbf 142px,#339edf 143px,#40b5e6 144px,#59c5e2 145px,#82cdc7 147px,#8bc984 151px,#95c968 155px,#94c96a 159px,#88c88b 163px,#7acbcd 167px,#4cbfe6 169px,#32aae6 170px,#3a88d1 171px,#4157ad 172px,#3e2f95 173px,#392789 174px,#312584 181px,#3b278a 185px,#3f389a 186px,#4161b5 187px,#3792d7 188px,#38afe6 189px,#52c4e6 190px,#7eccca 192px,#89c888 196px,#95c969 200px,#95c969 204px,#8ac887 208px,#7fccca 212px,#53c4e5 214px,#3ab0e6 215px,#3695d9 216px,#4164b7 217px,#3f3a9b 218px,#3c278a 219px,#302584 225px,#302584 263px)"></i><i style="height:2px;background:linear-gradient(90deg,#302584 0px,#342686 47px,#3a2789 49px,#3f3799 50px,#4162b6 51px,#3598db 52px,#42b6e6 53px,#5cc6e0 54px,#74cad1 55px,#82ccc3 56px,#8ac986 60px,#96ca66 65px,#93c96d 69px,#85c894 73px,#81cdc8 76px,#56c5e4 78px,#3db2e6 79px,#359adc 80px,#4269bb 81px,#3f3e9d 82px,#3c278b 83px,#302584 90px,#392688 94px,#3d2c91 95px,#404fa8 96px,#31a6e5 98px,#47bbe6 99px,#77cbcf 101px,#82ccc1 102px,#8cc981 106px,#95ca67 110px,#94c96c 114px,#87c88f 118px,#82cdc3 121px,#5dc6df 123px,#44b8e6 124px,#32a2e2 125px,#3f78c5 126px,#404aa4 127px,#3d2b8f 128px,#312585 132px,#382688 139px,#3c298c 140px,#4043a0 141px,#426fbf 142px,#339edf 143px,#40b5e6 144px,#59c5e2 145px,#82cdc7 147px,#8bc984 151px,#95c968 155px,#94c96a 159px,#88c88b 163px,#7acbcd 167px,#4cbfe6 169px,#32aae6 170px,#3a88d1 171px,#4157ad 172px,#3e2f95 173px,#392789 174px,#312584 181px,#3b278a 185px,#3f389a 186px,#4161b5 187px,#3792d7 188px,#38afe6 189px,#52c4e6 190px,#7eccca 192px,#89c888 196px,#95c969 200px,#95c969 204px,#8ac887 208px,#7fccca 212px,#53c4e5 214px,#3ab0e6 215px,#3695d9 216px,#4164b7 217px,#3f3a9b 218px,#3c278a 219px,#302584 225px,#302584 263px)"></i><i style="height:2px;background:linear-gradient(90deg,#302584 0px,#342686 47px,#3a2789 49px,#3f3799 50px,#4162b6 51px,#3598db 52px,#42b6e6 53px,#5cc6e0 54px,#74cad1 55px,#82ccc3 56px,#8ac986 60px,#96ca66 65px,#93c96d 69px,#85c894 73px,#81cdc8 76px,#56c5e4 78px,#3db2e6 79px,#359adc 80px,#4269bb 81px,#3f3e9d 82px,#3c278b 83px,#302584 90px,#392688 94px,#3d2c91 95px,#404fa8 96px,#31a6e5 98px,#47bbe6 99px,#77cbcf 101px,#82ccc1 102px,#8cc981 106px,#95ca67 110px,#94c96c 114px,#87c88f 118px,#82cdc3 121px,#5dc6df 123px,#44b8e6 124px,#32a2e2 125px,#3f78c5 126px,#404aa4 127px,#3d2b8f 128px,#312585 132px,#382688 139px,#3c298c 140px,#4043a0 141px,#426fbf 142px,#339edf 143px,#40b5e6 144px,#59c5e2 145px,#82cdc7 147px,#8bc984 151px,#95c968 155px,#94c96a 159px,#88c88b 163px,#7acbcd 167px,#4cbfe6 169px,#32aae6 170px,#3a88d1 171px,#4157ad 172px,#3e2f95 173px,#392789 174px,#312584 181px,#3b278a 185px,#3f389a 186px,#4161b5 187px,#3792d7 188px,#38afe6 189px,#52c4e6 190px,#7eccca 192px,#89c888 196px,#95c969 200px,#95c969 204px,#8ac887 208px,#7fccca 212px,#53c4e5 214px,#3ab0e6 215px,#3695d9 216px,#4164b7 217px,#3f3a9b 218px,#3c278a 219px,#302584 225px,#302584 263px)"></i><i style="height:2px;background:linear-gradient(90deg,#302584 0px,#342686 47px,#3a2789 49px,#3f3799 50px,#4162b6 51px,#3598db 52px,#42b6e6 53px,#5cc6e0 54px,#74cad1 55px,#82ccc3 56px,#8ac986 60px,#96ca66 65px,#93c96d 69px,#85c894 73px,#81cdc8 76px,#56c5e4 78px,#3db2e6 79px,#359adc 80px,#4269bb 81px,#3f3e9d 82px,#3c278b 83px,#302584 90px,#392688 94px,#3d2c91 95px,#404fa8 96px,#31a6e5 98px,#47bbe6 99px,#77cbcf 101px,#82ccc1 102px,#8cc981 106px,#95ca67 110px,#94c96c 114px,#87c88f 118px,#82cdc3 121px,#5dc6df 123px,#44b8e6 124px,#32a2e2 125px,#3f78c5 126px,#404aa4 127px,#3d2b8f 128px,#312585 132px,#382688 139px,#3c298c 140px,#4043a0 141px,#426fbf 142px,#339edf 143px,#40b5e6 144px,#59c5e2 145px,#82cdc7 147px,#8bc984 151px,#95c968 155px,#94c96a 159px,#88c88b 163px,#7acbcd 167px,#4cbfe6 169px,#32aae6 170px,#3a88d1 171px,#4157ad 172px,#3e2f95 173px,#392789 174px,#312584 181px,#3b278a 185px,#3f389a 186px,#4161b5 187px,#3792d7 188px,#38afe6 189px,#52c4e6 190px,#7eccca 192px,#89c888 196px,#95c969 200px,#95c969 204px,#8ac887 208px,#7fccca 212px,#53c4e5 214px,#3ab0e6 215px,#3695d9 216px,#4164b7 217px,#3f3a9b 218px,#3c278a 219px,#302584 225px,#302584 263px)"></i><i style="height:2px;background:linear-gradient(90deg,#302584 0px,#342686 47px,#3a2789 49px,#3f3799 50px,#4162b6 51px,#3598db 52px,#42b6e6 53px,#5cc6e0 54px,#74cad1 55px,#82ccc3 56px,#8ac986 60px,#96ca66 65px,#93c96d 69px,#85c894 73px,#81cdc8 76px,#56c5e4 78px,#3db2e6 79px,#359adc 80px,#4269bb 81px,#3f3e9d 82px,#3c278b 83px,#302584 90px,#392688 94px,#3d2c91 95px,#404fa8 96px,#31a6e5 98px,#47bbe6 99px,#77cbcf 101px,#82ccc1 102px,#8cc981 106px,#95ca67 110px,#94c96c 114px,#87c88f 118px,#82cdc3 121px,#5dc6df 123px,#44b8e6 124px,#32a2e2 125px,#3f78c5 126px,#404aa4 127px,#3d2b8f 128px,#312585 132px,#382688 139px,#3c298c 140px,#4043a0 141px,#426fbf 142px,#339edf 143px,#40b5e6 144px,#59c5e2 145px,#82cdc7 147px,#8bc984 151px,#95c968 155px,#94c96a 159px,#88c88b 163px,#7acbcd 167px,#4cbfe6 169px,#32aae6 170px,#3a88d1 171px,#4157ad 172px,#3e2f95 173px,#392789 174px,#312584 181px,#3b278a 185px,#3f389a 186px,#4161b5 187px,#3792d7 188px,#38afe6 189px,#52c4e6 190px,#7eccca 192px,#89c888 196px,#95c969 200px,#95c969 204px,#8ac887 208px,#7fccca 212px,#53c4e5 214px,#3ab0e6 215px,#3695d9 216px,#4164b7 217px,#3f3a9b 218px,#3c278a 219px,#302584 225px,#302584 263px)"></i><i style="height:2px;background:linear-gradient(90deg,#302584 0px,#342686 47px,#3a2789 49px,#3f3799 50px,#4162b6 51px,#3598db 52px,#42b6e6 53px,#5cc6e0 54px,#74cad1 55px,#82ccc3 56px,#8ac986 60px,#96ca66 65px,#93c96d 69px,#85c894 73px,#81cdc8 76px,#56c5e4 78px,#3db2e6 79px,#359adc 80px,#4269bb 81px,#3f3e9d 82px,#3c278b 83px,#302584 90px,#392688 94px,#3d2c91 95px,#404fa8 96px,#31a6e5 98px,#47bbe6 99px,#77cbcf 101px,#82ccc1 102px,#8cc981 106px,#95ca67 110px,#94c96c 114px,#87c88f 118px,#82cdc3 121px,#5dc6df 123px,#44b8e6 124px,#32a2e2 125px,#3f78c5 126px,#404aa4 127px,#3d2b8f 128px,#312585 132px,#382688 139px,#3c298c 140px,#4043a0 141px,#426fbf 142px,#339edf 143px,#40b5e6 144px,#59c5e2 145px,#82cdc7 147px,#8bc984 151px,#95c968 155px,#94c96a 159px,#88c88b 163px,#7acbcd 167px,#4cbfe6 169px,#32aae6 170px,#3a88d1 171px,#4157ad 172px,#3e2f95 173px,#392789 174px,#312584 181px,#3b278a 185px,#3f389a 186px,#4161b5 187px,#3792d7 188px,#38afe6 189px,#52c4e6 190px,#7eccca 192px,#89c888 196px,#95c969 200px,#95c969 204px,#8ac887 208px,#7fccca 212px,#53c4e5 214px,#3ab0e6 215px,#3695d9 216px,#4164b7 217px,#3f3a9b 218px,#3c278a 219px,#302584 225px,#302584 263px)"></i><i style="height:2px;background:linear-gradient(90deg,#302584 0px,#342686 47px,#3a2789 49px,#3f3799 50px,#4162b6 51px,#3598db 52px,#42b6e6 53px,#5cc6e0 54px,#74cad1 55px,#82ccc3 56px,#8ac986 60px,#96ca66 65px,#93c96d 69px,#85c894 73px,#81cdc8 76px,#56c5e4 78px,#3db2e6 79px,#359adc 80px,#4269bb 81px,#3f3e9d 82px,#3c278b 83px,#302584 90px,#392688 94px,#3d2c91 95px,#404fa8 96px,#31a6e5 98px,#47bbe6 99px,#77cbcf 101px,#82ccc1 102px,#8cc981 106px,#95ca67 110px,#94c96c 114px,#87c88f 118px,#82cdc3 121px,#5dc6df 123px,#44b8e6 124px,#32a2e2 125px,#3f78c5 126px,#404aa4 127px,#3d2b8f 128px,#312585 132px,#382688 139px,#3c298c 140px,#4043a0 141px,#426fbf 142px,#339edf 143px,#40b5e6 144px,#59c5e2 145px,#82cdc7 147px,#8bc984 151px,#95c968 155px,#94c96a 159px,#88c88b 163px,#7acbcd 167px,#4cbfe6 169px,#32aae6 170px,#3a88d1 171px,#4157ad 172px,#3e2f95 173px,#392789 174px,#312584 181px,#3b278a 185px,#3f389a 186px,#4161b5 187px,#3792d7 188px,#38afe6 189px,#52c4e6 190px,#7eccca 192px,#89c888 196px,#95c969 200px,#95c969 204px,#8ac887 208px,#7fccca 212px,#53c4e5 214px,#3ab0e6 215px,#3695d9 216px,#4164b7 217px,#3f3a9b 218px,#3c278a 219px,#302584 225px,#302584 263px)"></i><i style="height:2px;background:linear-gradient(90deg,#302584 0px,#342686 47px,#3a2789 49px,#3f3799 50px,#4162b6 51px,#3598db 52px,#42b6e6 53px,#5cc6e0 54px,#74cad1 55px,#82ccc3 56px,#8ac986 60px,#96ca66 65px,#93c96d 69px,#85c894 73px,#81cdc8 76px,#56c5e4 78px,#3db2e6 79px,#359adc 80px,#4269bb 81px,#3f3e9d 82px,#3c278b 83px,#302584 90px,#392688 94px,#3d2c91 95px,#404fa8 96px,#31a6e5 98px,#47bbe6 99px,#77cbcf 101px,#82ccc1 102px,#8cc981 106px,#95ca67 110px,#94c96c 114px,#87c88f 118px,#82cdc3 121px,#5dc6df 123px,#44b8e6 124px,#32a2e2 125px,#3f78c5 126px,#404aa4 127px,#3d2b8f 128px,#312585 132px,#382688 139px,#3c298c 140px,#4043a0 141px,#426fbf 142px,#339edf 143px,#40b5e6 144px,#59c5e2 145px,#82cdc7 147px,#8bc984 151px,#95c968 155px,#94c96a 159px,#88c88b 163px,#7acbcd 167px,#4cbfe6 169px,#32aae6 170px,#3a88d1 171px,#4157ad 172px,#3e2f95 173px,#392789 174px,#312584 181px,#3b278a 185px,#3f389a 186px,#4161b5 187px,#3792d7 188px,#38afe6 189px,#52c4e6 190px,#7eccca 192px,#89c888 196px,#95c969 200px,#95c969 204px,#8ac887 208px,#7fccca 212px,#53c4e5 214px,#3ab0e6 215px,#3695d9 216px,#4164b7 217px,#3f3a9b 218px,#3c278a 219px,#302584 225px,#302584 263px)"></i><i style="height:2px;background:linear-gradient(90deg,#302584 0px,#342686 47px,#3a2789 49px,#3f3799 50px,#4162b6 51px,#3598db 52px,#42b6e6 53px,#5cc6e0 54px,#74cad1 55px,#82ccc3 56px,#8ac986 60px,#96ca66 65px,#93c96d 69px,#85c894 73px,#81cdc8 76px,#56c5e4 78px,#3db2e6 79px,#359adc 80px,#4269bb 81px,#3f3e9d 82px,#3c278b 83px,#302584 90px,#392688 94px,#3d2c91 95px,#404fa8 96px,#31a6e5 98px,#47bbe6 99px,#77cbcf 101px,#82ccc1 102px,#8cc981 106px,#95ca67 110px,#94c96c 114px,#87c88f 118px,#82cdc3 121px,#5dc6df 123px,#44b8e6 124px,#32a2e2 125px,#3f78c5 126px,#404aa4 127px,#3d2b8f 128px,#312585 132px,#382688 139px,#3c298c 140px,#4043a0 141px,#426fbf 142px,#339edf 143px,#40b5e6 144px,#59c5e2 145px,#82cdc7 147px,#8bc984 151px,#95c968 155px,#94c96a 159px,#88c88b 163px,#7acbcd 167px,#4cbfe6 169px,#32aae6 170px,#3a88d1 171px,#4157ad 172px,#3e2f95 173px,#392789 174px,#312584 181px,#3b278a 185px,#3f389a 186px,#4161b5 187px,#3792d7 188px,#38afe6 189px,#52c4e6 190px,#7eccca 192px,#89c888 196px,#95c969 200px,#95c969 204px,#8ac887 208px,#7fccca 212px,#53c4e5 214px,#3ab0e6 215px,#3695d9 216px,#4164b7 217px,#3f3a9b 218px,#3c278a 219px,#302584 225px,#302584 263px)"></i><i style="height:2px;background:linear-gradient(90deg,#302584 0px,#342686 47px,#3a2789 49px,#3f3799 50px,#4162b6 51px,#3598db 52px,#42b6e6 53px,#5cc6e0 54px,#74cad1 55px,#82ccc3 56px,#8ac986 60px,#96ca66 65px,#93c96d 69px,#85c894 73px,#81cdc8 76px,#56c5e4 78px,#3db2e6 79px,#359adc 80px,#4269bb 81px,#3f3e9d 82px,#3c278b 83px,#302584 90px,#392688 94px,#3d2c91 95px,#404fa8 96px,#31a6e5 98px,#47bbe6 99px,#77cbcf 101px,#82ccc1 102px,#8cc981 106px,#95ca67 110px,#94c96c 114px,#87c88f 118px,#82cdc3 121px,#5dc6df 123px,#44b8e6 124px,#32a2e2 125px,#3f78c5 126px,#404aa4 127px,#3d2b8f 128px,#312585 132px,#382688 139px,#3c298c 140px,#4043a0 141px,#426fbf 142px,#339edf 143px,#40b5e6 144px,#59c5e2 145px,#82cdc7 147px,#8bc984 151px,#95c968 155px,#94c96a 159px,#88c88b 163px,#7acbcd 167px,#4cbfe6 169px,#32aae6 170px,#3a88d1 171px,#4157ad 172px,#3e2f95 173px,#392789 174px,#312584 181px,#3b278a 185px,#3f389a 186px,#4161b5 187px,#3792d7 188px,#38afe6 189px,#52c4e6 190px,#7eccca 192px,#89c888 196px,#95c969 200px,#95c969 204px,#8ac887 208px,#7fccca 212px,#53c4e5 214px,#3ab0e6 215px,#3695d9 216px,#4164b7 217px,#3f3a9b 218px,#3c278a 219px,#302584 225px,#302584 263px)"></i><i style="height:2px;background:linear-gradient(90deg,#302584 0px,#342686 47px,#3a2789 49px,#3f3799 50px,#4162b6 51px,#3598db 52px,#42b6e6 53px,#5cc6e0 54px,#74cad1 55px,#82ccc3 56px,#8ac986 60px,#96ca66 65px,#93c96d 69px,#85c894 73px,#81cdc8 76px,#56c5e4 78px,#3db2e6 79px,#359adc 80px,#4269bb 81px,#3f3e9d 82px,#3c278b 83px,#302584 90px,#392688 94px,#3d2c91 95px,#404fa8 96px,#31a6e5 98px,#47bbe6 99px,#77cbcf 101px,#82ccc1 102px,#8cc981 106px,#95ca67 110px,#94c96c 114px,#87c88f 118px,#82cdc3 121px,#5dc6df 123px,#44b8e6 124px,#32a2e2 125px,#3f78c5 126px,#404aa4 127px,#3d2b8f 128px,#312585 132px,#382688 139px,#3c298c 140px,#4043a0 141px,#426fbf 142px,#339edf 143px,#40b5e6 144px,#59c5e2 145px,#82cdc7 147px,#8bc984 151px,#95c968 155px,#94c96a 159px,#88c88b 163px,#7acbcd 167px,#4cbfe6 169px,#32aae6 170px,#3a88d1 171px,#4157ad 172px,#3e2f95 173px,#392789 174px,#312584 181px,#3b278a 185px,#3f389a 186px,#4161b5 187px,#3792d7 188px,#38afe6 189px,#52c4e6 190px,#7eccca 192px,#89c888 196px,#95c969 200px,#95c969 204px,#8ac887 208px,#7fccca 212px,#53c4e5 214px,#3ab0e6 215px,#3695d9 216px,#4164b7 217px,#3f3a9b 218px,#3c278a 219px,#302584 225px,#302584 263px)"></i><i style="height:2px;background:linear-gradient(90deg,#302584 0px,#342686 47px,#3a2789 49px,#3f3799 50px,#4162b6 51px,#3598db 52px,#42b6e6 53px,#5cc6e0 54px,#74cad1 55px,#82ccc3 56px,#8ac986 60px,#96ca66 65px,#93c96d 69px,#85c894 73px,#81cdc8 76px,#56c5e4 78px,#3db2e6 79px,#359adc 80px,#4269bb 81px,#3f3e9d 82px,#3c278b 83px,#302584 90px,#392688 94px,#3d2c91 95px,#404fa8 96px,#31a6e5 98px,#47bbe6 99px,#77cbcf 101px,#82ccc1 102px,#8cc981 106px,#95ca67 110px,#94c96c 114px,#87c88f 118px,#82cdc3 121px,#5dc6df 123px,#44b8e6 124px,#32a2e2 125px,#3f78c5 126px,#404aa4 127px,#3d2b8f 128px,#312585 132px,#382688 139px,#3c298c 140px,#4043a0 141px,#426fbf 142px,#339edf 143px,#40b5e6 144px,#59c5e2 145px,#82cdc7 147px,#8bc984 151px,#95c968 155px,#94c96a 159px,#88c88b 163px,#7acbcd 167px,#4cbfe6 169px,#32aae6 170px,#3a88d1 171px,#4157ad 172px,#3e2f95 173px,#392789 174px,#312584 181px,#3b278a 185px,#3f389a 186px,#4161b5 187px,#3792d7 188px,#38afe6 189px,#52c4e6 190px,#7eccca 192px,#89c888 196px,#95c969 200px,#95c969 204px,#8ac887 208px,#7fccca 212px,#53c4e5 214px,#3ab0e6 215px,#3695d9 216px,#4164b7 217px,#3f3a9b 218px,#3c278a 219px,#302584 225px,#302584 263px)"></i><i style="height:2px;background:linear-gradient(90deg,#302584 0px,#342686 47px,#3a2789 49px,#3f3799 50px,#4162b6 51px,#3598db 52px,#42b6e6 53px,#5cc6e0 54px,#74cad1 55px,#82ccc3 56px,#8ac986 60px,#96ca66 65px,#93c96d 69px,#85c894 73px,#81cdc8 76px,#56c5e4 78px,#3db2e6 79px,#359adc 80px,#4269bb 81px,#3f3e9d 82px,#3c278b 83px,#302584 90px,#392688 94px,#3d2c91 95px,#404fa8 96px,#31a6e5 98px,#47bbe6 99px,#77cbcf 101px,#82ccc1 102px,#8cc981 106px,#95ca67 110px,#94c96c 114px,#87c88f 118px,#82cdc3 121px,#5dc6df 123px,#44b8e6 124px,#32a2e2 125px,#3f78c5 126px,#404aa4 127px,#3d2b8f 128px,#312585 132px,#382688 139px,#3c298c 140px,#4043a0 141px,#426fbf 142px,#339edf 143px,#40b5e6 144px,#59c5e2 145px,#82cdc7 147px,#8bc984 151px,#95c968 155px,#94c96a 159px,#88c88b 163px,#7acbcd 167px,#4cbfe6 169px,#32aae6 170px,#3a88d1 171px,#4157ad 172px,#3e2f95 173px,#392789 174px,#312584 181px,#3b278a 185px,#3f389a 186px,#4161b5 187px,#3792d7 188px,#38afe6 189px,#52c4e6 190px,#7eccca 192px,#89c888 196px,#95c969 200px,#95c969 204px,#8ac887 208px,#7fccca 212px,#53c4e5 214px,#3ab0e6 215px,#3695d9 216px,#4164b7 217px,#3f3a9b 218px,#3c278a 219px,#302584 225px,#302584 263px)"></i><i style="height:2px;background:linear-gradient(90deg,#302584 0px,#342686 47px,#3a2789 49px,#3f3799 50px,#4162b6 51px,#3598db 52px,#42b6e6 53px,#5cc6e0 54px,#74cad1 55px,#82ccc3 56px,#8ac986 60px,#96ca66 65px,#93c96d 69px,#85c894 73px,#81cdc8 76px,#56c5e4 78px,#3db2e6 79px,#359adc 80px,#4269bb 81px,#3f3e9d 82px,#3c278b 83px,#302584 90px,#392688 94px,#3d2c91 95px,#404fa8 96px,#31a6e5 98px,#47bbe6 99px,#77cbcf 101px,#82ccc1 102px,#8cc981 106px,#95ca67 110px,#94c96c 114px,#87c88f 118px,#82cdc3 121px,#5dc6df 123px,#44b8e6 124px,#32a2e2 125px,#3f78c5 126px,#404aa4 127px,#3d2b8f 128px,#312585 132px,#382688 139px,#3c298c 140px,#4043a0 141px,#426fbf 142px,#339edf 143px,#40b5e6 144px,#59c5e2 145px,#82cdc7 147px,#8bc984 151px,#95c968 155px,#94c96a 159px,#88c88b 163px,#7acbcd 167px,#4cbfe6 169px,#32aae6 170px,#3a88d1 171px,#4157ad 172px,#3e2f95 173px,#392789 174px,#312584 181px,#3b278a 185px,#3f389a 186px,#4161b5 187px,#3792d7 188px,#38afe6 189px,#52c4e6 190px,#7eccca 192px,#89c888 196px,#95c969 200px,#95c969 204px,#8ac887 208px,#7fccca 212px,#53c4e5 214px,#3ab0e6 215px,#3695d9 216px,#4164b7 217px,#3f3a9b 218px,#3c278a 219px,#302584 225px,#302584 263px)"></i><i style="height:2px;background:linear-gradient(90deg,#302584 0px,#342686 47px,#3a2789 49px,#3f3799 50px,#4162b6 51px,#3598db 52px,#42b6e6 53px,#5cc6e0 54px,#74cad1 55px,#82ccc3 56px,#8ac986 60px,#96ca66 65px,#93c96d 69px,#85c894 73px,#81cdc8 76px,#56c5e4 78px,#3db2e6 79px,#359adc 80px,#4269bb 81px,#3f3e9d 82px,#3c278b 83px,#302584 90px,#392688 94px,#3d2c91 95px,#404fa8 96px,#31a6e5 98px,#47bbe6 99px,#77cbcf 101px,#82ccc1 102px,#8cc981 106px,#95ca67 110px,#94c96c 114px,#87c88f 118px,#82cdc3 121px,#5dc6df 123px,#44b8e6 124px,#32a2e2 125px,#3f78c5 126px,#404aa4 127px,#3d2b8f 128px,#312585 132px,#382688 139px,#3c298c 140px,#4043a0 141px,#426fbf 142px,#339edf 143px,#40b5e6 144px,#59c5e2 145px,#82cdc7 147px,#8bc984 151px,#95c968 155px,#94c96a 159px,#88c88b 163px,#7acbcd 167px,#4cbfe6 169px,#32aae6 170px,#3a88d1 171px,#4157ad 172px,#3e2f95 173px,#392789 174px,#312584 181px,#3b278a 185px,#3f389a 186px,#4161b5 187px,#3792d7 188px,#38afe6 189px,#52c4e6 190px,#7eccca 192px,#89c888 196px,#95c969 200px,#95c969 204px,#8ac887 208px,#7fccca 212px,#53c4e5 214px,#3ab0e6 215px,#3695d9 216px,#4164b7 217px,#3f3a9b 218px,#3c278a 219px,#302584 225px,#302584 263px)"></i><i style="height:2px;background:linear-gradient(90deg,#302584 0px,#342686 47px,#3a2789 49px,#3f3799 50px,#4162b6 51px,#3598db 52px,#42b6e6 53px,#5cc6e0 54px,#74cad1 55px,#82ccc3 56px,#8ac986 60px,#96ca66 65px,#93c96d 69px,#85c894 73px,#81cdc8 76px,#56c5e4 78px,#3db2e6 79px,#359adc 80px,#4269bb 81px,#3f3e9d 82px,#3c278b 83px,#302584 90px,#392688 94px,#3d2c91 95px,#404fa8 96px,#31a6e5 98px,#47bbe6 99px,#77cbcf 101px,#82ccc1 102px,#8cc981 106px,#95ca67 110px,#94c96c 114px,#87c88f 118px,#82cdc3 121px,#5dc6df 123px,#44b8e6 124px,#32a2e2 125px,#3f78c5 126px,#404aa4 127px,#3d2b8f 128px,#312585 132px,#382688 139px,#3c298c 140px,#4043a0 141px,#426fbf 142px,#339edf 143px,#40b5e6 144px,#59c5e2 145px,#82cdc7 147px,#8bc984 151px,#95c968 155px,#94c96a 159px,#88c88b 163px,#7acbcd 167px,#4cbfe6 169px,#32aae6 170px,#3a88d1 171px,#4157ad 172px,#3e2f95 173px,#392789 174px,#312584 181px,#3b278a 185px,#3f389a 186px,#4161b5 187px,#3792d7 188px,#38afe6 189px,#52c4e6 190px,#7eccca 192px,#89c888 196px,#95c969 200px,#95c969 204px,#8ac887 208px,#7fccca 212px,#53c4e5 214px,#3ab0e6 215px,#3695d9 216px,#4164b7 217px,#3f3a9b 218px,#3c278a 219px,#302584 225px,#302584 263px)"></i><i style="height:2px;background:linear-gradient(90deg,#302584 0px,#342686 47px,#3a2789 49px,#3f3799 50px,#4162b6 51px,#3598db 52px,#42b6e6 53px,#5cc6e0 54px,#74cad1 55px,#82ccc3 56px,#8ac986 60px,#96ca66 65px,#93c96d 69px,#85c894 73px,#81cdc8 76px,#56c5e4 78px,#3db2e6 79px,#359adc 80px,#4269bb 81px,#3f3e9d 82px,#3c278b 83px,#302584 90px,#392688 94px,#3d2c91 95px,#404fa8 96px,#31a6e5 98px,#47bbe6 99px,#77cbcf 101px,#82ccc1 102px,#8cc981 106px,#95ca67 110px,#94c96c 114px,#87c88f 118px,#82cdc3 121px,#5dc6df 123px,#44b8e6 124px,#32a2e2 125px,#3f78c5 126px,#404aa4 127px,#3d2b8f 128px,#312585 132px,#382688 139px,#3c298c 140px,#4043a0 141px,#426fbf 142px,#339edf 143px,#40b5e6 144px,#59c5e2 145px,#82cdc7 147px,#8bc984 151px,#95c968 155px,#94c96a 159px,#88c88b 163px,#7acbcd 167px,#4cbfe6 169px,#32aae6 170px,#3a88d1 171px,#4157ad 172px,#3e2f95 173px,#392789 174px,#312584 181px,#3b278a 185px,#3f389a 186px,#4161b5 187px,#3792d7 188px,#38afe6 189px,#52c4e6 190px,#7eccca 192px,#89c888 196px,#95c969 200px,#95c969 204px,#8ac887 208px,#7fccca 212px,#53c4e5 214px,#3ab0e6 215px,#3695d9 216px,#4164b7 217px,#3f3a9b 218px,#3c278a 219px,#302584 225px,#302584 263px)"></i><i style="height:2px;background:linear-gradient(90deg,#302584 0px,#342686 47px,#3a2789 49px,#3f3799 50px,#4162b6 51px,#3598db 52px,#42b6e6 53px,#5cc6e0 54px,#74cad1 55px,#82ccc3 56px,#8ac986 60px,#96ca66 65px,#93c96d 69px,#85c894 73px,#81cdc8 76px,#56c5e4 78px,#3db2e6 79px,#359adc 80px,#4269bb 81px,#3f3e9d 82px,#3c278b 83px,#302584 90px,#392688 94px,#3d2c91 95px,#404fa8 96px,#31a6e5 98px,#47bbe6 99px,#77cbcf 101px,#82ccc1 102px,#8cc981 106px,#95ca67 110px,#94c96c 114px,#87c88f 118px,#82cdc3 121px,#5dc6df 123px,#44b8e6 124px,#32a2e2 125px,#3f78c5 126px,#404aa4 127px,#3d2b8f 128px,#312585 132px,#382688 139px,#3c298c 140px,#4043a0 141px,#426fbf 142px,#339edf 143px,#40b5e6 144px,#59c5e2 145px,#82cdc7 147px,#8bc984 151px,#95c968 155px,#94c96a 159px,#88c88b 163px,#7acbcd 167px,#4cbfe6 169px,#32aae6 170px,#3a88d1 171px,#4157ad 172px,#3e2f95 173px,#392789 174px,#312584 181px,#3b278a 185px,#3f389a 186px,#4161b5 187px,#3792d7 188px,#38afe6 189px,#52c4e6 190px,#7eccca 192px,#89c888 196px,#95c969 200px,#95c969 204px,#8ac887 208px,#7fccca 212px,#53c4e5 214px,#3ab0e6 215px,#3695d9 216px,#4164b7 217px,#3f3a9b 218px,#3c278a 219px,#302584 225px,#302584 263px)"></i><i style="height:2px;background:linear-gradient(90deg,#302584 0px,#342686 47px,#3a2789 49px,#3f3799 50px,#4162b6 51px,#3598db 52px,#42b6e6 53px,#5cc6e0 54px,#74cad1 55px,#82ccc3 56px,#8ac986 60px,#96ca66 65px,#93c96d 69px,#85c894 73px,#81cdc8 76px,#56c5e4 78px,#3db2e6 79px,#359adc 80px,#4269bb 81px,#3f3e9d 82px,#3c278b 83px,#302584 90px,#392688 94px,#3d2c91 95px,#404fa8 96px,#31a6e5 98px,#47bbe6 99px,#77cbcf 101px,#82ccc1 102px,#8cc981 106px,#95ca67 110px,#94c96c 114px,#87c88f 118px,#82cdc3 121px,#5dc6df 123px,#44b8e6 124px,#32a2e2 125px,#3f78c5 126px,#404aa4 127px,#3d2b8f 128px,#312585 132px,#382688 139px,#3c298c 140px,#4043a0 141px,#426fbf 142px,#339edf 143px,#40b5e6 144px,#59c5e2 145px,#82cdc7 147px,#8bc984 151px,#95c968 155px,#94c96a 159px,#88c88b 163px,#7acbcd 167px,#4cbfe6 169px,#32aae6 170px,#3a88d1 171px,#4157ad 172px,#3e2f95 173px,#392789 174px,#312584 181px,#3b278a 185px,#3f389a 186px,#4161b5 187px,#3792d7 188px,#38afe6 189px,#52c4e6 190px,#7eccca 192px,#89c888 196px,#95c969 200px,#95c969 204px,#8ac887 208px,#7fccca 212px,#53c4e5 214px,#3ab0e6 215px,#3695d9 216px,#4164b7 217px,#3f3a9b 218px,#3c278a 219px,#302584 225px,#302584 263px)"></i><i style="height:2px;background:linear-gradient(90deg,#302584 0px,#342686 47px,#3a2789 49px,#3f3799 50px,#4162b6 51px,#3598db 52px,#42b6e6 53px,#5cc6e0 54px,#74cad1 55px,#82ccc3 56px,#8ac986 60px,#96ca66 65px,#93c96d 69px,#85c894 73px,#81cdc8 76px,#56c5e4 78px,#3db2e6 79px,#359adc 80px,#4269bb 81px,#3f3e9d 82px,#3c278b 83px,#302584 90px,#392688 94px,#3d2c91 95px,#404fa8 96px,#31a6e5 98px,#47bbe6 99px,#77cbcf 101px,#82ccc1 102px,#8cc981 106px,#95ca67 110px,#94c96c 114px,#87c88f 118px,#82cdc3 121px,#5dc6df 123px,#44b8e6 124px,#32a2e2 125px,#3f78c5 126px,#404aa4 127px,#3d2b8f 128px,#312585 132px,#382688 139px,#3c298c 140px,#4043a0 141px,#426fbf 142px,#339edf 143px,#40b5e6 144px,#59c5e2 145px,#82cdc7 147px,#8bc984 151px,#95c968 155px,#94c96a 159px,#88c88b 163px,#7acbcd 167px,#4cbfe6 169px,#32aae6 170px,#3a88d1 171px,#4157ad 172px,#3e2f95 173px,#392789 174px,#312584 181px,#3b278a 185px,#3f389a 186px,#4161b5 187px,#3792d7 188px,#38afe6 189px,#52c4e6 190px,#7eccca 192px,#89c888 196px,#95c969 200px,#95c969 204px,#8ac887 208px,#7fccca 212px,#53c4e5 214px,#3ab0e6 215px,#3695d9 216px,#4164b7 217px,#3f3a9b 218px,#3c278a 219px,#302584 225px,#302584 263px)"></i></div>
<svg width="1721" height="985" viewBox="0 0 1721 985" font-family="'Liberation Sans',Arial,sans-serif">
<defs><linearGradient id="cbgrad" x1="0" y1="0" x2="0" y2="1"><stop offset="0.000" stop-color="rgb(140,16,16)"/><stop offset="0.025" stop-color="rgb(180,16,16)"/><stop offset="0.050" stop-color="rgb(212,20,20)"/><stop offset="0.130" stop-color="rgb(222,30,24)"/><stop offset="0.190" stop-color="rgb(230,62,25)"/><stop offset="0.250" stop-color="rgb(238,112,15)"/><stop offset="0.310" stop-color="rgb(245,160,0)"/><stop offset="0.370" stop-color="rgb(248,205,0)"/><stop offset="0.430" stop-color="rgb(244,230,0)"/><stop offset="0.470" stop-color="rgb(205,218,40)"/><stop offset="0.520" stop-color="rgb(155,202,88)"/><stop offset="0.580" stop-color="rgb(132,200,150)"/><stop offset="0.640" stop-color="rgb(130,205,200)"/><stop offset="0.700" stop-color="rgb(82,196,230)"/><stop offset="0.740" stop-color="rgb(48,168,230)"/><stop offset="0.800" stop-color="rgb(66,112,192)"/><stop offset="0.850" stop-color="rgb(64,74,164)"/><stop offset="0.890" stop-color="rgb(62,46,148)"/><stop offset="0.920" stop-color="rgb(60,39,138)"/><stop offset="0.970" stop-color="rgb(48,37,132)"/><stop offset="1.000" stop-color="rgb(47,37,131)"/></linearGradient></defs>
<defs><radialGradient id="abg" cx="0.5" cy="0.55" r="0.6"><stop offset="0" stop-color="#f2eeeb"/><stop offset="0.7" stop-color="#f7f5f3"/><stop offset="1" stop-color="#ffffff"/></radialGradient><filter id="ablur" x="-20%" y="-20%" width="140%" height="140%"><feGaussianBlur stdDeviation="7"/></filter><linearGradient id="insfloor" x1="0" y1="0" x2="0.3" y2="1"><stop offset="0" stop-color="#c9c2bb"/><stop offset="1" stop-color="#e6e0d8"/></linearGradient><linearGradient id="insgap" x1="0" y1="0" x2="1" y2="1"><stop offset="0" stop-color="#4d5868"/><stop offset="0.6" stop-color="#5e6c80"/><stop offset="1" stop-color="#8a96a6"/></linearGradient></defs>
<rect x="75" y="196" width="468" height="262" fill="url(#abg)"/>
<polygon points="116.7,322 150.1,380 293.9,420 331.6,384 337.5,387 411.5,406 484.2,330 470,318 300,300" fill="#d2c6be" opacity="0.45" filter="url(#ablur)" transform="translate(2,6)"/>
<polygon points="450.8,259.6 415.9,294.4 415.9,305.4 450.8,270.6" fill="#414a48" stroke="#414a48" stroke-width="0.7" stroke-linejoin="round"/>
<polygon points="484.2,316.2 411.5,392.3 411.5,403.3 484.2,327.2" fill="#465050" stroke="#465050" stroke-width="0.7" stroke-linejoin="round"/>
<polygon points="336.3,372.6 411.5,392.3 411.5,403.3 336.3,383.6" fill="#5b6562" stroke="#5b6562" stroke-width="0.7" stroke-linejoin="round"/>
<polygon points="262,252.8 267,250.5 268.2,254.9 336.3,372.6 336.3,383.6 331.6,381.8 331.6,370.8" fill="#4a5660" />
<polygon points="264.2,249.5 267.2,249.5 268.6,255.5 266,255" fill="#f4f2f0" />
<polygon points="268.2,254.9 306.4,221 450.8,259.6 415.9,294.4 484.2,316.2 411.5,392.3 336.3,372.6" fill="#78857f" />
<polygon points="116.7,309.8 184.9,330.7 184.9,341.7 116.7,320.8" fill="#58625f" stroke="#58625f" stroke-width="0.7" stroke-linejoin="round"/>
<polygon points="150.1,367.1 293.9,406.9 293.9,417.9 150.1,378.1" fill="#56605d" stroke="#56605d" stroke-width="0.7" stroke-linejoin="round"/>
<polygon points="293.9,406.9 331.6,370.8 331.6,381.8 293.9,417.9" fill="#444d4b" stroke="#444d4b" stroke-width="0.7" stroke-linejoin="round"/>
<polygon points="192.2,234.9 263.4,253.2 331.6,370.8 293.9,406.9 150.1,367.1 184.9,330.7 116.7,309.8" fill="#77847f" />
<g>
<rect x="151.7" y="39.7" width="181.3" height="137.3" fill="url(#insfloor)"/>
<polygon points="252.1,78.7 333,99 333,137.2 250.5,114.5" fill="#5e676b" />
<polygon points="252.1,78.7 333,99 333,108 262,93" fill="#535b5f" />
<polygon points="213.1,39.7 228.5,39.7 252.1,78.7 250.5,114.5 240,108 232.3,77" fill="url(#insgap)" />
<polygon points="228.5,39.7 333,39.7 333,99 252.1,78.7" fill="#7a8984" />
<polygon points="151.7,39.7 213.1,39.7 231.5,76.5 151.7,150.2" fill="#7e8c87" />
<polygon points="231.5,76.5 232.3,111.2 164.4,177 151.7,177 151.7,150.2" fill="#3e4745" />
</g>
<text x="231.8" y="65.8" font-size="31.5" fill="#ffffff" stroke="#ffffff" stroke-width="0.45" >G</text>
<line x1="232.3" y1="66.6" x2="232.3" y2="94.2" stroke="#ffffff" stroke-width="1.2" stroke-dasharray="5,3"/>
<line x1="250.2" y1="70" x2="250.2" y2="94.2" stroke="#ffffff" stroke-width="1.2" stroke-dasharray="5,3"/>
<line x1="234" y1="76.8" x2="248.6" y2="80.2" stroke="#ffffff" stroke-width="1.1" />
<polygon points="233,76.5 237.5,75.2 236.9,79" fill="#ffffff" />
<polygon points="249.6,80.5 245.2,81.7 245.8,78" fill="#ffffff" />
<line x1="245.6" y1="177.5" x2="265.2" y2="245.5" stroke="#000" stroke-width="2.4" />
<polygon points="267.9,254.5 260.4,243.6 269.2,241.1" fill="#000" />
<polygon points="119.2,256.5 131.5,262.1 135.4,254.6 140.6,270.2 125.3,276.2 127.9,269.3 116.4,263.2" fill="#ffffff" stroke="#000" stroke-width="1.1" stroke-linejoin="miter"/>
<polygon points="205.7,420.3 214.1,424.6 208.5,436.7 216,440.7 198.8,445.6 191.3,428.6 198.8,432.7" fill="#ffffff" stroke="#000" stroke-width="1.1" stroke-linejoin="miter"/>
<polygon points="468.9,370.7 481,375.8 485.7,368 490.8,385.3 474.3,392.7 477,385.3 465.8,378.3" fill="#ffffff" stroke="#000" stroke-width="1.1" stroke-linejoin="miter"/>
<text x="75.8" y="214.5" font-size="33" fill="#000" stroke="#000" stroke-width="0.45" >(a)</text>
<text x="127" y="249.2" font-size="33" fill="#000" stroke="#000" stroke-width="0.45" >In</text>
<text x="101" y="442.9" font-size="32.5" fill="#000" stroke="#000" stroke-width="0.45" >Cross</text>
<text x="415.8" y="432.1" font-size="32.5" fill="#000" stroke="#000" stroke-width="0.45" >Through</text>
<ellipse cx="1016.5" cy="221.5" rx="11.5" ry="137" fill="#fbe1e1" stroke="#e03a20" stroke-width="1.6" stroke-dasharray="8,5"/>
<polyline points="745.5,164 779.3,186.3 813.1,222.9 846.9,263.1 880.7,286.3 914.5,307.4 948.3,321.3 982.1,333.4 1015.9,341.3 1049.7,347.9 1083.5,353.4" fill="none" stroke="#555555" stroke-width="1.5" stroke-linejoin="round" />
<polyline points="745.5,286.3 779.3,263.7 813.1,229.5 846.9,188.2 880.7,164 914.5,142.9 948.3,128.1 982.1,116.9 1015.9,109 1049.7,101.5 1083.5,96" fill="none" stroke="#ee3535" stroke-width="1.5" stroke-linejoin="round" />
<polyline points="745.5,164.6 779.3,188.2 813.1,224.1 846.9,262.8 880.7,286 914.5,307.1 948.3,321 982.1,333.1 1015.9,341 1049.7,347.6 1083.5,353" fill="none" stroke="#3535a0" stroke-width="1.5" stroke-linejoin="round" />
<polyline points="745.5,288.1 779.3,265.5 813.1,231.6 846.9,193.3 880.7,169.1 914.5,148.9 948.3,133.8 982.1,122.3 1015.9,113.9 1049.7,106.6 1083.5,100.9" fill="none" stroke="#c050a8" stroke-width="1.5" stroke-linejoin="round" />
<polyline points="745.5,168.2 779.3,190 813.1,225 846.9,262.8 880.7,286 914.5,307.7 948.3,321.6 982.1,333.7 1015.9,341.6 1049.7,348.2 1083.5,353.7" fill="none" stroke="#3aa03a" stroke-width="1.5" stroke-linejoin="round" />
<polyline points="745.5,290.8 779.3,270.6 813.1,237.7 846.9,202 880.7,177.9 914.5,156.7 948.3,142.9 982.1,130.5 1015.9,121.4 1049.7,114.5 1083.5,108.4" fill="none" stroke="#4848b8" stroke-width="1.5" stroke-linejoin="round" />
<polyline points="745.5,175.2 779.3,196 813.1,228.9 846.9,262.1 880.7,285.1 914.5,305.9 948.3,319.5 982.1,331.6 1015.9,339.8 1049.7,346.4 1083.5,351.8" fill="none" stroke="#8a50b8" stroke-width="1.5" stroke-linejoin="round" />
<polyline points="745.5,296 779.3,277.5 813.1,245.5 846.9,212.6 880.7,189.1 914.5,169.4 948.3,154.6 982.1,142.3 1015.9,133.2 1049.7,125.9 1083.5,119.3" fill="none" stroke="#b050b8" stroke-width="1.5" stroke-linejoin="round" />
<rect x="741.3" y="159.8" width="8.4" height="8.4" fill="#505050"/>
<rect x="775.1" y="182.1" width="8.4" height="8.4" fill="#505050"/>
<rect x="808.9" y="218.7" width="8.4" height="8.4" fill="#505050"/>
<rect x="842.7" y="258.9" width="8.4" height="8.4" fill="#505050"/>
<rect x="876.5" y="282.1" width="8.4" height="8.4" fill="#505050"/>
<rect x="910.3" y="303.2" width="8.4" height="8.4" fill="#505050"/>
<rect x="944.1" y="317.1" width="8.4" height="8.4" fill="#505050"/>
<rect x="977.9" y="329.2" width="8.4" height="8.4" fill="#505050"/>
<rect x="1011.7" y="337.1" width="8.4" height="8.4" fill="#505050"/>
<rect x="1045.5" y="343.7" width="8.4" height="8.4" fill="#505050"/>
<rect x="1079.3" y="349.2" width="8.4" height="8.4" fill="#505050"/>
<rect x="741.3" y="282.1" width="8.4" height="8.4" fill="#e85555"/>
<rect x="775.1" y="259.5" width="8.4" height="8.4" fill="#e85555"/>
<rect x="808.9" y="225.3" width="8.4" height="8.4" fill="#e85555"/>
<rect x="842.7" y="184" width="8.4" height="8.4" fill="#e85555"/>
<rect x="876.5" y="159.8" width="8.4" height="8.4" fill="#e85555"/>
<rect x="910.3" y="138.7" width="8.4" height="8.4" fill="#e85555"/>
<rect x="944.1" y="123.9" width="8.4" height="8.4" fill="#e85555"/>
<rect x="977.9" y="112.7" width="8.4" height="8.4" fill="#e85555"/>
<rect x="1011.7" y="104.8" width="8.4" height="8.4" fill="#e85555"/>
<rect x="1045.5" y="97.3" width="8.4" height="8.4" fill="#e85555"/>
<rect x="1079.3" y="91.8" width="8.4" height="8.4" fill="#e85555"/>
<rect x="741.3" y="160.4" width="8.4" height="8.4" fill="#35288e"/>
<rect x="775.1" y="184" width="8.4" height="8.4" fill="#35288e"/>
<rect x="808.9" y="219.9" width="8.4" height="8.4" fill="#35288e"/>
<rect x="842.7" y="258.6" width="8.4" height="8.4" fill="#35288e"/>
<rect x="876.5" y="281.8" width="8.4" height="8.4" fill="#35288e"/>
<rect x="910.3" y="302.9" width="8.4" height="8.4" fill="#35288e"/>
<rect x="944.1" y="316.8" width="8.4" height="8.4" fill="#35288e"/>
<rect x="977.9" y="328.9" width="8.4" height="8.4" fill="#35288e"/>
<rect x="1011.7" y="336.8" width="8.4" height="8.4" fill="#35288e"/>
<rect x="1045.5" y="343.4" width="8.4" height="8.4" fill="#35288e"/>
<rect x="1079.3" y="348.8" width="8.4" height="8.4" fill="#35288e"/>
<rect x="741.3" y="283.9" width="8.4" height="8.4" fill="#cc77bb"/>
<rect x="775.1" y="261.3" width="8.4" height="8.4" fill="#cc77bb"/>
<rect x="808.9" y="227.4" width="8.4" height="8.4" fill="#cc77bb"/>
<rect x="842.7" y="189.1" width="8.4" height="8.4" fill="#cc77bb"/>
<rect x="876.5" y="164.9" width="8.4" height="8.4" fill="#cc77bb"/>
<rect x="910.3" y="144.7" width="8.4" height="8.4" fill="#cc77bb"/>
<rect x="944.1" y="129.6" width="8.4" height="8.4" fill="#cc77bb"/>
<rect x="977.9" y="118.1" width="8.4" height="8.4" fill="#cc77bb"/>
<rect x="1011.7" y="109.7" width="8.4" height="8.4" fill="#cc77bb"/>
<rect x="1045.5" y="102.4" width="8.4" height="8.4" fill="#cc77bb"/>
<rect x="1079.3" y="96.7" width="8.4" height="8.4" fill="#cc77bb"/>
<rect x="741.3" y="164" width="8.4" height="8.4" fill="#3aaa3a"/>
<rect x="775.1" y="185.8" width="8.4" height="8.4" fill="#3aaa3a"/>
<rect x="808.9" y="220.8" width="8.4" height="8.4" fill="#3aaa3a"/>
<rect x="842.7" y="258.6" width="8.4" height="8.4" fill="#3aaa3a"/>
<rect x="876.5" y="281.8" width="8.4" height="8.4" fill="#3aaa3a"/>
<rect x="910.3" y="303.5" width="8.4" height="8.4" fill="#3aaa3a"/>
<rect x="944.1" y="317.4" width="8.4" height="8.4" fill="#3aaa3a"/>
<rect x="977.9" y="329.5" width="8.4" height="8.4" fill="#3aaa3a"/>
<rect x="1011.7" y="337.4" width="8.4" height="8.4" fill="#3aaa3a"/>
<rect x="1045.5" y="344" width="8.4" height="8.4" fill="#3aaa3a"/>
<rect x="1079.3" y="349.5" width="8.4" height="8.4" fill="#3aaa3a"/>
<rect x="741.3" y="286.6" width="8.4" height="8.4" fill="#2e2490"/>
<rect x="775.1" y="266.4" width="8.4" height="8.4" fill="#2e2490"/>
<rect x="808.9" y="233.5" width="8.4" height="8.4" fill="#2e2490"/>
<rect x="842.7" y="197.8" width="8.4" height="8.4" fill="#2e2490"/>
<rect x="876.5" y="173.7" width="8.4" height="8.4" fill="#2e2490"/>
<rect x="910.3" y="152.5" width="8.4" height="8.4" fill="#2e2490"/>
<rect x="944.1" y="138.7" width="8.4" height="8.4" fill="#2e2490"/>
<rect x="977.9" y="126.3" width="8.4" height="8.4" fill="#2e2490"/>
<rect x="1011.7" y="117.2" width="8.4" height="8.4" fill="#2e2490"/>
<rect x="1045.5" y="110.3" width="8.4" height="8.4" fill="#2e2490"/>
<rect x="1079.3" y="104.2" width="8.4" height="8.4" fill="#2e2490"/>
<rect x="741.3" y="171" width="8.4" height="8.4" fill="#7a48a8"/>
<rect x="775.1" y="191.8" width="8.4" height="8.4" fill="#7a48a8"/>
<rect x="808.9" y="224.7" width="8.4" height="8.4" fill="#7a48a8"/>
<rect x="842.7" y="257.9" width="8.4" height="8.4" fill="#7a48a8"/>
<rect x="876.5" y="280.9" width="8.4" height="8.4" fill="#7a48a8"/>
<rect x="910.3" y="301.7" width="8.4" height="8.4" fill="#7a48a8"/>
<rect x="944.1" y="315.3" width="8.4" height="8.4" fill="#7a48a8"/>
<rect x="977.9" y="327.4" width="8.4" height="8.4" fill="#7a48a8"/>
<rect x="1011.7" y="335.6" width="8.4" height="8.4" fill="#7a48a8"/>
<rect x="1045.5" y="342.2" width="8.4" height="8.4" fill="#7a48a8"/>
<rect x="1079.3" y="347.6" width="8.4" height="8.4" fill="#7a48a8"/>
<rect x="741.3" y="291.8" width="8.4" height="8.4" fill="#8a2290"/>
<rect x="775.1" y="273.3" width="8.4" height="8.4" fill="#8a2290"/>
<rect x="808.9" y="241.3" width="8.4" height="8.4" fill="#8a2290"/>
<rect x="842.7" y="208.4" width="8.4" height="8.4" fill="#8a2290"/>
<rect x="876.5" y="184.9" width="8.4" height="8.4" fill="#8a2290"/>
<rect x="910.3" y="165.2" width="8.4" height="8.4" fill="#8a2290"/>
<rect x="944.1" y="150.4" width="8.4" height="8.4" fill="#8a2290"/>
<rect x="977.9" y="138.1" width="8.4" height="8.4" fill="#8a2290"/>
<rect x="1011.7" y="129" width="8.4" height="8.4" fill="#8a2290"/>
<rect x="1045.5" y="121.7" width="8.4" height="8.4" fill="#8a2290"/>
<rect x="1079.3" y="115.1" width="8.4" height="8.4" fill="#8a2290"/>
<line x1="696.5" y1="74" x2="1119.5" y2="74" stroke="#555" stroke-width="1.6" />
<line x1="1119.5" y1="74" x2="1119.5" y2="376" stroke="#888" stroke-width="2" />
<line x1="696.5" y1="73.2" x2="696.5" y2="377" stroke="#222" stroke-width="1.6" />
<line x1="695.5" y1="376" x2="1120.5" y2="376" stroke="#5c5c5c" stroke-width="2.6" />
<line x1="690.5" y1="376" x2="696.5" y2="376" stroke="#222" stroke-width="1.4" />
<text x="653.3" y="383.2" font-size="24.2" fill="#000" stroke="#000" stroke-width="0.45" >0.0</text>
<line x1="693.5" y1="345.8" x2="696.5" y2="345.8" stroke="#222" stroke-width="1.4" />
<line x1="690.5" y1="315.6" x2="696.5" y2="315.6" stroke="#222" stroke-width="1.4" />
<text x="653.6" y="322.8" font-size="24.2" fill="#000" stroke="#000" stroke-width="0.45" >0.2</text>
<line x1="693.5" y1="285.4" x2="696.5" y2="285.4" stroke="#222" stroke-width="1.4" />
<line x1="690.5" y1="255.2" x2="696.5" y2="255.2" stroke="#222" stroke-width="1.4" />
<text x="653" y="262.4" font-size="24.2" fill="#000" stroke="#000" stroke-width="0.45" >0.4</text>
<line x1="693.5" y1="225" x2="696.5" y2="225" stroke="#222" stroke-width="1.4" />
<line x1="690.5" y1="194.8" x2="696.5" y2="194.8" stroke="#222" stroke-width="1.4" />
<text x="653.4" y="202" font-size="24.2" fill="#000" stroke="#000" stroke-width="0.45" >0.6</text>
<line x1="693.5" y1="164.6" x2="696.5" y2="164.6" stroke="#222" stroke-width="1.4" />
<line x1="690.5" y1="134.4" x2="696.5" y2="134.4" stroke="#222" stroke-width="1.4" />
<text x="653.4" y="141.6" font-size="24.2" fill="#000" stroke="#000" stroke-width="0.45" >0.8</text>
<line x1="693.5" y1="104.2" x2="696.5" y2="104.2" stroke="#222" stroke-width="1.4" />
<line x1="690.5" y1="74" x2="696.5" y2="74" stroke="#222" stroke-width="1.4" />
<text x="653.3" y="81.2" font-size="24.2" fill="#000" stroke="#000" stroke-width="0.45" >1.0</text>
<line x1="738.8" y1="376" x2="738.8" y2="382" stroke="#555" stroke-width="1.6" />
<text x="725.3" y="402.9" font-size="24.2" fill="#000" stroke="#000" stroke-width="0.45" >50</text>
<line x1="781" y1="376" x2="781" y2="379" stroke="#555" stroke-width="1.6" />
<line x1="823.2" y1="376" x2="823.2" y2="382" stroke="#555" stroke-width="1.6" />
<text x="802.6" y="402.9" font-size="24.2" fill="#000" stroke="#000" stroke-width="0.45" >100</text>
<line x1="865.5" y1="376" x2="865.5" y2="379" stroke="#555" stroke-width="1.6" />
<line x1="907.8" y1="376" x2="907.8" y2="382" stroke="#555" stroke-width="1.6" />
<text x="887.1" y="402.9" font-size="24.2" fill="#000" stroke="#000" stroke-width="0.45" >150</text>
<line x1="950" y1="376" x2="950" y2="379" stroke="#555" stroke-width="1.6" />
<line x1="992.2" y1="376" x2="992.2" y2="382" stroke="#555" stroke-width="1.6" />
<text x="971.9" y="402.9" font-size="24.2" fill="#000" stroke="#000" stroke-width="0.45" >200</text>
<line x1="1034.5" y1="376" x2="1034.5" y2="379" stroke="#555" stroke-width="1.6" />
<line x1="1076.8" y1="376" x2="1076.8" y2="382" stroke="#555" stroke-width="1.6" />
<text x="1056.4" y="402.9" font-size="24.2" fill="#000" stroke="#000" stroke-width="0.45" >250</text>
<line x1="1119" y1="376" x2="1119" y2="379" stroke="#555" stroke-width="1.6" />
<text x="800.5" y="429.9" font-size="23.8" fill="#000" stroke="#000" stroke-width="0.45" >Trench width G (nm)</text>
<text x="641.5" y="315.1" font-size="24.1" fill="#000" stroke="#000" stroke-width="0.45" transform="rotate(-90 641.5 315.1)">Transmission</text>
<text x="710.4" y="333.6" font-size="31.8" fill="#000" stroke="#000" stroke-width="0.45" >(b)</text>
<line x1="682.8" y1="20.6" x2="741.8" y2="20.6" stroke="#555" stroke-width="1.6" />
<rect x="708.1" y="16.4" width="8.4" height="8.4" fill="#505050"/>
<text x="748.5" y="28.7" font-size="25.7" fill="#000" stroke="#000" stroke-width="0.45" >0-T</text>
<line x1="795.5" y1="20.6" x2="854.8" y2="20.6" stroke="#ee4040" stroke-width="1.6" />
<rect x="820.9" y="16.4" width="8.4" height="8.4" fill="#e85555"/>
<text x="861.2" y="28.7" font-size="25.7" fill="#000" stroke="#000" stroke-width="0.45" >0-C</text>
<line x1="910.9" y1="20.6" x2="969" y2="20.6" stroke="#4040a8" stroke-width="1.6" />
<rect x="935.8" y="16.4" width="8.4" height="8.4" fill="#35288e"/>
<text x="976.9" y="28.5" font-size="25.7" fill="#000" stroke="#000" stroke-width="0.45" >1-T</text>
<line x1="1022.7" y1="20.6" x2="1082" y2="20.6" stroke="#c858b0" stroke-width="1.6" />
<rect x="1048.1" y="16.4" width="8.4" height="8.4" fill="#cc77bb"/>
<text x="1089.1" y="28.7" font-size="25.7" fill="#000" stroke="#000" stroke-width="0.45" >1-C</text>
<line x1="682.8" y1="53" x2="741.8" y2="53" stroke="#88c888" stroke-width="2.2" />
<rect x="708.1" y="48.8" width="8.4" height="8.4" fill="#3aaa3a"/>
<text x="748.2" y="61.1" font-size="25.7" fill="#000" stroke="#000" stroke-width="0.45" >2-T</text>
<line x1="795.5" y1="53" x2="854.8" y2="53" stroke="#8888c8" stroke-width="2.2" />
<rect x="820.9" y="48.8" width="8.4" height="8.4" fill="#2e2490"/>
<text x="860.9" y="61.1" font-size="25.7" fill="#000" stroke="#000" stroke-width="0.45" >2-C</text>
<line x1="910.9" y1="53" x2="969" y2="53" stroke="#a888cc" stroke-width="2.2" />
<rect x="935.8" y="48.8" width="8.4" height="8.4" fill="#7a48a8"/>
<text x="977.8" y="61.1" font-size="25.7" fill="#000" stroke="#000" stroke-width="0.45" >3-T</text>
<line x1="1022.7" y1="53" x2="1082" y2="53" stroke="#cc88cc" stroke-width="2.2" />
<rect x="1048.1" y="48.8" width="8.4" height="8.4" fill="#8a2290"/>
<text x="1090" y="61.1" font-size="25.7" fill="#000" stroke="#000" stroke-width="0.45" >3-C</text>
<polyline points="1379.4,71.4 1379.4,116.4" fill="none" stroke="rgba(235,230,255,0.85)" stroke-width="1.1" />
<polyline points="1337.7,300.6 1337.7,116.4 1378.5,116.4 1554.5,302.2 1596.3,302.2 1596.3,116.4 1559.7,116.4 1559.7,71.4" fill="none" stroke="rgba(235,230,255,0.85)" stroke-width="1.1" />
<polyline points="1380.7,115.8 1556.7,301.6" fill="none" stroke="rgba(235,230,255,0.85)" stroke-width="1.0" />
<polyline points="1337.7,300.6 1374.2,300.6 1374.2,354.5" fill="none" stroke="rgba(235,230,255,0.85)" stroke-width="1.1" />
<polyline points="1554.5,302.2 1553,354.5" fill="none" stroke="rgba(235,230,255,0.85)" stroke-width="1.1" />
<line x1="1381.4" y1="111.2" x2="1558.7" y2="111.2" stroke="rgba(235,230,255,0.85)" stroke-width="1.0" />
<polygon points="1380.9,111.2 1386.4,109 1386.4,113.4" fill="rgba(235,230,255,0.85)"/>
<polygon points="1559.2,111.2 1553.7,109 1553.7,113.4" fill="rgba(235,230,255,0.85)"/>
<text x="1438.7" y="102.4" font-size="24" fill="#ffffff" stroke="#ffffff" stroke-width="0.45" >W=15</text>
<text x="1335.6" y="105.3" font-size="33" fill="#ffffff" stroke="#ffffff" stroke-width="0.45" >(c)</text>
<line x1="1330.4" y1="354.8" x2="1330.4" y2="61.7" stroke="#555" stroke-width="1.1" />
<polygon points="1330.4,57.7 1328.5,62.7 1332.3,62.7" fill="#222"/>
<line x1="1330.4" y1="354.8" x2="1621" y2="354.8" stroke="#555" stroke-width="1.1" />
<polygon points="1625,354.8 1620,352.9 1620,356.7" fill="#222"/>
<line x1="1320.4" y1="70.5" x2="1330.4" y2="70.5" stroke="#555" stroke-width="1.1" />
<text x="1276.5" y="80.5" font-size="33" fill="#000" stroke="#000" stroke-width="0.45" >10</text>
<line x1="1320.4" y1="142.3" x2="1330.4" y2="142.3" stroke="#555" stroke-width="1.1" />
<text x="1285.6" y="152.1" font-size="33" fill="#000" stroke="#000" stroke-width="0.45" >5</text>
<line x1="1320.4" y1="213.2" x2="1330.4" y2="213.2" stroke="#555" stroke-width="1.1" />
<text x="1285.6" y="223" font-size="33" fill="#000" stroke="#000" stroke-width="0.45" >0</text>
<line x1="1320.4" y1="288.5" x2="1330.4" y2="288.5" stroke="#555" stroke-width="1.1" />
<text x="1279.7" y="302.1" font-size="33" fill="#000" stroke="#000" stroke-width="0.45" >-5</text>
<line x1="1320.4" y1="355.5" x2="1330.4" y2="355.5" stroke="#555" stroke-width="1.1" />
<text x="1265.9" y="367.4" font-size="33" fill="#000" stroke="#000" stroke-width="0.45" >-10</text>
<line x1="1330.2" y1="354.8" x2="1330.2" y2="364.8" stroke="#555" stroke-width="1.1" />
<text x="1308.9" y="392.9" font-size="32" fill="#000" stroke="#000" stroke-width="0.45" >-10</text>
<line x1="1400.4" y1="354.8" x2="1400.4" y2="364.8" stroke="#555" stroke-width="1.1" />
<text x="1387" y="392.6" font-size="32" fill="#000" stroke="#000" stroke-width="0.45" >-5</text>
<line x1="1469.5" y1="354.8" x2="1469.5" y2="364.8" stroke="#555" stroke-width="1.1" />
<text x="1461.5" y="392.9" font-size="32" fill="#000" stroke="#000" stroke-width="0.45" >0</text>
<line x1="1538.6" y1="354.8" x2="1538.6" y2="364.8" stroke="#555" stroke-width="1.1" />
<text x="1530.1" y="392.6" font-size="32" fill="#000" stroke="#000" stroke-width="0.45" >5</text>
<line x1="1607.8" y1="354.8" x2="1607.8" y2="364.8" stroke="#999" stroke-width="1.1" />
<text x="1591.8" y="392.9" font-size="32" fill="#000" stroke="#000" stroke-width="0.45" >10</text>
<text x="1439" y="425.4" font-size="25" font-weight="bold" stroke="#000" stroke-width="0.3">X<tspan font-weight="normal" font-size="24">(</tspan><tspan font-size="32">μm</tspan><tspan font-weight="normal" font-size="24">)</tspan></text>
<text x="1272.4" y="252.6" font-size="25" font-weight="bold" stroke="#000" stroke-width="0.3" transform="rotate(-90 1272.4 252.6)">Y<tspan font-weight="normal" font-size="24">(</tspan><tspan font-size="32">μm</tspan><tspan font-weight="normal" font-size="24">)</tspan></text>
<rect x="1633" y="69.8" width="12.5" height="285" fill="url(#cbgrad)"/>
<line x1="1633" y1="84.5" x2="1645.5" y2="84.5" stroke="rgba(0,0,0,0.35)" stroke-width="0.9" />
<line x1="1633" y1="111.4" x2="1645.5" y2="111.4" stroke="rgba(0,0,0,0.35)" stroke-width="0.9" />
<line x1="1633" y1="138.3" x2="1645.5" y2="138.3" stroke="rgba(0,0,0,0.35)" stroke-width="0.9" />
<line x1="1633" y1="165.2" x2="1645.5" y2="165.2" stroke="rgba(0,0,0,0.35)" stroke-width="0.9" />
<line x1="1633" y1="192.1" x2="1645.5" y2="192.1" stroke="rgba(0,0,0,0.35)" stroke-width="0.9" />
<line x1="1633" y1="219" x2="1645.5" y2="219" stroke="rgba(0,0,0,0.35)" stroke-width="0.9" />
<line x1="1633" y1="245.9" x2="1645.5" y2="245.9" stroke="rgba(0,0,0,0.35)" stroke-width="0.9" />
<line x1="1633" y1="272.8" x2="1645.5" y2="272.8" stroke="rgba(0,0,0,0.35)" stroke-width="0.9" />
<line x1="1633" y1="299.7" x2="1645.5" y2="299.7" stroke="rgba(0,0,0,0.35)" stroke-width="0.9" />
<line x1="1633" y1="326.6" x2="1645.5" y2="326.6" stroke="rgba(0,0,0,0.35)" stroke-width="0.9" />
<text x="1648.5" y="77.8" font-size="33" fill="#000" stroke="#000" stroke-width="0.45" >1</text>
<text x="1650.8" y="363.2" font-size="33" fill="#000" stroke="#000" stroke-width="0.45" >0</text>
<text x="1682.8" y="62.5" font-size="32.35" fill="#000" stroke="#000" stroke-width="0.45" transform="rotate(90 1682.8 62.5)">Normalized intensity</text>
<polyline points="1378.5,599.6 1378.5,646.4" fill="none" stroke="rgba(235,230,255,0.85)" stroke-width="1.1" />
<polyline points="1335.9,830.6 1335.9,646.4 1377.9,646.4 1553,830.6 1592.6,830.6 1592.6,646.4 1558.5,646.4 1558.5,599.6" fill="none" stroke="rgba(235,230,255,0.85)" stroke-width="1.1" />
<polyline points="1380.1,645.8 1555.2,830" fill="none" stroke="rgba(235,230,255,0.85)" stroke-width="1.0" />
<polyline points="1335.9,830.6 1372.4,830.6 1372.4,883.3" fill="none" stroke="rgba(235,230,255,0.85)" stroke-width="1.1" />
<polyline points="1553,830.6 1551.5,883.3" fill="none" stroke="rgba(235,230,255,0.85)" stroke-width="1.1" />
<line x1="1380.5" y1="641" x2="1557.5" y2="641" stroke="rgba(235,230,255,0.85)" stroke-width="1.0" />
<polygon points="1380,641 1385.5,638.8 1385.5,643.2" fill="rgba(235,230,255,0.85)"/>
<polygon points="1558,641 1552.5,638.8 1552.5,643.2" fill="rgba(235,230,255,0.85)"/>
<text x="1437.2" y="632.4" font-size="24" fill="#ffffff" stroke="#ffffff" stroke-width="0.45" >W=15</text>
<text x="1335" y="634.5" font-size="33" fill="#ffffff" stroke="#ffffff" stroke-width="0.45" >(d)</text>
<line x1="1328.6" y1="883.3" x2="1328.6" y2="576.8" stroke="#555" stroke-width="1.1" />
<polygon points="1328.6,572.8 1326.7,577.8 1330.5,577.8" fill="#222"/>
<line x1="1328.6" y1="883.3" x2="1618" y2="883.3" stroke="#555" stroke-width="1.1" />
<polygon points="1622,883.3 1617,881.4 1617,885.2" fill="#222"/>
<line x1="1318.6" y1="585.8" x2="1328.6" y2="585.8" stroke="#555" stroke-width="1.1" />
<text x="1275.3" y="596.3" font-size="33" fill="#000" stroke="#000" stroke-width="0.45" >10</text>
<line x1="1318.6" y1="657.5" x2="1328.6" y2="657.5" stroke="#555" stroke-width="1.1" />
<text x="1284.1" y="667.5" font-size="33" fill="#000" stroke="#000" stroke-width="0.45" >5</text>
<line x1="1318.6" y1="728.5" x2="1328.6" y2="728.5" stroke="#555" stroke-width="1.1" />
<text x="1284" y="738.7" font-size="33" fill="#000" stroke="#000" stroke-width="0.45" >0</text>
<line x1="1318.6" y1="804.2" x2="1328.6" y2="804.2" stroke="#555" stroke-width="1.1" />
<text x="1279.1" y="816.6" font-size="33" fill="#000" stroke="#000" stroke-width="0.45" >-5</text>
<line x1="1318.6" y1="876" x2="1328.6" y2="876" stroke="#555" stroke-width="1.1" />
<text x="1264.4" y="882.3" font-size="33" fill="#000" stroke="#000" stroke-width="0.45" >-10</text>
<line x1="1328.4" y1="883.3" x2="1328.4" y2="893.3" stroke="#555" stroke-width="1.1" />
<text x="1307.4" y="921.9" font-size="32" fill="#000" stroke="#000" stroke-width="0.45" >-10</text>
<line x1="1398.8" y1="883.3" x2="1398.8" y2="893.3" stroke="#555" stroke-width="1.1" />
<text x="1385.4" y="921.6" font-size="32" fill="#000" stroke="#000" stroke-width="0.45" >-5</text>
<line x1="1467.8" y1="883.3" x2="1467.8" y2="893.3" stroke="#555" stroke-width="1.1" />
<text x="1459.8" y="921.9" font-size="32" fill="#000" stroke="#000" stroke-width="0.45" >0</text>
<line x1="1536.8" y1="883.3" x2="1536.8" y2="893.3" stroke="#555" stroke-width="1.1" />
<text x="1528.2" y="921.6" font-size="32" fill="#000" stroke="#000" stroke-width="0.45" >5</text>
<line x1="1605.8" y1="883.3" x2="1605.8" y2="893.3" stroke="#999" stroke-width="1.1" />
<text x="1589.4" y="921.9" font-size="32" fill="#000" stroke="#000" stroke-width="0.45" >10</text>
<text x="1436" y="961.2" font-size="25" font-weight="bold" stroke="#000" stroke-width="0.3">X<tspan font-weight="normal" font-size="24">(</tspan><tspan font-size="32">μm</tspan><tspan font-weight="normal" font-size="24">)</tspan></text>
<text x="1270.2" y="776.1" font-size="25" font-weight="bold" stroke="#000" stroke-width="0.3" transform="rotate(-90 1270.2 776.1)">Y<tspan font-weight="normal" font-size="24">(</tspan><tspan font-size="32">μm</tspan><tspan font-weight="normal" font-size="24">)</tspan></text>
<rect x="1631.4" y="600.4" width="12.1" height="285.2" fill="url(#cbgrad)"/>
<line x1="1631.4" y1="615.1" x2="1643.5" y2="615.1" stroke="rgba(0,0,0,0.35)" stroke-width="0.9" />
<line x1="1631.4" y1="642" x2="1643.5" y2="642" stroke="rgba(0,0,0,0.35)" stroke-width="0.9" />
<line x1="1631.4" y1="668.9" x2="1643.5" y2="668.9" stroke="rgba(0,0,0,0.35)" stroke-width="0.9" />
<line x1="1631.4" y1="695.8" x2="1643.5" y2="695.8" stroke="rgba(0,0,0,0.35)" stroke-width="0.9" />
<line x1="1631.4" y1="722.7" x2="1643.5" y2="722.7" stroke="rgba(0,0,0,0.35)" stroke-width="0.9" />
<line x1="1631.4" y1="749.6" x2="1643.5" y2="749.6" stroke="rgba(0,0,0,0.35)" stroke-width="0.9" />
<line x1="1631.4" y1="776.5" x2="1643.5" y2="776.5" stroke="rgba(0,0,0,0.35)" stroke-width="0.9" />
<line x1="1631.4" y1="803.4" x2="1643.5" y2="803.4" stroke="rgba(0,0,0,0.35)" stroke-width="0.9" />
<line x1="1631.4" y1="830.3" x2="1643.5" y2="830.3" stroke="rgba(0,0,0,0.35)" stroke-width="0.9" />
<line x1="1631.4" y1="857.2" x2="1643.5" y2="857.2" stroke="rgba(0,0,0,0.35)" stroke-width="0.9" />
<text x="1646.3" y="608.5" font-size="33" fill="#000" stroke="#000" stroke-width="0.45" >1</text>
<text x="1648.7" y="894" font-size="33" fill="#000" stroke="#000" stroke-width="0.45" >0</text>
<text x="1682.6" y="597.7" font-size="32.35" fill="#000" stroke="#000" stroke-width="0.45" transform="rotate(90 1682.6 597.7)">Normalized intensity</text>
<clipPath id="clipf"><rect x="101.5" y="587" width="455.8" height="314.5"/></clipPath>
<g clip-path="url(#clipf)">
<polyline points="101.5,613.2 270.1,613.4 272.4,614.3 557.3,614.5" fill="none" stroke="#807d10" stroke-width="3" stroke-linejoin="round" />
<polyline points="101.5,653 557.3,648.3" fill="none" stroke="#2e2090" stroke-width="3" stroke-linejoin="round" />
<polyline points="101.5,722.3 192.7,722.8 557.3,714.6" fill="none" stroke="#ff8010" stroke-width="2.6" stroke-linejoin="round" />
<polyline points="101.5,717.3 557.3,711.5" fill="none" stroke="#6a2aa0" stroke-width="2.6" stroke-linejoin="round" />
<polyline points="101.5,769.1 107.2,769.1 112.9,769.3 118.6,769.4 124.3,769.7 130,769.9 135.7,770.2 141.4,770.5 147.1,770.8 152.8,771 158.5,771.2 164.2,771.3 169.9,771.3 175.6,771.3 181.3,771.1 187,770.8 192.7,770.4 198.4,770 204.1,769.5 209.8,769.1 215.4,768.6 221.1,768.3 226.8,768 232.5,767.8 238.2,767.8 243.9,767.8 249.6,767.8 255.3,767.8 261,767.9 266.7,767.9 272.4,768 278.1,768 283.8,768.1 289.5,768.1 295.2,768.2 300.9,768.2 306.6,768.2 312.3,768.2 318,768.3 323.7,768.3 329.4,768.4 335.1,768.5 340.8,768.6 346.5,768.8 352.2,768.9 357.9,769 363.6,769 369.3,769.1 375,769.1 380.7,769 386.4,768.9 392.1,768.6 397.8,768.3 403.5,767.9 409.2,767.5 414.9,767.1 420.6,766.7 426.3,766.4 432,766.2 437.7,766 443.4,765.9 449,765.9 454.7,765.9 460.4,765.8 466.1,765.7 471.8,765.6 477.5,765.5 483.2,765.4 488.9,765.3 494.6,765.2 500.3,765.1 506,765.1 511.7,765 515.5,765.1 519.3,765.2 523.1,765.3 526.9,765.5 530.7,765.7 534.5,765.9 538.3,766.2 542.1,766.4 545.9,766.6 549.7,766.7 553.5,766.8 557.3,766.8" fill="none" stroke="#c048b0" stroke-width="2.6" stroke-linejoin="round" />
<polyline points="101.5,792.5 557.3,786.2" fill="none" stroke="#22962a" stroke-width="2.6" stroke-linejoin="round" />
<polyline points="101.5,850.5 103.2,850.5 104.8,850.4 106.5,850.2 108.2,849.9 109.9,849.5 111.5,849.2 113.2,848.9 114.9,848.5 116.5,848.2 118.2,848 119.9,847.9 121.6,847.8 125.6,848 129.7,848.5 133.7,849.4 137.8,850.4 141.9,851.7 145.9,853 150,854.4 154.1,855.6 158.1,856.7 162.2,857.5 166.3,858 170.3,858.2 174.2,858 178.2,857.5 182.1,856.7 186,855.6 189.9,854.4 193.8,853 197.7,851.7 201.6,850.4 205.5,849.4 209.4,848.5 213.4,848 217.3,847.8 221,848 224.8,848.4 228.6,849 232.3,849.8 236.1,850.7 239.8,851.7 243.6,852.7 247.4,853.6 251.1,854.4 254.9,855 258.6,855.4 262.4,855.5 267,855.3 271.6,854.7 276.2,853.9 280.8,852.7 285.4,851.3 290,849.9 294.6,848.4 299.2,847.1 303.8,845.9 308.4,845 313,844.4 317.5,844.2 321.5,844.4 325.5,845 329.5,845.9 333.5,847.1 337.5,848.4 341.5,849.9 345.5,851.3 349.5,852.7 353.4,853.9 357.4,854.7 361.4,855.3 365.4,855.5 369.4,855.3 373.4,854.6 377.4,853.6 381.4,852.2 385.3,850.7 389.3,849 393.3,847.3 397.3,845.7 401.3,844.4 405.3,843.3 409.3,842.7 413.3,842.4 417.2,842.6 421.1,843 425,843.6 428.9,844.5 432.8,845.5 436.7,846.5 440.7,847.5 444.6,848.5 448.5,849.4 452.4,850 456.3,850.4 460.2,850.5 464.7,850.4 469.1,849.8 473.5,848.8 478,847.6 482.4,846.2 486.9,844.7 491.3,843.2 495.8,841.8 500.2,840.6 504.7,839.6 509.1,839 513.5,838.8 517.2,839 520.8,839.5 524.5,840.4 528.1,841.4 531.8,842.7 535.4,844 539.1,845.4 542.7,846.6 546.4,847.7 550,848.5 553.7,849 557.3,849.2" fill="none" stroke="#ee1a10" stroke-width="2.4" stroke-linejoin="round" />
</g>
<line x1="101.5" y1="587" x2="557.3" y2="587" stroke="#333" stroke-width="1.5" />
<line x1="557.3" y1="587" x2="557.3" y2="901.5" stroke="#888" stroke-width="2" />
<line x1="101.5" y1="586.3" x2="101.5" y2="902.5" stroke="#222" stroke-width="1.6" />
<line x1="100.5" y1="901.5" x2="558.3" y2="901.5" stroke="#444" stroke-width="1.8" />
<line x1="98.5" y1="902.3" x2="101.5" y2="902.3" stroke="#222" stroke-width="1.3" />
<line x1="95.5" y1="879.8" x2="101.5" y2="879.8" stroke="#222" stroke-width="1.3" />
<text x="53.8" y="886.4" font-size="25.5" fill="#000" stroke="#000" stroke-width="0.45" >-60</text>
<line x1="98.5" y1="857.3" x2="101.5" y2="857.3" stroke="#222" stroke-width="1.3" />
<line x1="95.5" y1="834.8" x2="101.5" y2="834.8" stroke="#222" stroke-width="1.3" />
<text x="53.8" y="841.4" font-size="25.5" fill="#000" stroke="#000" stroke-width="0.45" >-50</text>
<line x1="98.5" y1="812.3" x2="101.5" y2="812.3" stroke="#222" stroke-width="1.3" />
<line x1="95.5" y1="789.8" x2="101.5" y2="789.8" stroke="#222" stroke-width="1.3" />
<text x="53.8" y="796.4" font-size="25.5" fill="#000" stroke="#000" stroke-width="0.45" >-40</text>
<line x1="98.5" y1="767.3" x2="101.5" y2="767.3" stroke="#222" stroke-width="1.3" />
<line x1="95.5" y1="744.8" x2="101.5" y2="744.8" stroke="#222" stroke-width="1.3" />
<text x="53.8" y="751.4" font-size="25.5" fill="#000" stroke="#000" stroke-width="0.45" >-30</text>
<line x1="98.5" y1="722.3" x2="101.5" y2="722.3" stroke="#222" stroke-width="1.3" />
<line x1="95.5" y1="699.8" x2="101.5" y2="699.8" stroke="#222" stroke-width="1.3" />
<text x="53.8" y="706.4" font-size="25.5" fill="#000" stroke="#000" stroke-width="0.45" >-20</text>
<line x1="98.5" y1="677.3" x2="101.5" y2="677.3" stroke="#222" stroke-width="1.3" />
<line x1="95.5" y1="654.8" x2="101.5" y2="654.8" stroke="#222" stroke-width="1.3" />
<text x="53.8" y="661.4" font-size="25.5" fill="#000" stroke="#000" stroke-width="0.45" >-10</text>
<line x1="98.5" y1="632.3" x2="101.5" y2="632.3" stroke="#222" stroke-width="1.3" />
<line x1="95.5" y1="609.8" x2="101.5" y2="609.8" stroke="#222" stroke-width="1.3" />
<text x="76.5" y="616.4" font-size="25.5" fill="#000" stroke="#000" stroke-width="0.45" >0</text>
<line x1="98.5" y1="587.3" x2="101.5" y2="587.3" stroke="#222" stroke-width="1.3" />
<line x1="101.5" y1="901.5" x2="101.5" y2="907.5" stroke="#444" stroke-width="1.4" />
<text x="72.7" y="932.4" font-size="25.5" fill="#000" stroke="#000" stroke-width="0.45" >1500</text>
<line x1="147.1" y1="901.5" x2="147.1" y2="905" stroke="#444" stroke-width="1.4" />
<line x1="192.7" y1="901.5" x2="192.7" y2="907.5" stroke="#444" stroke-width="1.4" />
<text x="163.8" y="932.4" font-size="25.5" fill="#000" stroke="#000" stroke-width="0.45" >1520</text>
<line x1="238.2" y1="901.5" x2="238.2" y2="905" stroke="#444" stroke-width="1.4" />
<line x1="283.8" y1="901.5" x2="283.8" y2="907.5" stroke="#444" stroke-width="1.4" />
<text x="255" y="932.4" font-size="25.5" fill="#000" stroke="#000" stroke-width="0.45" >1540</text>
<line x1="329.4" y1="901.5" x2="329.4" y2="905" stroke="#444" stroke-width="1.4" />
<line x1="375" y1="901.5" x2="375" y2="907.5" stroke="#444" stroke-width="1.4" />
<text x="346.2" y="932.4" font-size="25.5" fill="#000" stroke="#000" stroke-width="0.45" >1560</text>
<line x1="420.6" y1="901.5" x2="420.6" y2="905" stroke="#444" stroke-width="1.4" />
<line x1="466.1" y1="901.5" x2="466.1" y2="907.5" stroke="#444" stroke-width="1.4" />
<text x="437.3" y="932.4" font-size="25.5" fill="#000" stroke="#000" stroke-width="0.45" >1580</text>
<line x1="511.7" y1="901.5" x2="511.7" y2="905" stroke="#444" stroke-width="1.4" />
<line x1="557.3" y1="901.5" x2="557.3" y2="907.5" stroke="#444" stroke-width="1.4" />
<text x="528.5" y="932.4" font-size="25.5" fill="#000" stroke="#000" stroke-width="0.45" >1600</text>
<text x="232" y="967.3" font-size="25.9" fill="#000" stroke="#000" stroke-width="0.45" >Wavelength (nm)</text>
<text x="26.4" y="867.4" font-size="26.4" fill="#000" stroke="#000" stroke-width="0.45" transform="rotate(-90 26.4 867.4)">Transmission (dB)</text>
<text x="134.9" y="827.9" font-size="32.3" fill="#000" stroke="#000" stroke-width="0.45" >(f)</text>
<line x1="79.5" y1="538.3" x2="138" y2="538.3" stroke="#000" stroke-width="3" />
<text x="144.3" y="546.5" font-size="25.6" fill="#000" stroke="#000" stroke-width="0.45" >30-T</text>
<line x1="203.7" y1="538.3" x2="263.1" y2="538.3" stroke="#ee1a10" stroke-width="3" />
<text x="269.5" y="546.5" font-size="25.6" fill="#000" stroke="#000" stroke-width="0.45" >31-T</text>
<line x1="328.1" y1="538.3" x2="387.5" y2="538.3" stroke="#ff8010" stroke-width="3" />
<text x="393.2" y="546.5" font-size="25.6" fill="#000" stroke="#000" stroke-width="0.45" >32-T</text>
<line x1="452.7" y1="538.3" x2="512.2" y2="538.3" stroke="#2e2090" stroke-width="3" />
<text x="517.9" y="546.5" font-size="25.6" fill="#000" stroke="#000" stroke-width="0.45" >33-T</text>
<line x1="79.5" y1="570.2" x2="138" y2="570.2" stroke="#22962a" stroke-width="3" />
<text x="144.3" y="578.4" font-size="25.6" fill="#000" stroke="#000" stroke-width="0.45" >30-C</text>
<line x1="206.5" y1="570.2" x2="266.4" y2="570.2" stroke="#c048b0" stroke-width="3" />
<text x="271.5" y="578.4" font-size="25.6" fill="#000" stroke="#000" stroke-width="0.45" >31-C</text>
<line x1="333.8" y1="570.2" x2="393.3" y2="570.2" stroke="#6a2aa0" stroke-width="3" />
<text x="400" y="578.4" font-size="25.6" fill="#000" stroke="#000" stroke-width="0.45" >32-C</text>
<line x1="461" y1="570.2" x2="520.8" y2="570.2" stroke="#807d10" stroke-width="3" />
<text x="526.5" y="578.4" font-size="25.6" fill="#000" stroke="#000" stroke-width="0.45" >33-C</text>
<clipPath id="clipe"><rect x="698.4" y="592.7" width="441.2" height="303.9"/></clipPath>
<g clip-path="url(#clipe)">
<polyline points="698.4,614.1 1086.7,614.5 1139.6,615.8" fill="none" stroke="#14908e" stroke-width="3" stroke-linejoin="round" />
<polyline points="698.4,655.9 1139.6,650.6" fill="none" stroke="#000000" stroke-width="3" stroke-linejoin="round" />
<polyline points="698.4,754.1 1139.6,747.6" fill="none" stroke="#d050b0" stroke-width="2.8" stroke-linejoin="round" />
<polyline points="698.4,758 1139.6,751.9" fill="none" stroke="#ee1a10" stroke-width="2.8" stroke-linejoin="round" />
<polyline points="698.4,788.9 1139.6,782.8" fill="none" stroke="#807d10" stroke-width="2.6" stroke-linejoin="round" />
<polyline points="698.4,795.5 702.5,795.5 706.5,795.6 710.6,795.8 714.6,796.1 718.7,796.3 722.7,796.6 726.8,796.9 730.8,797.2 734.9,797.5 738.9,797.7 743,797.8 747,797.8 751.7,797.8 756.5,797.5 761.2,797.2 766,796.8 770.7,796.3 775.5,795.8 780.2,795.3 785,794.8 789.7,794.4 794.5,794.1 799.2,793.9 804,793.8 807.6,793.8 811.2,794 814.8,794.2 818.5,794.5 822.1,794.8 825.7,795.1 829.4,795.5 833,795.8 836.6,796.1 840.2,796.3 843.9,796.4 847.5,796.5 851.4,796.4 855.3,796.2 859.2,795.8 863.1,795.4 867,794.9 871,794.3 874.9,793.7 878.8,793.2 882.7,792.7 886.6,792.4 890.5,792.2 894.4,792.1 898.9,792.1 903.3,792.3 907.8,792.5 912.3,792.7 916.7,793 921.2,793.3 925.7,793.6 930.1,793.9 934.6,794.1 939.1,794.3 943.5,794.4 948,794.5 951.4,794.4 954.7,794.2 958.1,794 961.4,793.6 964.8,793.2 968.1,792.8 971.5,792.3 974.8,791.9 978.2,791.6 981.5,791.3 984.9,791.2 988.2,791.1 992.7,791.1 997.1,791.2 1001.6,791.4 1006.1,791.6 1010.5,791.8 1015,792.1 1019.5,792.4 1023.9,792.6 1028.4,792.8 1032.9,793 1037.3,793.1 1041.8,793.1 1045.4,793 1049.1,792.8 1052.7,792.5 1056.3,792.1 1060,791.6 1063.6,791.1 1067.2,790.6 1070.8,790.1 1074.5,789.7 1078.1,789.4 1081.7,789.2 1085.4,789.1 1089.9,789.1 1094.4,789.3 1098.9,789.5 1103.5,789.8 1108,790.1 1112.5,790.4 1117,790.8 1121.5,791.1 1126.1,791.4 1130.6,791.6 1135.1,791.7 1139.6,791.8" fill="none" stroke="#2e2090" stroke-width="2.6" stroke-linejoin="round" />
<polyline points="698.4,802.2 702.5,802.2 706.5,802.1 710.6,802 714.6,801.9 718.7,801.8 722.7,801.7 726.8,801.6 730.8,801.4 734.9,801.3 738.9,801.2 743,801.2 747,801.2 751.7,801.1 756.5,801 761.2,800.9 766,800.7 770.7,800.4 775.5,800.2 780.2,799.9 785,799.7 789.7,799.5 794.5,799.3 799.2,799.2 804,799.2 808.4,799.2 812.9,799.3 817.4,799.6 821.8,799.8 826.3,800.2 830.8,800.5 835.2,800.9 839.7,801.2 844.2,801.5 848.6,801.7 853.1,801.8 857.6,801.9 861.7,801.8 865.9,801.7 870.1,801.4 874.3,801.1 878.5,800.7 882.7,800.3 886.9,799.9 891.1,799.6 895.2,799.3 899.4,799 903.6,798.9 907.8,798.8 912,798.9 916.2,798.9 920.4,799.1 924.6,799.2 928.7,799.5 932.9,799.7 937.1,799.9 941.3,800.1 945.5,800.3 949.7,800.4 953.9,800.5 958.1,800.5 961.7,800.5 965.3,800.3 968.9,800.1 972.6,799.8 976.2,799.5 979.8,799.2 983.5,798.8 987.1,798.5 990.7,798.2 994.3,798 998,797.9 1001.6,797.8 1006.1,797.9 1010.5,798 1015,798.2 1019.5,798.5 1023.9,798.8 1028.4,799.2 1032.9,799.5 1037.3,799.8 1041.8,800.1 1046.3,800.3 1050.7,800.5 1055.2,800.5 1058.8,800.5 1062.5,800.3 1066.1,800 1069.7,799.7 1073.4,799.3 1077,798.8 1080.6,798.4 1084.2,798 1087.9,797.6 1091.5,797.4 1095.1,797.2 1098.8,797.1 1102.2,797.2 1105.6,797.3 1109,797.4 1112.4,797.7 1115.8,797.9 1119.2,798.2 1122.6,798.4 1126,798.7 1129.4,798.9 1132.8,799 1136.2,799.1 1139.6,799.2" fill="none" stroke="#6a2aa0" stroke-width="2.6" stroke-linejoin="round" />
<polyline points="698.4,881.3 699.9,881.2 701.5,881.2 703,881 704.6,880.8 706.1,880.6 707.7,880.4 709.2,880.2 710.8,880 712.3,879.8 713.8,879.6 715.4,879.6 716.9,879.5 720.5,879.6 724.1,879.9 727.7,880.4 731.3,880.9 734.9,881.6 738.5,882.4 742.2,883.1 745.8,883.8 749.4,884.4 753,884.8 756.6,885.1 760.2,885.2 764.4,885 768.6,884.5 772.7,883.8 776.9,882.8 781.1,881.6 785.3,880.4 789.5,879.2 793.7,878 797.9,877 802.1,876.2 806.3,875.8 810.5,875.6 814.4,875.8 818.3,876.2 822.2,876.9 826.1,877.9 830,879 833.8,880.2 837.7,881.4 841.6,882.5 845.5,883.4 849.4,884.1 853.3,884.6 857.2,884.8 861.4,884.6 865.6,884.1 869.8,883.3 874,882.4 878.2,881.2 882.4,880 886.6,878.7 890.8,877.6 895,876.6 899.1,875.8 903.3,875.3 907.5,875.2 911.2,875.3 914.8,875.7 918.4,876.3 922.1,877 925.7,877.9 929.4,878.9 933,879.8 936.6,880.7 940.3,881.5 943.9,882.1 947.6,882.4 951.2,882.6 955.4,882.4 959.6,881.9 963.8,881.1 968,880.1 972.2,878.9 976.4,877.6 980.5,876.3 984.7,875.1 988.9,874 993.1,873.2 997.3,872.7 1001.5,872.6 1005.4,872.7 1009.3,873.1 1013.2,873.8 1017.1,874.7 1021,875.8 1024.9,876.9 1028.8,878 1032.7,879.1 1036.6,880 1040.5,880.7 1044.4,881.1 1048.3,881.3 1052.5,881.1 1056.7,880.5 1060.8,879.7 1065,878.5 1069.2,877.2 1073.4,875.8 1077.6,874.4 1081.8,873.1 1086,872 1090.2,871.1 1094.4,870.6 1098.6,870.4 1102,870.5 1105.4,870.9 1108.8,871.5 1112.2,872.2 1115.7,873.1 1119.1,874.1 1122.5,875 1125.9,875.9 1129.3,876.7 1132.8,877.3 1136.2,877.7 1139.6,877.8" fill="none" stroke="#ff8010" stroke-width="2.6" stroke-linejoin="round" />
</g>
<line x1="698.4" y1="592.7" x2="1139.6" y2="592.7" stroke="#333" stroke-width="1.5" />
<line x1="1139.6" y1="592.7" x2="1139.6" y2="896.6" stroke="#888" stroke-width="2" />
<line x1="698.4" y1="592" x2="698.4" y2="897.6" stroke="#777" stroke-width="1.6" />
<line x1="697.4" y1="896.6" x2="1140.6" y2="896.6" stroke="#444" stroke-width="1.8" />
<line x1="695.4" y1="896.1" x2="698.4" y2="896.1" stroke="#222" stroke-width="1.3" />
<line x1="692.4" y1="874.3" x2="698.4" y2="874.3" stroke="#222" stroke-width="1.3" />
<text x="652.5" y="881.9" font-size="24.8" fill="#000" stroke="#000" stroke-width="0.45" >-60</text>
<line x1="695.4" y1="852.5" x2="698.4" y2="852.5" stroke="#222" stroke-width="1.3" />
<line x1="692.4" y1="830.8" x2="698.4" y2="830.8" stroke="#222" stroke-width="1.3" />
<text x="652.5" y="838.4" font-size="24.8" fill="#000" stroke="#000" stroke-width="0.45" >-50</text>
<line x1="695.4" y1="809" x2="698.4" y2="809" stroke="#222" stroke-width="1.3" />
<line x1="692.4" y1="787.2" x2="698.4" y2="787.2" stroke="#222" stroke-width="1.3" />
<text x="652.5" y="794.8" font-size="24.8" fill="#000" stroke="#000" stroke-width="0.45" >-40</text>
<line x1="695.4" y1="765.4" x2="698.4" y2="765.4" stroke="#222" stroke-width="1.3" />
<line x1="692.4" y1="743.6" x2="698.4" y2="743.6" stroke="#222" stroke-width="1.3" />
<text x="652.5" y="751.3" font-size="24.8" fill="#000" stroke="#000" stroke-width="0.45" >-30</text>
<line x1="695.4" y1="721.9" x2="698.4" y2="721.9" stroke="#222" stroke-width="1.3" />
<line x1="692.4" y1="700.1" x2="698.4" y2="700.1" stroke="#222" stroke-width="1.3" />
<text x="652.5" y="707.7" font-size="24.8" fill="#000" stroke="#000" stroke-width="0.45" >-20</text>
<line x1="695.4" y1="678.3" x2="698.4" y2="678.3" stroke="#222" stroke-width="1.3" />
<line x1="692.4" y1="656.5" x2="698.4" y2="656.5" stroke="#222" stroke-width="1.3" />
<text x="652.5" y="664.2" font-size="24.8" fill="#000" stroke="#000" stroke-width="0.45" >-10</text>
<line x1="695.4" y1="634.8" x2="698.4" y2="634.8" stroke="#222" stroke-width="1.3" />
<line x1="692.4" y1="613" x2="698.4" y2="613" stroke="#222" stroke-width="1.3" />
<text x="674.6" y="620.6" font-size="24.8" fill="#000" stroke="#000" stroke-width="0.45" >0</text>
<line x1="695.4" y1="591.2" x2="698.4" y2="591.2" stroke="#222" stroke-width="1.3" />
<line x1="698.4" y1="896.6" x2="698.4" y2="902.6" stroke="#444" stroke-width="1.4" />
<text x="670.4" y="926.2" font-size="24.8" fill="#000" stroke="#000" stroke-width="0.45" >1500</text>
<line x1="742.5" y1="896.6" x2="742.5" y2="900.1" stroke="#444" stroke-width="1.4" />
<line x1="786.6" y1="896.6" x2="786.6" y2="902.6" stroke="#444" stroke-width="1.4" />
<text x="758.6" y="926.2" font-size="24.8" fill="#000" stroke="#000" stroke-width="0.45" >1520</text>
<line x1="830.8" y1="896.6" x2="830.8" y2="900.1" stroke="#444" stroke-width="1.4" />
<line x1="874.9" y1="896.6" x2="874.9" y2="902.6" stroke="#444" stroke-width="1.4" />
<text x="846.9" y="926.2" font-size="24.8" fill="#000" stroke="#000" stroke-width="0.45" >1540</text>
<line x1="919" y1="896.6" x2="919" y2="900.1" stroke="#444" stroke-width="1.4" />
<line x1="963.1" y1="896.6" x2="963.1" y2="902.6" stroke="#444" stroke-width="1.4" />
<text x="935.1" y="926.2" font-size="24.8" fill="#000" stroke="#000" stroke-width="0.45" >1560</text>
<line x1="1007.2" y1="896.6" x2="1007.2" y2="900.1" stroke="#444" stroke-width="1.4" />
<line x1="1051.4" y1="896.6" x2="1051.4" y2="902.6" stroke="#444" stroke-width="1.4" />
<text x="1023.3" y="926.2" font-size="24.8" fill="#000" stroke="#000" stroke-width="0.45" >1580</text>
<line x1="1095.5" y1="896.6" x2="1095.5" y2="900.1" stroke="#444" stroke-width="1.4" />
<line x1="1139.6" y1="896.6" x2="1139.6" y2="902.6" stroke="#444" stroke-width="1.4" />
<text x="1111.6" y="926.2" font-size="24.8" fill="#000" stroke="#000" stroke-width="0.45" >1600</text>
<text x="825" y="959.7" font-size="25.05" fill="#000" stroke="#000" stroke-width="0.45" >Wavelength (nm)</text>
<text x="623.5" y="862.6" font-size="25.2" fill="#000" stroke="#000" stroke-width="0.45" transform="rotate(-90 623.5 862.6)">Transmission (dB)</text>
<text x="741.6" y="854.4" font-size="32.3" fill="#000" stroke="#000" stroke-width="0.45" >(e)</text>
<line x1="668.6" y1="540.9" x2="727.2" y2="540.9" stroke="#000" stroke-width="3" />
<text x="732.2" y="549.2" font-size="24.85" fill="#000" stroke="#000" stroke-width="0.45" >00-T</text>
<line x1="789.7" y1="540.9" x2="847.1" y2="540.9" stroke="#ee1a10" stroke-width="3" />
<text x="852.8" y="549.2" font-size="24.85" fill="#000" stroke="#000" stroke-width="0.45" >01-T</text>
<line x1="903.6" y1="540.9" x2="961.2" y2="540.9" stroke="#ff8010" stroke-width="3" />
<text x="966.6" y="549.2" font-size="24.85" fill="#000" stroke="#000" stroke-width="0.45" >02-T</text>
<line x1="1024.1" y1="540.9" x2="1081.9" y2="540.9" stroke="#2e2090" stroke-width="3" />
<text x="1087.1" y="549.2" font-size="24.85" fill="#000" stroke="#000" stroke-width="0.45" >03-T</text>
<line x1="668.6" y1="571.9" x2="727.6" y2="571.9" stroke="#14908e" stroke-width="3" />
<text x="732.2" y="579.8" font-size="24.85" fill="#000" stroke="#000" stroke-width="0.45" >00-C</text>
<line x1="792.5" y1="571.9" x2="850.3" y2="571.9" stroke="#c048b0" stroke-width="3" />
<text x="855.6" y="579.8" font-size="24.85" fill="#000" stroke="#000" stroke-width="0.45" >01-C</text>
<line x1="915.7" y1="571.9" x2="973.5" y2="571.9" stroke="#6a2aa0" stroke-width="3" />
<text x="979.8" y="579.8" font-size="24.85" fill="#000" stroke="#000" stroke-width="0.45" >02-C</text>
<line x1="1039.3" y1="571.9" x2="1097.4" y2="571.9" stroke="#807d10" stroke-width="3" />
<text x="1102.3" y="579.8" font-size="24.85" fill="#000" stroke="#000" stroke-width="0.45" >03-C</text>
</svg>
</div>
</body></html>
